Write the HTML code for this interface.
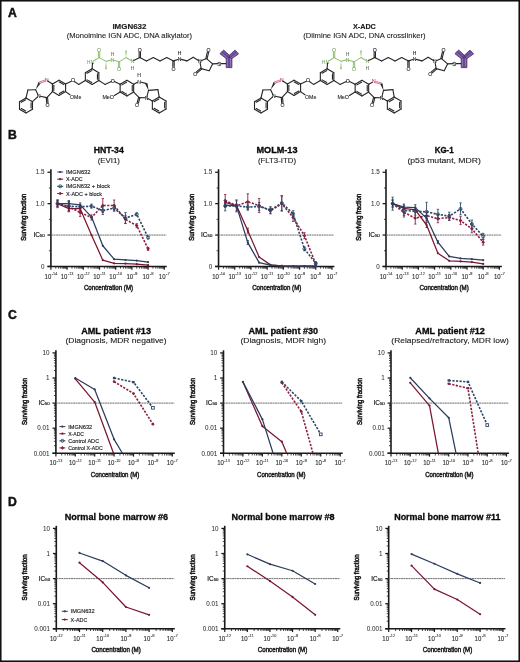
<!DOCTYPE html><html><head><meta charset="utf-8"><style>html,body{margin:0;padding:0;background:#fff;}svg{display:block;will-change:transform;}</style></head><body>
<svg width="520" height="662" viewBox="0 0 520 662" font-family='"Liberation Sans", sans-serif'>
<rect x="0" y="0" width="520" height="662" fill="#fff"/>
<text x="7.90" y="16.50" font-size="12.2" text-anchor="start" font-weight="bold" fill="#111" stroke="#111" stroke-width="0.45" >A</text>
<text x="7.90" y="139.20" font-size="12.2" text-anchor="start" font-weight="bold" fill="#111" stroke="#111" stroke-width="0.45" >B</text>
<text x="7.90" y="319.30" font-size="12.2" text-anchor="start" font-weight="bold" fill="#111" stroke="#111" stroke-width="0.45" >C</text>
<text x="7.90" y="506.20" font-size="12.2" text-anchor="start" font-weight="bold" fill="#111" stroke="#111" stroke-width="0.45" >D</text>
<g transform="translate(0,0)">
<line x1="26.00" y1="97.90" x2="32.49" y2="101.65" stroke="#262626" stroke-width="1.1" stroke-linecap="round"/>
<line x1="32.49" y1="101.65" x2="32.49" y2="109.15" stroke="#262626" stroke-width="1.1" stroke-linecap="round"/>
<line x1="32.49" y1="109.15" x2="26.00" y2="112.90" stroke="#262626" stroke-width="1.1" stroke-linecap="round"/>
<line x1="26.00" y1="112.90" x2="19.50" y2="109.15" stroke="#262626" stroke-width="1.1" stroke-linecap="round"/>
<line x1="19.50" y1="109.15" x2="19.50" y2="101.65" stroke="#262626" stroke-width="1.1" stroke-linecap="round"/>
<line x1="19.50" y1="101.65" x2="26.00" y2="97.90" stroke="#262626" stroke-width="1.1" stroke-linecap="round"/>
<line x1="21.24" y1="102.26" x2="25.66" y2="99.71" stroke="#262626" stroke-width="1.1" stroke-linecap="round"/>
<line x1="31.09" y1="102.85" x2="31.09" y2="107.95" stroke="#262626" stroke-width="1.1" stroke-linecap="round"/>
<line x1="25.66" y1="111.09" x2="21.24" y2="108.54" stroke="#262626" stroke-width="1.1" stroke-linecap="round"/>
<line x1="26.00" y1="97.90" x2="27.90" y2="90.00" stroke="#262626" stroke-width="1.1" stroke-linecap="round"/>
<line x1="27.90" y1="90.00" x2="35.60" y2="89.80" stroke="#262626" stroke-width="1.1" stroke-linecap="round"/>
<line x1="35.60" y1="89.80" x2="37.99" y2="94.74" stroke="#262626" stroke-width="1.1" stroke-linecap="round"/>
<line x1="32.49" y1="101.65" x2="37.57" y2="96.95" stroke="#262626" stroke-width="1.1" stroke-linecap="round"/>
<text x="38.80" y="97.77" font-size="4.93" text-anchor="middle" fill="#262626" stroke="#262626" stroke-width="0.12">N</text>
<path d="M35.60,89.80L40.65,83.18L38.55,82.02Z" fill="#262626"/>
<line x1="39.38" y1="81.99" x2="44.49" y2="80.19" stroke="#d4829f" stroke-width="1.1" stroke-linecap="round"/>
<line x1="39.82" y1="83.21" x2="44.92" y2="81.41" stroke="#d4829f" stroke-width="1.1" stroke-linecap="round"/>
<text x="46.60" y="81.74" font-size="5.38" text-anchor="middle" fill="#c04a78" stroke="#c04a78" stroke-width="0.12">N</text>
<line x1="59.00" y1="80.20" x2="65.58" y2="84.00" stroke="#262626" stroke-width="1.1" stroke-linecap="round"/>
<line x1="65.58" y1="84.00" x2="65.58" y2="91.60" stroke="#262626" stroke-width="1.1" stroke-linecap="round"/>
<line x1="65.58" y1="91.60" x2="59.00" y2="95.40" stroke="#262626" stroke-width="1.1" stroke-linecap="round"/>
<line x1="59.00" y1="95.40" x2="52.42" y2="91.60" stroke="#262626" stroke-width="1.1" stroke-linecap="round"/>
<line x1="52.42" y1="91.60" x2="52.42" y2="84.00" stroke="#262626" stroke-width="1.1" stroke-linecap="round"/>
<line x1="52.42" y1="84.00" x2="59.00" y2="80.20" stroke="#262626" stroke-width="1.1" stroke-linecap="round"/>
<line x1="59.34" y1="82.01" x2="63.84" y2="84.61" stroke="#262626" stroke-width="1.1" stroke-linecap="round"/>
<line x1="63.84" y1="90.99" x2="59.34" y2="93.59" stroke="#262626" stroke-width="1.1" stroke-linecap="round"/>
<line x1="53.82" y1="90.40" x2="53.82" y2="85.20" stroke="#262626" stroke-width="1.1" stroke-linecap="round"/>
<line x1="47.75" y1="81.05" x2="52.42" y2="84.00" stroke="#262626" stroke-width="1.1" stroke-linecap="round"/>
<line x1="52.42" y1="91.60" x2="46.90" y2="97.60" stroke="#262626" stroke-width="1.1" stroke-linecap="round"/>
<line x1="46.90" y1="97.60" x2="40.17" y2="96.30" stroke="#262626" stroke-width="1.1" stroke-linecap="round"/>
<line x1="47.55" y1="97.54" x2="48.01" y2="102.95" stroke="#262626" stroke-width="1.1" stroke-linecap="round"/>
<line x1="46.25" y1="97.66" x2="46.72" y2="103.06" stroke="#262626" stroke-width="1.1" stroke-linecap="round"/>
<text x="47.60" y="107.25" font-size="5.15" text-anchor="middle" fill="#262626" stroke="#262626" stroke-width="0.12">O</text>
<line x1="65.58" y1="84.00" x2="71.36" y2="81.32" stroke="#262626" stroke-width="1.1" stroke-linecap="round"/>
<line x1="74.31" y1="81.54" x2="78.60" y2="84.40" stroke="#262626" stroke-width="1.1" stroke-linecap="round"/>
<text x="72.90" y="82.45" font-size="5.15" text-anchor="middle" fill="#262626" stroke="#262626" stroke-width="0.12">O</text>
<line x1="65.58" y1="91.60" x2="69.99" y2="94.68" stroke="#262626" stroke-width="1.1" stroke-linecap="round"/>
<text x="70.0" y="98.5" font-size="5.1" fill="#262626" stroke="#262626" stroke-width="0.1" textLength="11.3" lengthAdjust="spacingAndGlyphs">OMe</text>
<line x1="92.10" y1="68.80" x2="98.85" y2="72.70" stroke="#262626" stroke-width="1.1" stroke-linecap="round"/>
<line x1="98.85" y1="72.70" x2="98.85" y2="80.50" stroke="#262626" stroke-width="1.1" stroke-linecap="round"/>
<line x1="98.85" y1="80.50" x2="92.10" y2="84.40" stroke="#262626" stroke-width="1.1" stroke-linecap="round"/>
<line x1="92.10" y1="84.40" x2="85.35" y2="80.50" stroke="#262626" stroke-width="1.1" stroke-linecap="round"/>
<line x1="85.35" y1="80.50" x2="85.35" y2="72.70" stroke="#262626" stroke-width="1.1" stroke-linecap="round"/>
<line x1="85.35" y1="72.70" x2="92.10" y2="68.80" stroke="#262626" stroke-width="1.1" stroke-linecap="round"/>
<line x1="97.45" y1="73.90" x2="97.45" y2="79.30" stroke="#262626" stroke-width="1.1" stroke-linecap="round"/>
<line x1="91.76" y1="82.59" x2="87.08" y2="79.89" stroke="#262626" stroke-width="1.1" stroke-linecap="round"/>
<line x1="87.08" y1="73.31" x2="91.76" y2="70.61" stroke="#262626" stroke-width="1.1" stroke-linecap="round"/>
<line x1="78.60" y1="84.40" x2="85.35" y2="80.50" stroke="#262626" stroke-width="1.1" stroke-linecap="round"/>
<line x1="98.85" y1="80.50" x2="105.00" y2="84.40" stroke="#262626" stroke-width="1.1" stroke-linecap="round"/>
<line x1="105.00" y1="84.40" x2="111.26" y2="81.51" stroke="#262626" stroke-width="1.1" stroke-linecap="round"/>
<text x="112.80" y="82.65" font-size="5.15" text-anchor="middle" fill="#262626" stroke="#262626" stroke-width="0.12">O</text>
<line x1="126.90" y1="80.35" x2="133.65" y2="84.25" stroke="#262626" stroke-width="1.1" stroke-linecap="round"/>
<line x1="133.65" y1="84.25" x2="133.65" y2="92.05" stroke="#262626" stroke-width="1.1" stroke-linecap="round"/>
<line x1="133.65" y1="92.05" x2="126.90" y2="95.95" stroke="#262626" stroke-width="1.1" stroke-linecap="round"/>
<line x1="126.90" y1="95.95" x2="120.15" y2="92.05" stroke="#262626" stroke-width="1.1" stroke-linecap="round"/>
<line x1="120.15" y1="92.05" x2="120.15" y2="84.25" stroke="#262626" stroke-width="1.1" stroke-linecap="round"/>
<line x1="120.15" y1="84.25" x2="126.90" y2="80.35" stroke="#262626" stroke-width="1.1" stroke-linecap="round"/>
<line x1="132.25" y1="85.45" x2="132.25" y2="90.85" stroke="#262626" stroke-width="1.1" stroke-linecap="round"/>
<line x1="126.56" y1="94.14" x2="121.88" y2="91.44" stroke="#262626" stroke-width="1.1" stroke-linecap="round"/>
<line x1="121.88" y1="84.86" x2="126.56" y2="82.16" stroke="#262626" stroke-width="1.1" stroke-linecap="round"/>
<line x1="114.34" y1="81.52" x2="120.15" y2="84.25" stroke="#262626" stroke-width="1.1" stroke-linecap="round"/>
<line x1="120.15" y1="92.05" x2="114.38" y2="95.48" stroke="#262626" stroke-width="1.1" stroke-linecap="round"/>
<text x="102.4" y="99.0" font-size="5.1" fill="#262626" stroke="#262626" stroke-width="0.1" textLength="11.6" lengthAdjust="spacingAndGlyphs">MeO</text>
<line x1="133.65" y1="84.25" x2="137.57" y2="82.31" stroke="#262626" stroke-width="1.1" stroke-linecap="round"/>
<line x1="140.74" y1="82.07" x2="146.40" y2="83.60" stroke="#262626" stroke-width="1.1" stroke-linecap="round"/>
<text x="139.00" y="83.65" font-size="5.15" text-anchor="middle" fill="#445" stroke="#445" stroke-width="0.12">N</text>
<text x="139.00" y="77.45" font-size="5.15" text-anchor="middle" fill="#445" stroke="#445" stroke-width="0.12">H</text>
<path d="M148.50,90.40L147.55,83.25L145.25,83.95Z" fill="#262626"/>
<line x1="133.65" y1="92.05" x2="139.20" y2="97.60" stroke="#262626" stroke-width="1.1" stroke-linecap="round"/>
<line x1="139.83" y1="97.77" x2="138.44" y2="103.02" stroke="#262626" stroke-width="1.1" stroke-linecap="round"/>
<line x1="138.57" y1="97.43" x2="137.18" y2="102.69" stroke="#262626" stroke-width="1.1" stroke-linecap="round"/>
<text x="137.10" y="107.05" font-size="5.15" text-anchor="middle" fill="#262626" stroke="#262626" stroke-width="0.12">O</text>
<line x1="139.20" y1="97.60" x2="145.10" y2="97.76" stroke="#262626" stroke-width="1.1" stroke-linecap="round"/>
<line x1="148.50" y1="90.40" x2="146.97" y2="96.35" stroke="#262626" stroke-width="1.1" stroke-linecap="round"/>
<text x="146.60" y="99.57" font-size="4.93" text-anchor="middle" fill="#262626" stroke="#262626" stroke-width="0.12">N</text>
<line x1="159.20" y1="97.10" x2="166.04" y2="101.05" stroke="#262626" stroke-width="1.1" stroke-linecap="round"/>
<line x1="166.04" y1="101.05" x2="166.04" y2="108.95" stroke="#262626" stroke-width="1.1" stroke-linecap="round"/>
<line x1="166.04" y1="108.95" x2="159.20" y2="112.90" stroke="#262626" stroke-width="1.1" stroke-linecap="round"/>
<line x1="159.20" y1="112.90" x2="152.36" y2="108.95" stroke="#262626" stroke-width="1.1" stroke-linecap="round"/>
<line x1="152.36" y1="108.95" x2="152.36" y2="101.05" stroke="#262626" stroke-width="1.1" stroke-linecap="round"/>
<line x1="152.36" y1="101.05" x2="159.20" y2="97.10" stroke="#262626" stroke-width="1.1" stroke-linecap="round"/>
<line x1="164.64" y1="102.25" x2="164.64" y2="107.75" stroke="#262626" stroke-width="1.1" stroke-linecap="round"/>
<line x1="158.86" y1="111.09" x2="154.10" y2="108.34" stroke="#262626" stroke-width="1.1" stroke-linecap="round"/>
<line x1="154.10" y1="101.66" x2="158.86" y2="98.91" stroke="#262626" stroke-width="1.1" stroke-linecap="round"/>
<line x1="148.50" y1="90.40" x2="157.90" y2="89.60" stroke="#262626" stroke-width="1.1" stroke-linecap="round"/>
<line x1="157.90" y1="89.60" x2="159.20" y2="97.10" stroke="#262626" stroke-width="1.1" stroke-linecap="round"/>
<line x1="147.91" y1="98.54" x2="152.36" y2="101.05" stroke="#262626" stroke-width="1.1" stroke-linecap="round"/>
<line x1="92.10" y1="68.80" x2="92.50" y2="63.10" stroke="#262626" stroke-width="1.1" stroke-linecap="round"/>
<text x="86.5" y="63.6" font-size="5.1" fill="#7da66a" textLength="8.0" lengthAdjust="spacingAndGlyphs">HN</text>
<line x1="93.96" y1="60.76" x2="99.10" y2="57.60" stroke="#93c173" stroke-width="1.1" stroke-linecap="round"/>
<line x1="98.45" y1="57.60" x2="98.45" y2="52.10" stroke="#93c173" stroke-width="1.0" stroke-linecap="round"/>
<line x1="99.75" y1="57.60" x2="99.75" y2="52.10" stroke="#93c173" stroke-width="1.0" stroke-linecap="round"/>
<text x="99.10" y="52.25" font-size="5.15" text-anchor="middle" fill="#7da66a" stroke="#7da66a" stroke-width="0.12">O</text>
<line x1="99.10" y1="57.60" x2="106.00" y2="61.30" stroke="#93c173" stroke-width="1.0" stroke-linecap="round"/>
<path d="M106.00,61.30L105.10,69.20L106.90,69.20Z" fill="#93c173"/>
<line x1="106.00" y1="61.30" x2="111.04" y2="60.14" stroke="#93c173" stroke-width="1.1" stroke-linecap="round"/>
<text x="112.50" y="61.57" font-size="4.93" text-anchor="middle" fill="#7da66a" stroke="#7da66a" stroke-width="0.12">N</text>
<text x="112.50" y="55.97" font-size="4.93" text-anchor="middle" fill="#6a7a6a" stroke="#6a7a6a" stroke-width="0.12">H</text>
<line x1="113.93" y1="60.24" x2="119.00" y2="61.80" stroke="#93c173" stroke-width="1.1" stroke-linecap="round"/>
<line x1="119.65" y1="61.80" x2="119.65" y2="67.40" stroke="#93c173" stroke-width="1.0" stroke-linecap="round"/>
<line x1="118.35" y1="61.80" x2="118.35" y2="67.40" stroke="#93c173" stroke-width="1.0" stroke-linecap="round"/>
<text x="119.00" y="71.45" font-size="5.15" text-anchor="middle" fill="#7da66a" stroke="#7da66a" stroke-width="0.12">O</text>
<line x1="119.00" y1="61.80" x2="126.00" y2="57.60" stroke="#93c173" stroke-width="1.0" stroke-linecap="round"/>
<path d="M126.00,57.60L126.90,50.60L125.10,50.60Z" fill="#93c173"/>
<line x1="126.00" y1="57.60" x2="131.09" y2="60.46" stroke="#93c173" stroke-width="1.1" stroke-linecap="round"/>
<text x="132.40" y="62.97" font-size="4.93" text-anchor="middle" fill="#7da66a" stroke="#7da66a" stroke-width="0.12">N</text>
<text x="132.40" y="69.77" font-size="4.93" text-anchor="middle" fill="#6a7a6a" stroke="#6a7a6a" stroke-width="0.12">H</text>
<line x1="133.75" y1="60.54" x2="139.80" y2="57.60" stroke="#262626" stroke-width="1.1" stroke-linecap="round"/>
<line x1="139.15" y1="57.60" x2="139.15" y2="52.00" stroke="#262626" stroke-width="1.1" stroke-linecap="round"/>
<line x1="140.45" y1="57.60" x2="140.45" y2="52.00" stroke="#262626" stroke-width="1.1" stroke-linecap="round"/>
<text x="139.80" y="52.05" font-size="5.15" text-anchor="middle" fill="#262626" stroke="#262626" stroke-width="0.12">O</text>
<line x1="139.80" y1="57.60" x2="146.50" y2="60.90" stroke="#262626" stroke-width="1.1" stroke-linecap="round"/>
<line x1="146.50" y1="60.90" x2="153.30" y2="57.50" stroke="#262626" stroke-width="1.1" stroke-linecap="round"/>
<line x1="153.30" y1="57.50" x2="160.00" y2="60.90" stroke="#262626" stroke-width="1.1" stroke-linecap="round"/>
<line x1="160.00" y1="60.90" x2="166.70" y2="57.50" stroke="#262626" stroke-width="1.1" stroke-linecap="round"/>
<line x1="166.70" y1="57.50" x2="173.50" y2="60.90" stroke="#262626" stroke-width="1.1" stroke-linecap="round"/>
<line x1="174.15" y1="60.90" x2="174.15" y2="66.60" stroke="#262626" stroke-width="1.1" stroke-linecap="round"/>
<line x1="172.85" y1="60.90" x2="172.85" y2="66.60" stroke="#262626" stroke-width="1.1" stroke-linecap="round"/>
<text x="173.50" y="70.65" font-size="5.15" text-anchor="middle" fill="#262626" stroke="#262626" stroke-width="0.12">O</text>
<line x1="173.50" y1="60.90" x2="178.07" y2="59.48" stroke="#262626" stroke-width="1.1" stroke-linecap="round"/>
<text x="179.60" y="60.77" font-size="4.93" text-anchor="middle" fill="#262626" stroke="#262626" stroke-width="0.12">N</text>
<text x="179.60" y="54.77" font-size="4.93" text-anchor="middle" fill="#262626" stroke="#262626" stroke-width="0.12">H</text>
<line x1="181.15" y1="59.40" x2="186.90" y2="60.90" stroke="#262626" stroke-width="1.1" stroke-linecap="round"/>
<line x1="186.90" y1="60.90" x2="193.20" y2="57.30" stroke="#262626" stroke-width="1.1" stroke-linecap="round"/>
<line x1="193.20" y1="57.30" x2="198.51" y2="60.44" stroke="#262626" stroke-width="1.1" stroke-linecap="round"/>
<text x="199.80" y="62.97" font-size="4.93" text-anchor="middle" fill="#262626" stroke="#262626" stroke-width="0.12">N</text>
<line x1="201.20" y1="60.66" x2="206.50" y2="58.60" stroke="#262626" stroke-width="1.1" stroke-linecap="round"/>
<line x1="206.50" y1="58.60" x2="212.60" y2="63.90" stroke="#262626" stroke-width="1.1" stroke-linecap="round"/>
<line x1="212.60" y1="63.90" x2="209.20" y2="70.70" stroke="#262626" stroke-width="1.1" stroke-linecap="round"/>
<line x1="209.20" y1="70.70" x2="201.20" y2="68.60" stroke="#262626" stroke-width="1.1" stroke-linecap="round"/>
<line x1="201.20" y1="68.60" x2="200.08" y2="62.67" stroke="#262626" stroke-width="1.1" stroke-linecap="round"/>
<line x1="205.87" y1="58.45" x2="207.41" y2="51.81" stroke="#262626" stroke-width="1.1" stroke-linecap="round"/>
<line x1="207.13" y1="58.75" x2="208.67" y2="52.11" stroke="#262626" stroke-width="1.1" stroke-linecap="round"/>
<text x="208.50" y="51.85" font-size="5.15" text-anchor="middle" fill="#262626" stroke="#262626" stroke-width="0.12">O</text>
<line x1="201.62" y1="69.09" x2="197.24" y2="72.85" stroke="#262626" stroke-width="1.1" stroke-linecap="round"/>
<line x1="200.78" y1="68.11" x2="196.39" y2="71.87" stroke="#262626" stroke-width="1.1" stroke-linecap="round"/>
<text x="195.20" y="75.85" font-size="5.15" text-anchor="middle" fill="#262626" stroke="#262626" stroke-width="0.12">O</text>
<line x1="212.60" y1="63.90" x2="217.60" y2="63.67" stroke="#262626" stroke-width="1.1" stroke-linecap="round"/>
<text x="219.20" y="65.6" font-size="5.6" text-anchor="middle" fill="#4a4a4a" stroke="#4a4a4a" stroke-width="0.3">S</text>
<line x1="220.80" y1="63.60" x2="226.80" y2="63.60" stroke="#262626" stroke-width="1.1" stroke-linecap="round"/>
<g fill="#73559e" stroke="#4d2f70" stroke-width="0.8" stroke-linejoin="round">
<path d="M226.2,57.0 L226.2,67.6 L231.9,67.6 L231.9,57.0 Z"/>
<path d="M219.9,53.7 L223.7,50.1 L229.7,55.6 L227.4,58.8 L226.2,58.6 Z"/>
<path d="M238.6,53.9 L235.0,50.1 L229.0,55.6 L230.9,58.8 L231.9,58.6 Z"/>
</g>
<g stroke="#4d2f70" stroke-width="0.6" fill="none" stroke-linecap="round">
</g>
<g stroke="#9d83c2" stroke-width="0.7" fill="none" stroke-linecap="round">
<line x1="227.6" y1="58.6" x2="227.6" y2="66.4"/>
<line x1="230.5" y1="58.6" x2="230.5" y2="66.4"/>
<line x1="221.9" y1="53.2" x2="226.6" y2="57.3"/>
<line x1="236.6" y1="53.2" x2="231.7" y2="57.3"/>
</g>
<g stroke="#4d2f70" stroke-width="0.6" fill="none" stroke-linecap="round">
<line x1="229.05" y1="56.0" x2="229.05" y2="67.4"/>
<line x1="221.8" y1="51.9" x2="227.9" y2="57.3"/>
<line x1="236.7" y1="51.9" x2="230.4" y2="57.3"/>
</g>
</g>
<text x="129.40" y="29.00" font-size="7.6" text-anchor="middle" font-weight="bold" fill="#222" textLength="34.0" lengthAdjust="spacingAndGlyphs" stroke="#222" stroke-width="0.15" >IMGN632</text>
<text x="129.40" y="38.20" font-size="7.4" text-anchor="middle" font-weight="normal" fill="#222" textLength="125.3" lengthAdjust="spacingAndGlyphs" stroke="#222" stroke-width="0.1" >(Monoimine IGN ADC, DNA alkylator)</text>
<g transform="translate(235,0)">
<line x1="26.00" y1="97.90" x2="32.49" y2="101.65" stroke="#262626" stroke-width="1.1" stroke-linecap="round"/>
<line x1="32.49" y1="101.65" x2="32.49" y2="109.15" stroke="#262626" stroke-width="1.1" stroke-linecap="round"/>
<line x1="32.49" y1="109.15" x2="26.00" y2="112.90" stroke="#262626" stroke-width="1.1" stroke-linecap="round"/>
<line x1="26.00" y1="112.90" x2="19.50" y2="109.15" stroke="#262626" stroke-width="1.1" stroke-linecap="round"/>
<line x1="19.50" y1="109.15" x2="19.50" y2="101.65" stroke="#262626" stroke-width="1.1" stroke-linecap="round"/>
<line x1="19.50" y1="101.65" x2="26.00" y2="97.90" stroke="#262626" stroke-width="1.1" stroke-linecap="round"/>
<line x1="21.24" y1="102.26" x2="25.66" y2="99.71" stroke="#262626" stroke-width="1.1" stroke-linecap="round"/>
<line x1="31.09" y1="102.85" x2="31.09" y2="107.95" stroke="#262626" stroke-width="1.1" stroke-linecap="round"/>
<line x1="25.66" y1="111.09" x2="21.24" y2="108.54" stroke="#262626" stroke-width="1.1" stroke-linecap="round"/>
<line x1="26.00" y1="97.90" x2="27.90" y2="90.00" stroke="#262626" stroke-width="1.1" stroke-linecap="round"/>
<line x1="27.90" y1="90.00" x2="35.60" y2="89.80" stroke="#262626" stroke-width="1.1" stroke-linecap="round"/>
<line x1="35.60" y1="89.80" x2="37.99" y2="94.74" stroke="#262626" stroke-width="1.1" stroke-linecap="round"/>
<line x1="32.49" y1="101.65" x2="37.57" y2="96.95" stroke="#262626" stroke-width="1.1" stroke-linecap="round"/>
<text x="38.80" y="97.77" font-size="4.93" text-anchor="middle" fill="#262626" stroke="#262626" stroke-width="0.12">N</text>
<path d="M35.60,89.80L40.65,83.18L38.55,82.02Z" fill="#262626"/>
<line x1="39.38" y1="81.99" x2="44.49" y2="80.19" stroke="#d4829f" stroke-width="1.1" stroke-linecap="round"/>
<line x1="39.82" y1="83.21" x2="44.92" y2="81.41" stroke="#d4829f" stroke-width="1.1" stroke-linecap="round"/>
<text x="46.60" y="81.74" font-size="5.38" text-anchor="middle" fill="#c04a78" stroke="#c04a78" stroke-width="0.12">N</text>
<line x1="59.00" y1="80.20" x2="65.58" y2="84.00" stroke="#262626" stroke-width="1.1" stroke-linecap="round"/>
<line x1="65.58" y1="84.00" x2="65.58" y2="91.60" stroke="#262626" stroke-width="1.1" stroke-linecap="round"/>
<line x1="65.58" y1="91.60" x2="59.00" y2="95.40" stroke="#262626" stroke-width="1.1" stroke-linecap="round"/>
<line x1="59.00" y1="95.40" x2="52.42" y2="91.60" stroke="#262626" stroke-width="1.1" stroke-linecap="round"/>
<line x1="52.42" y1="91.60" x2="52.42" y2="84.00" stroke="#262626" stroke-width="1.1" stroke-linecap="round"/>
<line x1="52.42" y1="84.00" x2="59.00" y2="80.20" stroke="#262626" stroke-width="1.1" stroke-linecap="round"/>
<line x1="59.34" y1="82.01" x2="63.84" y2="84.61" stroke="#262626" stroke-width="1.1" stroke-linecap="round"/>
<line x1="63.84" y1="90.99" x2="59.34" y2="93.59" stroke="#262626" stroke-width="1.1" stroke-linecap="round"/>
<line x1="53.82" y1="90.40" x2="53.82" y2="85.20" stroke="#262626" stroke-width="1.1" stroke-linecap="round"/>
<line x1="47.75" y1="81.05" x2="52.42" y2="84.00" stroke="#262626" stroke-width="1.1" stroke-linecap="round"/>
<line x1="52.42" y1="91.60" x2="46.90" y2="97.60" stroke="#262626" stroke-width="1.1" stroke-linecap="round"/>
<line x1="46.90" y1="97.60" x2="40.17" y2="96.30" stroke="#262626" stroke-width="1.1" stroke-linecap="round"/>
<line x1="47.55" y1="97.54" x2="48.01" y2="102.95" stroke="#262626" stroke-width="1.1" stroke-linecap="round"/>
<line x1="46.25" y1="97.66" x2="46.72" y2="103.06" stroke="#262626" stroke-width="1.1" stroke-linecap="round"/>
<text x="47.60" y="107.25" font-size="5.15" text-anchor="middle" fill="#262626" stroke="#262626" stroke-width="0.12">O</text>
<line x1="65.58" y1="84.00" x2="71.36" y2="81.32" stroke="#262626" stroke-width="1.1" stroke-linecap="round"/>
<line x1="74.31" y1="81.54" x2="78.60" y2="84.40" stroke="#262626" stroke-width="1.1" stroke-linecap="round"/>
<text x="72.90" y="82.45" font-size="5.15" text-anchor="middle" fill="#262626" stroke="#262626" stroke-width="0.12">O</text>
<line x1="65.58" y1="91.60" x2="69.99" y2="94.68" stroke="#262626" stroke-width="1.1" stroke-linecap="round"/>
<text x="70.0" y="98.5" font-size="5.1" fill="#262626" stroke="#262626" stroke-width="0.1" textLength="11.3" lengthAdjust="spacingAndGlyphs">OMe</text>
<line x1="92.10" y1="68.80" x2="98.85" y2="72.70" stroke="#262626" stroke-width="1.1" stroke-linecap="round"/>
<line x1="98.85" y1="72.70" x2="98.85" y2="80.50" stroke="#262626" stroke-width="1.1" stroke-linecap="round"/>
<line x1="98.85" y1="80.50" x2="92.10" y2="84.40" stroke="#262626" stroke-width="1.1" stroke-linecap="round"/>
<line x1="92.10" y1="84.40" x2="85.35" y2="80.50" stroke="#262626" stroke-width="1.1" stroke-linecap="round"/>
<line x1="85.35" y1="80.50" x2="85.35" y2="72.70" stroke="#262626" stroke-width="1.1" stroke-linecap="round"/>
<line x1="85.35" y1="72.70" x2="92.10" y2="68.80" stroke="#262626" stroke-width="1.1" stroke-linecap="round"/>
<line x1="97.45" y1="73.90" x2="97.45" y2="79.30" stroke="#262626" stroke-width="1.1" stroke-linecap="round"/>
<line x1="91.76" y1="82.59" x2="87.08" y2="79.89" stroke="#262626" stroke-width="1.1" stroke-linecap="round"/>
<line x1="87.08" y1="73.31" x2="91.76" y2="70.61" stroke="#262626" stroke-width="1.1" stroke-linecap="round"/>
<line x1="78.60" y1="84.40" x2="85.35" y2="80.50" stroke="#262626" stroke-width="1.1" stroke-linecap="round"/>
<line x1="98.85" y1="80.50" x2="105.00" y2="84.40" stroke="#262626" stroke-width="1.1" stroke-linecap="round"/>
<line x1="105.00" y1="84.40" x2="111.26" y2="81.51" stroke="#262626" stroke-width="1.1" stroke-linecap="round"/>
<text x="112.80" y="82.65" font-size="5.15" text-anchor="middle" fill="#262626" stroke="#262626" stroke-width="0.12">O</text>
<line x1="126.90" y1="80.35" x2="133.65" y2="84.25" stroke="#262626" stroke-width="1.1" stroke-linecap="round"/>
<line x1="133.65" y1="84.25" x2="133.65" y2="92.05" stroke="#262626" stroke-width="1.1" stroke-linecap="round"/>
<line x1="133.65" y1="92.05" x2="126.90" y2="95.95" stroke="#262626" stroke-width="1.1" stroke-linecap="round"/>
<line x1="126.90" y1="95.95" x2="120.15" y2="92.05" stroke="#262626" stroke-width="1.1" stroke-linecap="round"/>
<line x1="120.15" y1="92.05" x2="120.15" y2="84.25" stroke="#262626" stroke-width="1.1" stroke-linecap="round"/>
<line x1="120.15" y1="84.25" x2="126.90" y2="80.35" stroke="#262626" stroke-width="1.1" stroke-linecap="round"/>
<line x1="132.25" y1="85.45" x2="132.25" y2="90.85" stroke="#262626" stroke-width="1.1" stroke-linecap="round"/>
<line x1="126.56" y1="94.14" x2="121.88" y2="91.44" stroke="#262626" stroke-width="1.1" stroke-linecap="round"/>
<line x1="121.88" y1="84.86" x2="126.56" y2="82.16" stroke="#262626" stroke-width="1.1" stroke-linecap="round"/>
<line x1="114.34" y1="81.52" x2="120.15" y2="84.25" stroke="#262626" stroke-width="1.1" stroke-linecap="round"/>
<line x1="120.15" y1="92.05" x2="114.38" y2="95.48" stroke="#262626" stroke-width="1.1" stroke-linecap="round"/>
<text x="102.4" y="99.0" font-size="5.1" fill="#262626" stroke="#262626" stroke-width="0.1" textLength="11.6" lengthAdjust="spacingAndGlyphs">MeO</text>
<line x1="133.65" y1="84.25" x2="137.57" y2="82.31" stroke="#262626" stroke-width="1.1" stroke-linecap="round"/>
<line x1="140.91" y1="81.44" x2="146.57" y2="82.97" stroke="#d4829f" stroke-width="1.1" stroke-linecap="round"/>
<line x1="140.57" y1="82.70" x2="146.23" y2="84.23" stroke="#d4829f" stroke-width="1.1" stroke-linecap="round"/>
<text x="138.80" y="83.14" font-size="5.38" text-anchor="middle" fill="#c04a78" stroke="#c04a78" stroke-width="0.12">N</text>
<path d="M148.50,90.40L147.55,83.25L145.25,83.95Z" fill="#262626"/>
<line x1="133.65" y1="92.05" x2="139.20" y2="97.60" stroke="#262626" stroke-width="1.1" stroke-linecap="round"/>
<line x1="139.83" y1="97.77" x2="138.44" y2="103.02" stroke="#262626" stroke-width="1.1" stroke-linecap="round"/>
<line x1="138.57" y1="97.43" x2="137.18" y2="102.69" stroke="#262626" stroke-width="1.1" stroke-linecap="round"/>
<text x="137.10" y="107.05" font-size="5.15" text-anchor="middle" fill="#262626" stroke="#262626" stroke-width="0.12">O</text>
<line x1="139.20" y1="97.60" x2="145.10" y2="97.76" stroke="#262626" stroke-width="1.1" stroke-linecap="round"/>
<line x1="148.50" y1="90.40" x2="146.97" y2="96.35" stroke="#262626" stroke-width="1.1" stroke-linecap="round"/>
<text x="146.60" y="99.57" font-size="4.93" text-anchor="middle" fill="#262626" stroke="#262626" stroke-width="0.12">N</text>
<line x1="159.20" y1="97.10" x2="166.04" y2="101.05" stroke="#262626" stroke-width="1.1" stroke-linecap="round"/>
<line x1="166.04" y1="101.05" x2="166.04" y2="108.95" stroke="#262626" stroke-width="1.1" stroke-linecap="round"/>
<line x1="166.04" y1="108.95" x2="159.20" y2="112.90" stroke="#262626" stroke-width="1.1" stroke-linecap="round"/>
<line x1="159.20" y1="112.90" x2="152.36" y2="108.95" stroke="#262626" stroke-width="1.1" stroke-linecap="round"/>
<line x1="152.36" y1="108.95" x2="152.36" y2="101.05" stroke="#262626" stroke-width="1.1" stroke-linecap="round"/>
<line x1="152.36" y1="101.05" x2="159.20" y2="97.10" stroke="#262626" stroke-width="1.1" stroke-linecap="round"/>
<line x1="164.64" y1="102.25" x2="164.64" y2="107.75" stroke="#262626" stroke-width="1.1" stroke-linecap="round"/>
<line x1="158.86" y1="111.09" x2="154.10" y2="108.34" stroke="#262626" stroke-width="1.1" stroke-linecap="round"/>
<line x1="154.10" y1="101.66" x2="158.86" y2="98.91" stroke="#262626" stroke-width="1.1" stroke-linecap="round"/>
<line x1="148.50" y1="90.40" x2="157.90" y2="89.60" stroke="#262626" stroke-width="1.1" stroke-linecap="round"/>
<line x1="157.90" y1="89.60" x2="159.20" y2="97.10" stroke="#262626" stroke-width="1.1" stroke-linecap="round"/>
<line x1="147.91" y1="98.54" x2="152.36" y2="101.05" stroke="#262626" stroke-width="1.1" stroke-linecap="round"/>
<line x1="92.10" y1="68.80" x2="92.50" y2="63.10" stroke="#262626" stroke-width="1.1" stroke-linecap="round"/>
<text x="86.5" y="63.6" font-size="5.1" fill="#7da66a" textLength="8.0" lengthAdjust="spacingAndGlyphs">HN</text>
<line x1="93.96" y1="60.76" x2="99.10" y2="57.60" stroke="#93c173" stroke-width="1.1" stroke-linecap="round"/>
<line x1="98.45" y1="57.60" x2="98.45" y2="52.10" stroke="#93c173" stroke-width="1.0" stroke-linecap="round"/>
<line x1="99.75" y1="57.60" x2="99.75" y2="52.10" stroke="#93c173" stroke-width="1.0" stroke-linecap="round"/>
<text x="99.10" y="52.25" font-size="5.15" text-anchor="middle" fill="#7da66a" stroke="#7da66a" stroke-width="0.12">O</text>
<line x1="99.10" y1="57.60" x2="106.00" y2="61.30" stroke="#93c173" stroke-width="1.0" stroke-linecap="round"/>
<path d="M106.00,61.30L105.10,69.20L106.90,69.20Z" fill="#93c173"/>
<line x1="106.00" y1="61.30" x2="111.04" y2="60.14" stroke="#93c173" stroke-width="1.1" stroke-linecap="round"/>
<text x="112.50" y="61.57" font-size="4.93" text-anchor="middle" fill="#7da66a" stroke="#7da66a" stroke-width="0.12">N</text>
<text x="112.50" y="55.97" font-size="4.93" text-anchor="middle" fill="#6a7a6a" stroke="#6a7a6a" stroke-width="0.12">H</text>
<line x1="113.93" y1="60.24" x2="119.00" y2="61.80" stroke="#93c173" stroke-width="1.1" stroke-linecap="round"/>
<line x1="119.65" y1="61.80" x2="119.65" y2="67.40" stroke="#93c173" stroke-width="1.0" stroke-linecap="round"/>
<line x1="118.35" y1="61.80" x2="118.35" y2="67.40" stroke="#93c173" stroke-width="1.0" stroke-linecap="round"/>
<text x="119.00" y="71.45" font-size="5.15" text-anchor="middle" fill="#7da66a" stroke="#7da66a" stroke-width="0.12">O</text>
<line x1="119.00" y1="61.80" x2="126.00" y2="57.60" stroke="#93c173" stroke-width="1.0" stroke-linecap="round"/>
<path d="M126.00,57.60L126.90,50.60L125.10,50.60Z" fill="#93c173"/>
<line x1="126.00" y1="57.60" x2="131.09" y2="60.46" stroke="#93c173" stroke-width="1.1" stroke-linecap="round"/>
<text x="132.40" y="62.97" font-size="4.93" text-anchor="middle" fill="#7da66a" stroke="#7da66a" stroke-width="0.12">N</text>
<text x="132.40" y="69.77" font-size="4.93" text-anchor="middle" fill="#6a7a6a" stroke="#6a7a6a" stroke-width="0.12">H</text>
<line x1="133.75" y1="60.54" x2="139.80" y2="57.60" stroke="#262626" stroke-width="1.1" stroke-linecap="round"/>
<line x1="139.15" y1="57.60" x2="139.15" y2="52.00" stroke="#262626" stroke-width="1.1" stroke-linecap="round"/>
<line x1="140.45" y1="57.60" x2="140.45" y2="52.00" stroke="#262626" stroke-width="1.1" stroke-linecap="round"/>
<text x="139.80" y="52.05" font-size="5.15" text-anchor="middle" fill="#262626" stroke="#262626" stroke-width="0.12">O</text>
<line x1="139.80" y1="57.60" x2="146.50" y2="60.90" stroke="#262626" stroke-width="1.1" stroke-linecap="round"/>
<line x1="146.50" y1="60.90" x2="153.30" y2="57.50" stroke="#262626" stroke-width="1.1" stroke-linecap="round"/>
<line x1="153.30" y1="57.50" x2="160.00" y2="60.90" stroke="#262626" stroke-width="1.1" stroke-linecap="round"/>
<line x1="160.00" y1="60.90" x2="166.70" y2="57.50" stroke="#262626" stroke-width="1.1" stroke-linecap="round"/>
<line x1="166.70" y1="57.50" x2="173.50" y2="60.90" stroke="#262626" stroke-width="1.1" stroke-linecap="round"/>
<line x1="174.15" y1="60.90" x2="174.15" y2="66.60" stroke="#262626" stroke-width="1.1" stroke-linecap="round"/>
<line x1="172.85" y1="60.90" x2="172.85" y2="66.60" stroke="#262626" stroke-width="1.1" stroke-linecap="round"/>
<text x="173.50" y="70.65" font-size="5.15" text-anchor="middle" fill="#262626" stroke="#262626" stroke-width="0.12">O</text>
<line x1="173.50" y1="60.90" x2="178.07" y2="59.48" stroke="#262626" stroke-width="1.1" stroke-linecap="round"/>
<text x="179.60" y="60.77" font-size="4.93" text-anchor="middle" fill="#262626" stroke="#262626" stroke-width="0.12">N</text>
<text x="179.60" y="54.77" font-size="4.93" text-anchor="middle" fill="#262626" stroke="#262626" stroke-width="0.12">H</text>
<line x1="181.15" y1="59.40" x2="186.90" y2="60.90" stroke="#262626" stroke-width="1.1" stroke-linecap="round"/>
<line x1="186.90" y1="60.90" x2="193.20" y2="57.30" stroke="#262626" stroke-width="1.1" stroke-linecap="round"/>
<line x1="193.20" y1="57.30" x2="198.51" y2="60.44" stroke="#262626" stroke-width="1.1" stroke-linecap="round"/>
<text x="199.80" y="62.97" font-size="4.93" text-anchor="middle" fill="#262626" stroke="#262626" stroke-width="0.12">N</text>
<line x1="201.20" y1="60.66" x2="206.50" y2="58.60" stroke="#262626" stroke-width="1.1" stroke-linecap="round"/>
<line x1="206.50" y1="58.60" x2="212.60" y2="63.90" stroke="#262626" stroke-width="1.1" stroke-linecap="round"/>
<line x1="212.60" y1="63.90" x2="209.20" y2="70.70" stroke="#262626" stroke-width="1.1" stroke-linecap="round"/>
<line x1="209.20" y1="70.70" x2="201.20" y2="68.60" stroke="#262626" stroke-width="1.1" stroke-linecap="round"/>
<line x1="201.20" y1="68.60" x2="200.08" y2="62.67" stroke="#262626" stroke-width="1.1" stroke-linecap="round"/>
<line x1="205.87" y1="58.45" x2="207.41" y2="51.81" stroke="#262626" stroke-width="1.1" stroke-linecap="round"/>
<line x1="207.13" y1="58.75" x2="208.67" y2="52.11" stroke="#262626" stroke-width="1.1" stroke-linecap="round"/>
<text x="208.50" y="51.85" font-size="5.15" text-anchor="middle" fill="#262626" stroke="#262626" stroke-width="0.12">O</text>
<line x1="201.62" y1="69.09" x2="197.24" y2="72.85" stroke="#262626" stroke-width="1.1" stroke-linecap="round"/>
<line x1="200.78" y1="68.11" x2="196.39" y2="71.87" stroke="#262626" stroke-width="1.1" stroke-linecap="round"/>
<text x="195.20" y="75.85" font-size="5.15" text-anchor="middle" fill="#262626" stroke="#262626" stroke-width="0.12">O</text>
<line x1="212.60" y1="63.90" x2="217.60" y2="63.67" stroke="#262626" stroke-width="1.1" stroke-linecap="round"/>
<text x="219.20" y="65.6" font-size="5.6" text-anchor="middle" fill="#4a4a4a" stroke="#4a4a4a" stroke-width="0.3">S</text>
<line x1="220.80" y1="63.60" x2="226.80" y2="63.60" stroke="#262626" stroke-width="1.1" stroke-linecap="round"/>
<g fill="#73559e" stroke="#4d2f70" stroke-width="0.8" stroke-linejoin="round">
<path d="M226.2,57.0 L226.2,67.6 L231.9,67.6 L231.9,57.0 Z"/>
<path d="M219.9,53.7 L223.7,50.1 L229.7,55.6 L227.4,58.8 L226.2,58.6 Z"/>
<path d="M238.6,53.9 L235.0,50.1 L229.0,55.6 L230.9,58.8 L231.9,58.6 Z"/>
</g>
<g stroke="#4d2f70" stroke-width="0.6" fill="none" stroke-linecap="round">
</g>
<g stroke="#9d83c2" stroke-width="0.7" fill="none" stroke-linecap="round">
<line x1="227.6" y1="58.6" x2="227.6" y2="66.4"/>
<line x1="230.5" y1="58.6" x2="230.5" y2="66.4"/>
<line x1="221.9" y1="53.2" x2="226.6" y2="57.3"/>
<line x1="236.6" y1="53.2" x2="231.7" y2="57.3"/>
</g>
<g stroke="#4d2f70" stroke-width="0.6" fill="none" stroke-linecap="round">
<line x1="229.05" y1="56.0" x2="229.05" y2="67.4"/>
<line x1="221.8" y1="51.9" x2="227.9" y2="57.3"/>
<line x1="236.7" y1="51.9" x2="230.4" y2="57.3"/>
</g>
</g>
<text x="364.40" y="28.50" font-size="7.6" text-anchor="middle" font-weight="bold" fill="#222" textLength="22.9" lengthAdjust="spacingAndGlyphs" stroke="#222" stroke-width="0.15" >X-ADC</text>
<text x="364.40" y="38.20" font-size="7.4" text-anchor="middle" font-weight="normal" fill="#222" textLength="122.5" lengthAdjust="spacingAndGlyphs" stroke="#222" stroke-width="0.1" >(Diimine IGN ADC, DNA crosslinker)</text>
<line x1="50.90" y1="169.20" x2="50.90" y2="267.05" stroke="#1a1a1a" stroke-width="1.6" />
<line x1="47.50" y1="172.25" x2="50.90" y2="172.25" stroke="#1a1a1a" stroke-width="1.25" />
<text x="44.60" y="174.45" font-size="6.3" text-anchor="end" font-weight="normal" fill="#333" stroke="#333" stroke-width="0.05" >1.5</text>
<line x1="47.50" y1="203.65" x2="50.90" y2="203.65" stroke="#1a1a1a" stroke-width="1.25" />
<text x="44.60" y="205.85" font-size="6.3" text-anchor="end" font-weight="normal" fill="#333" stroke="#333" stroke-width="0.05" >1.0</text>
<line x1="47.50" y1="235.05" x2="50.90" y2="235.05" stroke="#1a1a1a" stroke-width="1.25" />
<line x1="47.50" y1="266.45" x2="50.90" y2="266.45" stroke="#1a1a1a" stroke-width="1.25" />
<text x="44.60" y="268.65" font-size="6.3" text-anchor="end" font-weight="normal" fill="#333" stroke="#333" stroke-width="0.05" >0</text>
<text x="44.70" y="237.35" font-size="6.4" text-anchor="end" fill="#222" stroke="#222" stroke-width="0.2">IC<tspan font-size="4.35" dy="-0.1">50</tspan></text>
<line x1="48.90" y1="250.75" x2="50.90" y2="250.75" stroke="#1a1a1a" stroke-width="0.8" />
<line x1="48.90" y1="219.35" x2="50.90" y2="219.35" stroke="#1a1a1a" stroke-width="0.8" />
<line x1="48.90" y1="187.95" x2="50.90" y2="187.95" stroke="#1a1a1a" stroke-width="0.8" />
<text transform="translate(23.50,217.30) rotate(-90)" x="0" y="0" font-size="7.4" text-anchor="middle" fill="#222" stroke="#222" stroke-width="0.55" textLength="47" lengthAdjust="spacingAndGlyphs" dominant-baseline="central">Surviving fraction</text>
<line x1="47.40" y1="266.45" x2="166.80" y2="266.45" stroke="#1a1a1a" stroke-width="1.5" />
<line x1="50.90" y1="266.45" x2="50.90" y2="269.75" stroke="#1a1a1a" stroke-width="1.2" />
<text x="44.55" y="278.60" font-size="7.0" text-anchor="start" font-weight="normal" fill="#2a2a2a" textLength="6.70" lengthAdjust="spacingAndGlyphs" stroke="#2a2a2a" stroke-width="0.12" >10</text>
<text x="51.75" y="275.30" font-size="4.4" text-anchor="start" font-weight="normal" fill="#444" textLength="5.50" lengthAdjust="spacingAndGlyphs" stroke="#444" stroke-width="0.12" >-14</text>
<line x1="55.78" y1="266.45" x2="55.78" y2="268.65" stroke="#1a1a1a" stroke-width="0.8" />
<line x1="58.63" y1="266.45" x2="58.63" y2="268.65" stroke="#1a1a1a" stroke-width="0.8" />
<line x1="60.65" y1="266.45" x2="60.65" y2="268.65" stroke="#1a1a1a" stroke-width="0.8" />
<line x1="62.22" y1="266.45" x2="62.22" y2="268.65" stroke="#1a1a1a" stroke-width="0.8" />
<line x1="63.51" y1="266.45" x2="63.51" y2="268.65" stroke="#1a1a1a" stroke-width="0.8" />
<line x1="64.59" y1="266.45" x2="64.59" y2="268.65" stroke="#1a1a1a" stroke-width="0.8" />
<line x1="65.53" y1="266.45" x2="65.53" y2="268.65" stroke="#1a1a1a" stroke-width="0.8" />
<line x1="66.36" y1="266.45" x2="66.36" y2="268.65" stroke="#1a1a1a" stroke-width="0.8" />
<line x1="67.10" y1="266.45" x2="67.10" y2="269.75" stroke="#1a1a1a" stroke-width="1.2" />
<text x="60.75" y="278.60" font-size="7.0" text-anchor="start" font-weight="normal" fill="#2a2a2a" textLength="6.70" lengthAdjust="spacingAndGlyphs" stroke="#2a2a2a" stroke-width="0.12" >10</text>
<text x="67.95" y="275.30" font-size="4.4" text-anchor="start" font-weight="normal" fill="#444" textLength="5.50" lengthAdjust="spacingAndGlyphs" stroke="#444" stroke-width="0.12" >-13</text>
<line x1="71.98" y1="266.45" x2="71.98" y2="268.65" stroke="#1a1a1a" stroke-width="0.8" />
<line x1="74.83" y1="266.45" x2="74.83" y2="268.65" stroke="#1a1a1a" stroke-width="0.8" />
<line x1="76.85" y1="266.45" x2="76.85" y2="268.65" stroke="#1a1a1a" stroke-width="0.8" />
<line x1="78.42" y1="266.45" x2="78.42" y2="268.65" stroke="#1a1a1a" stroke-width="0.8" />
<line x1="79.71" y1="266.45" x2="79.71" y2="268.65" stroke="#1a1a1a" stroke-width="0.8" />
<line x1="80.79" y1="266.45" x2="80.79" y2="268.65" stroke="#1a1a1a" stroke-width="0.8" />
<line x1="81.73" y1="266.45" x2="81.73" y2="268.65" stroke="#1a1a1a" stroke-width="0.8" />
<line x1="82.56" y1="266.45" x2="82.56" y2="268.65" stroke="#1a1a1a" stroke-width="0.8" />
<line x1="83.30" y1="266.45" x2="83.30" y2="269.75" stroke="#1a1a1a" stroke-width="1.2" />
<text x="76.95" y="278.60" font-size="7.0" text-anchor="start" font-weight="normal" fill="#2a2a2a" textLength="6.70" lengthAdjust="spacingAndGlyphs" stroke="#2a2a2a" stroke-width="0.12" >10</text>
<text x="84.15" y="275.30" font-size="4.4" text-anchor="start" font-weight="normal" fill="#444" textLength="5.50" lengthAdjust="spacingAndGlyphs" stroke="#444" stroke-width="0.12" >-12</text>
<line x1="88.18" y1="266.45" x2="88.18" y2="268.65" stroke="#1a1a1a" stroke-width="0.8" />
<line x1="91.03" y1="266.45" x2="91.03" y2="268.65" stroke="#1a1a1a" stroke-width="0.8" />
<line x1="93.05" y1="266.45" x2="93.05" y2="268.65" stroke="#1a1a1a" stroke-width="0.8" />
<line x1="94.62" y1="266.45" x2="94.62" y2="268.65" stroke="#1a1a1a" stroke-width="0.8" />
<line x1="95.91" y1="266.45" x2="95.91" y2="268.65" stroke="#1a1a1a" stroke-width="0.8" />
<line x1="96.99" y1="266.45" x2="96.99" y2="268.65" stroke="#1a1a1a" stroke-width="0.8" />
<line x1="97.93" y1="266.45" x2="97.93" y2="268.65" stroke="#1a1a1a" stroke-width="0.8" />
<line x1="98.76" y1="266.45" x2="98.76" y2="268.65" stroke="#1a1a1a" stroke-width="0.8" />
<line x1="99.50" y1="266.45" x2="99.50" y2="269.75" stroke="#1a1a1a" stroke-width="1.2" />
<text x="93.15" y="278.60" font-size="7.0" text-anchor="start" font-weight="normal" fill="#2a2a2a" textLength="6.70" lengthAdjust="spacingAndGlyphs" stroke="#2a2a2a" stroke-width="0.12" >10</text>
<text x="100.35" y="275.30" font-size="4.4" text-anchor="start" font-weight="normal" fill="#444" textLength="5.50" lengthAdjust="spacingAndGlyphs" stroke="#444" stroke-width="0.12" >-11</text>
<line x1="104.38" y1="266.45" x2="104.38" y2="268.65" stroke="#1a1a1a" stroke-width="0.8" />
<line x1="107.23" y1="266.45" x2="107.23" y2="268.65" stroke="#1a1a1a" stroke-width="0.8" />
<line x1="109.25" y1="266.45" x2="109.25" y2="268.65" stroke="#1a1a1a" stroke-width="0.8" />
<line x1="110.82" y1="266.45" x2="110.82" y2="268.65" stroke="#1a1a1a" stroke-width="0.8" />
<line x1="112.11" y1="266.45" x2="112.11" y2="268.65" stroke="#1a1a1a" stroke-width="0.8" />
<line x1="113.19" y1="266.45" x2="113.19" y2="268.65" stroke="#1a1a1a" stroke-width="0.8" />
<line x1="114.13" y1="266.45" x2="114.13" y2="268.65" stroke="#1a1a1a" stroke-width="0.8" />
<line x1="114.96" y1="266.45" x2="114.96" y2="268.65" stroke="#1a1a1a" stroke-width="0.8" />
<line x1="115.70" y1="266.45" x2="115.70" y2="269.75" stroke="#1a1a1a" stroke-width="1.2" />
<text x="109.35" y="278.60" font-size="7.0" text-anchor="start" font-weight="normal" fill="#2a2a2a" textLength="6.70" lengthAdjust="spacingAndGlyphs" stroke="#2a2a2a" stroke-width="0.12" >10</text>
<text x="116.55" y="275.30" font-size="4.4" text-anchor="start" font-weight="normal" fill="#444" textLength="5.50" lengthAdjust="spacingAndGlyphs" stroke="#444" stroke-width="0.12" >-10</text>
<line x1="120.58" y1="266.45" x2="120.58" y2="268.65" stroke="#1a1a1a" stroke-width="0.8" />
<line x1="123.43" y1="266.45" x2="123.43" y2="268.65" stroke="#1a1a1a" stroke-width="0.8" />
<line x1="125.45" y1="266.45" x2="125.45" y2="268.65" stroke="#1a1a1a" stroke-width="0.8" />
<line x1="127.02" y1="266.45" x2="127.02" y2="268.65" stroke="#1a1a1a" stroke-width="0.8" />
<line x1="128.31" y1="266.45" x2="128.31" y2="268.65" stroke="#1a1a1a" stroke-width="0.8" />
<line x1="129.39" y1="266.45" x2="129.39" y2="268.65" stroke="#1a1a1a" stroke-width="0.8" />
<line x1="130.33" y1="266.45" x2="130.33" y2="268.65" stroke="#1a1a1a" stroke-width="0.8" />
<line x1="131.16" y1="266.45" x2="131.16" y2="268.65" stroke="#1a1a1a" stroke-width="0.8" />
<line x1="131.90" y1="266.45" x2="131.90" y2="269.75" stroke="#1a1a1a" stroke-width="1.2" />
<text x="126.40" y="278.60" font-size="7.0" text-anchor="start" font-weight="normal" fill="#2a2a2a" textLength="6.70" lengthAdjust="spacingAndGlyphs" stroke="#2a2a2a" stroke-width="0.12" >10</text>
<text x="133.60" y="275.30" font-size="4.4" text-anchor="start" font-weight="normal" fill="#444" textLength="3.80" lengthAdjust="spacingAndGlyphs" stroke="#444" stroke-width="0.12" >-9</text>
<line x1="136.78" y1="266.45" x2="136.78" y2="268.65" stroke="#1a1a1a" stroke-width="0.8" />
<line x1="139.63" y1="266.45" x2="139.63" y2="268.65" stroke="#1a1a1a" stroke-width="0.8" />
<line x1="141.65" y1="266.45" x2="141.65" y2="268.65" stroke="#1a1a1a" stroke-width="0.8" />
<line x1="143.22" y1="266.45" x2="143.22" y2="268.65" stroke="#1a1a1a" stroke-width="0.8" />
<line x1="144.51" y1="266.45" x2="144.51" y2="268.65" stroke="#1a1a1a" stroke-width="0.8" />
<line x1="145.59" y1="266.45" x2="145.59" y2="268.65" stroke="#1a1a1a" stroke-width="0.8" />
<line x1="146.53" y1="266.45" x2="146.53" y2="268.65" stroke="#1a1a1a" stroke-width="0.8" />
<line x1="147.36" y1="266.45" x2="147.36" y2="268.65" stroke="#1a1a1a" stroke-width="0.8" />
<line x1="148.10" y1="266.45" x2="148.10" y2="269.75" stroke="#1a1a1a" stroke-width="1.2" />
<text x="142.60" y="278.60" font-size="7.0" text-anchor="start" font-weight="normal" fill="#2a2a2a" textLength="6.70" lengthAdjust="spacingAndGlyphs" stroke="#2a2a2a" stroke-width="0.12" >10</text>
<text x="149.80" y="275.30" font-size="4.4" text-anchor="start" font-weight="normal" fill="#444" textLength="3.80" lengthAdjust="spacingAndGlyphs" stroke="#444" stroke-width="0.12" >-8</text>
<line x1="152.98" y1="266.45" x2="152.98" y2="268.65" stroke="#1a1a1a" stroke-width="0.8" />
<line x1="155.83" y1="266.45" x2="155.83" y2="268.65" stroke="#1a1a1a" stroke-width="0.8" />
<line x1="157.85" y1="266.45" x2="157.85" y2="268.65" stroke="#1a1a1a" stroke-width="0.8" />
<line x1="159.42" y1="266.45" x2="159.42" y2="268.65" stroke="#1a1a1a" stroke-width="0.8" />
<line x1="160.71" y1="266.45" x2="160.71" y2="268.65" stroke="#1a1a1a" stroke-width="0.8" />
<line x1="161.79" y1="266.45" x2="161.79" y2="268.65" stroke="#1a1a1a" stroke-width="0.8" />
<line x1="162.73" y1="266.45" x2="162.73" y2="268.65" stroke="#1a1a1a" stroke-width="0.8" />
<line x1="163.56" y1="266.45" x2="163.56" y2="268.65" stroke="#1a1a1a" stroke-width="0.8" />
<line x1="164.30" y1="266.45" x2="164.30" y2="269.75" stroke="#1a1a1a" stroke-width="1.2" />
<text x="158.80" y="278.60" font-size="7.0" text-anchor="start" font-weight="normal" fill="#2a2a2a" textLength="6.70" lengthAdjust="spacingAndGlyphs" stroke="#2a2a2a" stroke-width="0.12" >10</text>
<text x="166.00" y="275.30" font-size="4.4" text-anchor="start" font-weight="normal" fill="#444" textLength="3.80" lengthAdjust="spacingAndGlyphs" stroke="#444" stroke-width="0.12" >-7</text>
<text x="108.50" y="290.00" font-size="7.4" text-anchor="middle" font-weight="normal" fill="#222" textLength="49.2" lengthAdjust="spacingAndGlyphs" stroke="#222" stroke-width="0.5" >Concentration (M)</text>
<line x1="50.90" y1="235.05" x2="166.30" y2="235.05" stroke="#686868" stroke-width="0.95" stroke-dasharray="2,0.45"/>
<path d="M57.51,203.65L68.84,206.79L80.16,212.44L91.48,217.47L102.81,205.53L114.13,205.53L125.45,219.35L136.78,225.63L148.10,248.87" fill="none" stroke="#8c1f40" stroke-width="1.6" stroke-dasharray="2.2,1.4" stroke-linejoin="round"/>
<line x1="57.51" y1="200.65" x2="57.51" y2="206.65" stroke="#8c1f40" stroke-width="0.9" />
<line x1="56.31" y1="200.65" x2="58.71" y2="200.65" stroke="#8c1f40" stroke-width="0.8" />
<line x1="56.31" y1="206.65" x2="58.71" y2="206.65" stroke="#8c1f40" stroke-width="0.8" />
<path d="M55.71,203.65L57.51,201.85L59.31,203.65L57.51,205.45Z" fill="#8c1f40"/>
<line x1="68.84" y1="201.79" x2="68.84" y2="211.79" stroke="#8c1f40" stroke-width="0.9" />
<line x1="67.64" y1="201.79" x2="70.04" y2="201.79" stroke="#8c1f40" stroke-width="0.8" />
<line x1="67.64" y1="211.79" x2="70.04" y2="211.79" stroke="#8c1f40" stroke-width="0.8" />
<path d="M67.04,206.79L68.84,204.99L70.64,206.79L68.84,208.59Z" fill="#8c1f40"/>
<line x1="80.16" y1="208.44" x2="80.16" y2="216.44" stroke="#8c1f40" stroke-width="0.9" />
<line x1="78.96" y1="208.44" x2="81.36" y2="208.44" stroke="#8c1f40" stroke-width="0.8" />
<line x1="78.96" y1="216.44" x2="81.36" y2="216.44" stroke="#8c1f40" stroke-width="0.8" />
<path d="M78.36,212.44L80.16,210.64L81.96,212.44L80.16,214.24Z" fill="#8c1f40"/>
<line x1="91.48" y1="214.87" x2="91.48" y2="220.07" stroke="#8c1f40" stroke-width="0.9" />
<line x1="90.28" y1="214.87" x2="92.68" y2="214.87" stroke="#8c1f40" stroke-width="0.8" />
<line x1="90.28" y1="220.07" x2="92.68" y2="220.07" stroke="#8c1f40" stroke-width="0.8" />
<path d="M89.68,217.47L91.48,215.67L93.28,217.47L91.48,219.27Z" fill="#8c1f40"/>
<line x1="102.81" y1="198.53" x2="102.81" y2="212.53" stroke="#8c1f40" stroke-width="0.9" />
<line x1="101.61" y1="198.53" x2="104.01" y2="198.53" stroke="#8c1f40" stroke-width="0.8" />
<line x1="101.61" y1="212.53" x2="104.01" y2="212.53" stroke="#8c1f40" stroke-width="0.8" />
<path d="M101.01,205.53L102.81,203.73L104.61,205.53L102.81,207.33Z" fill="#8c1f40"/>
<line x1="114.13" y1="200.03" x2="114.13" y2="211.03" stroke="#8c1f40" stroke-width="0.9" />
<line x1="112.93" y1="200.03" x2="115.33" y2="200.03" stroke="#8c1f40" stroke-width="0.8" />
<line x1="112.93" y1="211.03" x2="115.33" y2="211.03" stroke="#8c1f40" stroke-width="0.8" />
<path d="M112.33,205.53L114.13,203.73L115.93,205.53L114.13,207.33Z" fill="#8c1f40"/>
<line x1="125.45" y1="215.35" x2="125.45" y2="223.35" stroke="#8c1f40" stroke-width="0.9" />
<line x1="124.25" y1="215.35" x2="126.65" y2="215.35" stroke="#8c1f40" stroke-width="0.8" />
<line x1="124.25" y1="223.35" x2="126.65" y2="223.35" stroke="#8c1f40" stroke-width="0.8" />
<path d="M123.65,219.35L125.45,217.55L127.25,219.35L125.45,221.15Z" fill="#8c1f40"/>
<line x1="136.78" y1="223.63" x2="136.78" y2="227.63" stroke="#8c1f40" stroke-width="0.9" />
<line x1="135.58" y1="223.63" x2="137.98" y2="223.63" stroke="#8c1f40" stroke-width="0.8" />
<line x1="135.58" y1="227.63" x2="137.98" y2="227.63" stroke="#8c1f40" stroke-width="0.8" />
<path d="M134.98,225.63L136.78,223.83L138.58,225.63L136.78,227.43Z" fill="#8c1f40"/>
<line x1="148.10" y1="247.37" x2="148.10" y2="250.37" stroke="#8c1f40" stroke-width="0.9" />
<line x1="146.90" y1="247.37" x2="149.30" y2="247.37" stroke="#8c1f40" stroke-width="0.8" />
<line x1="146.90" y1="250.37" x2="149.30" y2="250.37" stroke="#8c1f40" stroke-width="0.8" />
<path d="M146.30,248.87L148.10,247.07L149.90,248.87L148.10,250.67Z" fill="#8c1f40"/>
<path d="M57.51,203.65L68.84,206.16L80.16,206.79L91.48,206.16L102.81,210.56L114.13,208.05L125.45,218.09L136.78,214.33L148.10,237.56" fill="none" stroke="#2b4766" stroke-width="1.6" stroke-dasharray="2.2,1.4" stroke-linejoin="round"/>
<line x1="57.51" y1="199.65" x2="57.51" y2="207.65" stroke="#2b4766" stroke-width="0.9" />
<line x1="56.31" y1="199.65" x2="58.71" y2="199.65" stroke="#2b4766" stroke-width="0.8" />
<line x1="56.31" y1="207.65" x2="58.71" y2="207.65" stroke="#2b4766" stroke-width="0.8" />
<circle cx="57.51" cy="203.65" r="1.5" fill="none" stroke="#2b4766" stroke-width="0.9"/>
<line x1="68.84" y1="201.16" x2="68.84" y2="211.16" stroke="#2b4766" stroke-width="0.9" />
<line x1="67.64" y1="201.16" x2="70.04" y2="201.16" stroke="#2b4766" stroke-width="0.8" />
<line x1="67.64" y1="211.16" x2="70.04" y2="211.16" stroke="#2b4766" stroke-width="0.8" />
<circle cx="68.84" cy="206.16" r="1.5" fill="none" stroke="#2b4766" stroke-width="0.9"/>
<line x1="80.16" y1="204.79" x2="80.16" y2="208.79" stroke="#2b4766" stroke-width="0.9" />
<line x1="78.96" y1="204.79" x2="81.36" y2="204.79" stroke="#2b4766" stroke-width="0.8" />
<line x1="78.96" y1="208.79" x2="81.36" y2="208.79" stroke="#2b4766" stroke-width="0.8" />
<circle cx="80.16" cy="206.79" r="1.5" fill="none" stroke="#2b4766" stroke-width="0.9"/>
<line x1="91.48" y1="204.16" x2="91.48" y2="208.16" stroke="#2b4766" stroke-width="0.9" />
<line x1="90.28" y1="204.16" x2="92.68" y2="204.16" stroke="#2b4766" stroke-width="0.8" />
<line x1="90.28" y1="208.16" x2="92.68" y2="208.16" stroke="#2b4766" stroke-width="0.8" />
<circle cx="91.48" cy="206.16" r="1.5" fill="none" stroke="#2b4766" stroke-width="0.9"/>
<line x1="102.81" y1="206.56" x2="102.81" y2="214.56" stroke="#2b4766" stroke-width="0.9" />
<line x1="101.61" y1="206.56" x2="104.01" y2="206.56" stroke="#2b4766" stroke-width="0.8" />
<line x1="101.61" y1="214.56" x2="104.01" y2="214.56" stroke="#2b4766" stroke-width="0.8" />
<circle cx="102.81" cy="210.56" r="1.5" fill="none" stroke="#2b4766" stroke-width="0.9"/>
<line x1="114.13" y1="205.05" x2="114.13" y2="211.05" stroke="#2b4766" stroke-width="0.9" />
<line x1="112.93" y1="205.05" x2="115.33" y2="205.05" stroke="#2b4766" stroke-width="0.8" />
<line x1="112.93" y1="211.05" x2="115.33" y2="211.05" stroke="#2b4766" stroke-width="0.8" />
<circle cx="114.13" cy="208.05" r="1.5" fill="none" stroke="#2b4766" stroke-width="0.9"/>
<line x1="125.45" y1="212.59" x2="125.45" y2="223.59" stroke="#2b4766" stroke-width="0.9" />
<line x1="124.25" y1="212.59" x2="126.65" y2="212.59" stroke="#2b4766" stroke-width="0.8" />
<line x1="124.25" y1="223.59" x2="126.65" y2="223.59" stroke="#2b4766" stroke-width="0.8" />
<circle cx="125.45" cy="218.09" r="1.5" fill="none" stroke="#2b4766" stroke-width="0.9"/>
<line x1="136.78" y1="212.83" x2="136.78" y2="215.83" stroke="#2b4766" stroke-width="0.9" />
<line x1="135.58" y1="212.83" x2="137.98" y2="212.83" stroke="#2b4766" stroke-width="0.8" />
<line x1="135.58" y1="215.83" x2="137.98" y2="215.83" stroke="#2b4766" stroke-width="0.8" />
<circle cx="136.78" cy="214.33" r="1.5" fill="none" stroke="#2b4766" stroke-width="0.9"/>
<line x1="148.10" y1="236.06" x2="148.10" y2="239.06" stroke="#2b4766" stroke-width="0.9" />
<line x1="146.90" y1="236.06" x2="149.30" y2="236.06" stroke="#2b4766" stroke-width="0.8" />
<line x1="146.90" y1="239.06" x2="149.30" y2="239.06" stroke="#2b4766" stroke-width="0.8" />
<circle cx="148.10" cy="237.56" r="1.5" fill="none" stroke="#2b4766" stroke-width="0.9"/>
<path d="M57.51,203.65L68.84,208.67L80.16,208.67L91.48,235.05L102.81,260.17L114.13,263.31L125.45,263.62L136.78,264.13L148.10,265.19" fill="none" stroke="#7a1631" stroke-width="1.25" stroke-linejoin="round"/>
<line x1="57.51" y1="201.65" x2="57.51" y2="205.65" stroke="#7a1631" stroke-width="0.9" />
<line x1="56.31" y1="201.65" x2="58.71" y2="201.65" stroke="#7a1631" stroke-width="0.8" />
<line x1="56.31" y1="205.65" x2="58.71" y2="205.65" stroke="#7a1631" stroke-width="0.8" />
<circle cx="57.51" cy="203.65" r="1.1" fill="#7a1631"/>
<line x1="68.84" y1="206.67" x2="68.84" y2="210.67" stroke="#7a1631" stroke-width="0.9" />
<line x1="67.64" y1="206.67" x2="70.04" y2="206.67" stroke="#7a1631" stroke-width="0.8" />
<line x1="67.64" y1="210.67" x2="70.04" y2="210.67" stroke="#7a1631" stroke-width="0.8" />
<circle cx="68.84" cy="208.67" r="1.1" fill="#7a1631"/>
<line x1="80.16" y1="206.67" x2="80.16" y2="210.67" stroke="#7a1631" stroke-width="0.9" />
<line x1="78.96" y1="206.67" x2="81.36" y2="206.67" stroke="#7a1631" stroke-width="0.8" />
<line x1="78.96" y1="210.67" x2="81.36" y2="210.67" stroke="#7a1631" stroke-width="0.8" />
<circle cx="80.16" cy="208.67" r="1.1" fill="#7a1631"/>
<circle cx="91.48" cy="235.05" r="1.1" fill="#7a1631"/>
<circle cx="102.81" cy="260.17" r="1.1" fill="#7a1631"/>
<circle cx="114.13" cy="263.31" r="1.1" fill="#7a1631"/>
<circle cx="125.45" cy="263.62" r="1.1" fill="#7a1631"/>
<circle cx="136.78" cy="264.13" r="1.1" fill="#7a1631"/>
<circle cx="148.10" cy="265.19" r="1.1" fill="#7a1631"/>
<path d="M57.51,203.65L68.84,203.65L80.16,204.91L91.48,216.84L102.81,245.73L114.13,259.17L125.45,259.98L136.78,260.55L148.10,262.12" fill="none" stroke="#2c3d5e" stroke-width="1.25" stroke-linejoin="round"/>
<line x1="57.51" y1="200.65" x2="57.51" y2="206.65" stroke="#2c3d5e" stroke-width="0.9" />
<line x1="56.31" y1="200.65" x2="58.71" y2="200.65" stroke="#2c3d5e" stroke-width="0.8" />
<line x1="56.31" y1="206.65" x2="58.71" y2="206.65" stroke="#2c3d5e" stroke-width="0.8" />
<circle cx="57.51" cy="203.65" r="1.1" fill="#2c3d5e"/>
<line x1="68.84" y1="200.65" x2="68.84" y2="206.65" stroke="#2c3d5e" stroke-width="0.9" />
<line x1="67.64" y1="200.65" x2="70.04" y2="200.65" stroke="#2c3d5e" stroke-width="0.8" />
<line x1="67.64" y1="206.65" x2="70.04" y2="206.65" stroke="#2c3d5e" stroke-width="0.8" />
<circle cx="68.84" cy="203.65" r="1.1" fill="#2c3d5e"/>
<line x1="80.16" y1="202.91" x2="80.16" y2="206.91" stroke="#2c3d5e" stroke-width="0.9" />
<line x1="78.96" y1="202.91" x2="81.36" y2="202.91" stroke="#2c3d5e" stroke-width="0.8" />
<line x1="78.96" y1="206.91" x2="81.36" y2="206.91" stroke="#2c3d5e" stroke-width="0.8" />
<circle cx="80.16" cy="204.91" r="1.1" fill="#2c3d5e"/>
<circle cx="91.48" cy="216.84" r="1.1" fill="#2c3d5e"/>
<circle cx="102.81" cy="245.73" r="1.1" fill="#2c3d5e"/>
<circle cx="114.13" cy="259.17" r="1.1" fill="#2c3d5e"/>
<circle cx="125.45" cy="259.98" r="1.1" fill="#2c3d5e"/>
<circle cx="136.78" cy="260.55" r="1.1" fill="#2c3d5e"/>
<circle cx="148.10" cy="262.12" r="1.1" fill="#2c3d5e"/>
<text x="108.80" y="152.80" font-size="8.4" text-anchor="middle" font-weight="bold" fill="#0a0a0a" textLength="30.0" lengthAdjust="spacingAndGlyphs" stroke="#0a0a0a" stroke-width="0.3" >HNT-34</text>
<text x="108.80" y="163.10" font-size="7.8" text-anchor="middle" font-weight="normal" fill="#222" textLength="22.3" lengthAdjust="spacingAndGlyphs" stroke="#222" stroke-width="0.12" >(EVI1)</text>
<line x1="57.20" y1="172.00" x2="63.20" y2="172.00" stroke="#2c3d5e" stroke-width="1.0" />
<circle cx="60.20" cy="172.00" r="1.1" fill="#2c3d5e"/>
<text x="66.00" y="174.00" font-size="5.9" text-anchor="start" font-weight="normal" fill="#222" textLength="24.5" lengthAdjust="spacingAndGlyphs" stroke="#222" stroke-width="0.15" >IMGN632</text>
<line x1="57.20" y1="179.17" x2="63.20" y2="179.17" stroke="#7a1631" stroke-width="1.0" />
<circle cx="60.20" cy="179.17" r="1.1" fill="#7a1631"/>
<text x="66.00" y="181.17" font-size="5.9" text-anchor="start" font-weight="normal" fill="#222" textLength="16.6" lengthAdjust="spacingAndGlyphs" stroke="#222" stroke-width="0.15" >X-ADC</text>
<line x1="57.20" y1="186.34" x2="63.20" y2="186.34" stroke="#2b4766" stroke-width="1.0" />
<circle cx="60.20" cy="186.34" r="1.5" fill="none" stroke="#2b4766" stroke-width="0.9"/>
<text x="66.00" y="188.34" font-size="5.9" text-anchor="start" font-weight="normal" fill="#222" textLength="44.0" lengthAdjust="spacingAndGlyphs" stroke="#222" stroke-width="0.15" >IMGN632 + block</text>
<line x1="57.20" y1="193.51" x2="63.20" y2="193.51" stroke="#8c1f40" stroke-width="1.0" />
<path d="M58.40,193.51L60.20,191.71L62.00,193.51L60.20,195.31Z" fill="#8c1f40"/>
<text x="66.00" y="195.51" font-size="5.9" text-anchor="start" font-weight="normal" fill="#222" textLength="36.0" lengthAdjust="spacingAndGlyphs" stroke="#222" stroke-width="0.15" >X-ADC + block</text>
<line x1="218.55" y1="169.20" x2="218.55" y2="267.05" stroke="#1a1a1a" stroke-width="1.6" />
<line x1="215.15" y1="172.25" x2="218.55" y2="172.25" stroke="#1a1a1a" stroke-width="1.25" />
<text x="212.25" y="174.45" font-size="6.3" text-anchor="end" font-weight="normal" fill="#333" stroke="#333" stroke-width="0.05" >1.5</text>
<line x1="215.15" y1="203.65" x2="218.55" y2="203.65" stroke="#1a1a1a" stroke-width="1.25" />
<text x="212.25" y="205.85" font-size="6.3" text-anchor="end" font-weight="normal" fill="#333" stroke="#333" stroke-width="0.05" >1.0</text>
<line x1="215.15" y1="235.05" x2="218.55" y2="235.05" stroke="#1a1a1a" stroke-width="1.25" />
<line x1="215.15" y1="266.45" x2="218.55" y2="266.45" stroke="#1a1a1a" stroke-width="1.25" />
<text x="212.25" y="268.65" font-size="6.3" text-anchor="end" font-weight="normal" fill="#333" stroke="#333" stroke-width="0.05" >0</text>
<text x="212.35" y="237.35" font-size="6.4" text-anchor="end" fill="#222" stroke="#222" stroke-width="0.2">IC<tspan font-size="4.35" dy="-0.1">50</tspan></text>
<line x1="216.55" y1="250.75" x2="218.55" y2="250.75" stroke="#1a1a1a" stroke-width="0.8" />
<line x1="216.55" y1="219.35" x2="218.55" y2="219.35" stroke="#1a1a1a" stroke-width="0.8" />
<line x1="216.55" y1="187.95" x2="218.55" y2="187.95" stroke="#1a1a1a" stroke-width="0.8" />
<text transform="translate(191.15,217.30) rotate(-90)" x="0" y="0" font-size="7.4" text-anchor="middle" fill="#222" stroke="#222" stroke-width="0.55" textLength="47" lengthAdjust="spacingAndGlyphs" dominant-baseline="central">Surviving fraction</text>
<line x1="215.05" y1="266.45" x2="334.45" y2="266.45" stroke="#1a1a1a" stroke-width="1.5" />
<line x1="218.55" y1="266.45" x2="218.55" y2="269.75" stroke="#1a1a1a" stroke-width="1.2" />
<text x="212.20" y="278.60" font-size="7.0" text-anchor="start" font-weight="normal" fill="#2a2a2a" textLength="6.70" lengthAdjust="spacingAndGlyphs" stroke="#2a2a2a" stroke-width="0.12" >10</text>
<text x="219.40" y="275.30" font-size="4.4" text-anchor="start" font-weight="normal" fill="#444" textLength="5.50" lengthAdjust="spacingAndGlyphs" stroke="#444" stroke-width="0.12" >-14</text>
<line x1="223.43" y1="266.45" x2="223.43" y2="268.65" stroke="#1a1a1a" stroke-width="0.8" />
<line x1="226.28" y1="266.45" x2="226.28" y2="268.65" stroke="#1a1a1a" stroke-width="0.8" />
<line x1="228.30" y1="266.45" x2="228.30" y2="268.65" stroke="#1a1a1a" stroke-width="0.8" />
<line x1="229.87" y1="266.45" x2="229.87" y2="268.65" stroke="#1a1a1a" stroke-width="0.8" />
<line x1="231.16" y1="266.45" x2="231.16" y2="268.65" stroke="#1a1a1a" stroke-width="0.8" />
<line x1="232.24" y1="266.45" x2="232.24" y2="268.65" stroke="#1a1a1a" stroke-width="0.8" />
<line x1="233.18" y1="266.45" x2="233.18" y2="268.65" stroke="#1a1a1a" stroke-width="0.8" />
<line x1="234.01" y1="266.45" x2="234.01" y2="268.65" stroke="#1a1a1a" stroke-width="0.8" />
<line x1="234.75" y1="266.45" x2="234.75" y2="269.75" stroke="#1a1a1a" stroke-width="1.2" />
<text x="228.40" y="278.60" font-size="7.0" text-anchor="start" font-weight="normal" fill="#2a2a2a" textLength="6.70" lengthAdjust="spacingAndGlyphs" stroke="#2a2a2a" stroke-width="0.12" >10</text>
<text x="235.60" y="275.30" font-size="4.4" text-anchor="start" font-weight="normal" fill="#444" textLength="5.50" lengthAdjust="spacingAndGlyphs" stroke="#444" stroke-width="0.12" >-13</text>
<line x1="239.63" y1="266.45" x2="239.63" y2="268.65" stroke="#1a1a1a" stroke-width="0.8" />
<line x1="242.48" y1="266.45" x2="242.48" y2="268.65" stroke="#1a1a1a" stroke-width="0.8" />
<line x1="244.50" y1="266.45" x2="244.50" y2="268.65" stroke="#1a1a1a" stroke-width="0.8" />
<line x1="246.07" y1="266.45" x2="246.07" y2="268.65" stroke="#1a1a1a" stroke-width="0.8" />
<line x1="247.36" y1="266.45" x2="247.36" y2="268.65" stroke="#1a1a1a" stroke-width="0.8" />
<line x1="248.44" y1="266.45" x2="248.44" y2="268.65" stroke="#1a1a1a" stroke-width="0.8" />
<line x1="249.38" y1="266.45" x2="249.38" y2="268.65" stroke="#1a1a1a" stroke-width="0.8" />
<line x1="250.21" y1="266.45" x2="250.21" y2="268.65" stroke="#1a1a1a" stroke-width="0.8" />
<line x1="250.95" y1="266.45" x2="250.95" y2="269.75" stroke="#1a1a1a" stroke-width="1.2" />
<text x="244.60" y="278.60" font-size="7.0" text-anchor="start" font-weight="normal" fill="#2a2a2a" textLength="6.70" lengthAdjust="spacingAndGlyphs" stroke="#2a2a2a" stroke-width="0.12" >10</text>
<text x="251.80" y="275.30" font-size="4.4" text-anchor="start" font-weight="normal" fill="#444" textLength="5.50" lengthAdjust="spacingAndGlyphs" stroke="#444" stroke-width="0.12" >-12</text>
<line x1="255.83" y1="266.45" x2="255.83" y2="268.65" stroke="#1a1a1a" stroke-width="0.8" />
<line x1="258.68" y1="266.45" x2="258.68" y2="268.65" stroke="#1a1a1a" stroke-width="0.8" />
<line x1="260.70" y1="266.45" x2="260.70" y2="268.65" stroke="#1a1a1a" stroke-width="0.8" />
<line x1="262.27" y1="266.45" x2="262.27" y2="268.65" stroke="#1a1a1a" stroke-width="0.8" />
<line x1="263.56" y1="266.45" x2="263.56" y2="268.65" stroke="#1a1a1a" stroke-width="0.8" />
<line x1="264.64" y1="266.45" x2="264.64" y2="268.65" stroke="#1a1a1a" stroke-width="0.8" />
<line x1="265.58" y1="266.45" x2="265.58" y2="268.65" stroke="#1a1a1a" stroke-width="0.8" />
<line x1="266.41" y1="266.45" x2="266.41" y2="268.65" stroke="#1a1a1a" stroke-width="0.8" />
<line x1="267.15" y1="266.45" x2="267.15" y2="269.75" stroke="#1a1a1a" stroke-width="1.2" />
<text x="260.80" y="278.60" font-size="7.0" text-anchor="start" font-weight="normal" fill="#2a2a2a" textLength="6.70" lengthAdjust="spacingAndGlyphs" stroke="#2a2a2a" stroke-width="0.12" >10</text>
<text x="268.00" y="275.30" font-size="4.4" text-anchor="start" font-weight="normal" fill="#444" textLength="5.50" lengthAdjust="spacingAndGlyphs" stroke="#444" stroke-width="0.12" >-11</text>
<line x1="272.03" y1="266.45" x2="272.03" y2="268.65" stroke="#1a1a1a" stroke-width="0.8" />
<line x1="274.88" y1="266.45" x2="274.88" y2="268.65" stroke="#1a1a1a" stroke-width="0.8" />
<line x1="276.90" y1="266.45" x2="276.90" y2="268.65" stroke="#1a1a1a" stroke-width="0.8" />
<line x1="278.47" y1="266.45" x2="278.47" y2="268.65" stroke="#1a1a1a" stroke-width="0.8" />
<line x1="279.76" y1="266.45" x2="279.76" y2="268.65" stroke="#1a1a1a" stroke-width="0.8" />
<line x1="280.84" y1="266.45" x2="280.84" y2="268.65" stroke="#1a1a1a" stroke-width="0.8" />
<line x1="281.78" y1="266.45" x2="281.78" y2="268.65" stroke="#1a1a1a" stroke-width="0.8" />
<line x1="282.61" y1="266.45" x2="282.61" y2="268.65" stroke="#1a1a1a" stroke-width="0.8" />
<line x1="283.35" y1="266.45" x2="283.35" y2="269.75" stroke="#1a1a1a" stroke-width="1.2" />
<text x="277.00" y="278.60" font-size="7.0" text-anchor="start" font-weight="normal" fill="#2a2a2a" textLength="6.70" lengthAdjust="spacingAndGlyphs" stroke="#2a2a2a" stroke-width="0.12" >10</text>
<text x="284.20" y="275.30" font-size="4.4" text-anchor="start" font-weight="normal" fill="#444" textLength="5.50" lengthAdjust="spacingAndGlyphs" stroke="#444" stroke-width="0.12" >-10</text>
<line x1="288.23" y1="266.45" x2="288.23" y2="268.65" stroke="#1a1a1a" stroke-width="0.8" />
<line x1="291.08" y1="266.45" x2="291.08" y2="268.65" stroke="#1a1a1a" stroke-width="0.8" />
<line x1="293.10" y1="266.45" x2="293.10" y2="268.65" stroke="#1a1a1a" stroke-width="0.8" />
<line x1="294.67" y1="266.45" x2="294.67" y2="268.65" stroke="#1a1a1a" stroke-width="0.8" />
<line x1="295.96" y1="266.45" x2="295.96" y2="268.65" stroke="#1a1a1a" stroke-width="0.8" />
<line x1="297.04" y1="266.45" x2="297.04" y2="268.65" stroke="#1a1a1a" stroke-width="0.8" />
<line x1="297.98" y1="266.45" x2="297.98" y2="268.65" stroke="#1a1a1a" stroke-width="0.8" />
<line x1="298.81" y1="266.45" x2="298.81" y2="268.65" stroke="#1a1a1a" stroke-width="0.8" />
<line x1="299.55" y1="266.45" x2="299.55" y2="269.75" stroke="#1a1a1a" stroke-width="1.2" />
<text x="294.05" y="278.60" font-size="7.0" text-anchor="start" font-weight="normal" fill="#2a2a2a" textLength="6.70" lengthAdjust="spacingAndGlyphs" stroke="#2a2a2a" stroke-width="0.12" >10</text>
<text x="301.25" y="275.30" font-size="4.4" text-anchor="start" font-weight="normal" fill="#444" textLength="3.80" lengthAdjust="spacingAndGlyphs" stroke="#444" stroke-width="0.12" >-9</text>
<line x1="304.43" y1="266.45" x2="304.43" y2="268.65" stroke="#1a1a1a" stroke-width="0.8" />
<line x1="307.28" y1="266.45" x2="307.28" y2="268.65" stroke="#1a1a1a" stroke-width="0.8" />
<line x1="309.30" y1="266.45" x2="309.30" y2="268.65" stroke="#1a1a1a" stroke-width="0.8" />
<line x1="310.87" y1="266.45" x2="310.87" y2="268.65" stroke="#1a1a1a" stroke-width="0.8" />
<line x1="312.16" y1="266.45" x2="312.16" y2="268.65" stroke="#1a1a1a" stroke-width="0.8" />
<line x1="313.24" y1="266.45" x2="313.24" y2="268.65" stroke="#1a1a1a" stroke-width="0.8" />
<line x1="314.18" y1="266.45" x2="314.18" y2="268.65" stroke="#1a1a1a" stroke-width="0.8" />
<line x1="315.01" y1="266.45" x2="315.01" y2="268.65" stroke="#1a1a1a" stroke-width="0.8" />
<line x1="315.75" y1="266.45" x2="315.75" y2="269.75" stroke="#1a1a1a" stroke-width="1.2" />
<text x="310.25" y="278.60" font-size="7.0" text-anchor="start" font-weight="normal" fill="#2a2a2a" textLength="6.70" lengthAdjust="spacingAndGlyphs" stroke="#2a2a2a" stroke-width="0.12" >10</text>
<text x="317.45" y="275.30" font-size="4.4" text-anchor="start" font-weight="normal" fill="#444" textLength="3.80" lengthAdjust="spacingAndGlyphs" stroke="#444" stroke-width="0.12" >-8</text>
<line x1="320.63" y1="266.45" x2="320.63" y2="268.65" stroke="#1a1a1a" stroke-width="0.8" />
<line x1="323.48" y1="266.45" x2="323.48" y2="268.65" stroke="#1a1a1a" stroke-width="0.8" />
<line x1="325.50" y1="266.45" x2="325.50" y2="268.65" stroke="#1a1a1a" stroke-width="0.8" />
<line x1="327.07" y1="266.45" x2="327.07" y2="268.65" stroke="#1a1a1a" stroke-width="0.8" />
<line x1="328.36" y1="266.45" x2="328.36" y2="268.65" stroke="#1a1a1a" stroke-width="0.8" />
<line x1="329.44" y1="266.45" x2="329.44" y2="268.65" stroke="#1a1a1a" stroke-width="0.8" />
<line x1="330.38" y1="266.45" x2="330.38" y2="268.65" stroke="#1a1a1a" stroke-width="0.8" />
<line x1="331.21" y1="266.45" x2="331.21" y2="268.65" stroke="#1a1a1a" stroke-width="0.8" />
<line x1="331.95" y1="266.45" x2="331.95" y2="269.75" stroke="#1a1a1a" stroke-width="1.2" />
<text x="326.45" y="278.60" font-size="7.0" text-anchor="start" font-weight="normal" fill="#2a2a2a" textLength="6.70" lengthAdjust="spacingAndGlyphs" stroke="#2a2a2a" stroke-width="0.12" >10</text>
<text x="333.65" y="275.30" font-size="4.4" text-anchor="start" font-weight="normal" fill="#444" textLength="3.80" lengthAdjust="spacingAndGlyphs" stroke="#444" stroke-width="0.12" >-7</text>
<text x="276.75" y="290.00" font-size="7.4" text-anchor="middle" font-weight="normal" fill="#222" textLength="49.2" lengthAdjust="spacingAndGlyphs" stroke="#222" stroke-width="0.5" >Concentration (M)</text>
<line x1="218.55" y1="235.05" x2="333.95" y2="235.05" stroke="#686868" stroke-width="0.95" stroke-dasharray="2,0.45"/>
<path d="M225.16,200.51L236.49,205.85L247.81,201.77L259.13,205.53L270.46,210.87L281.78,203.65L293.10,217.47L304.43,235.68L315.75,263.94" fill="none" stroke="#8c1f40" stroke-width="1.6" stroke-dasharray="2.2,1.4" stroke-linejoin="round"/>
<line x1="225.16" y1="194.51" x2="225.16" y2="206.51" stroke="#8c1f40" stroke-width="0.9" />
<line x1="223.96" y1="194.51" x2="226.36" y2="194.51" stroke="#8c1f40" stroke-width="0.8" />
<line x1="223.96" y1="206.51" x2="226.36" y2="206.51" stroke="#8c1f40" stroke-width="0.8" />
<path d="M223.36,200.51L225.16,198.71L226.96,200.51L225.16,202.31Z" fill="#8c1f40"/>
<line x1="236.49" y1="199.85" x2="236.49" y2="211.85" stroke="#8c1f40" stroke-width="0.9" />
<line x1="235.29" y1="199.85" x2="237.69" y2="199.85" stroke="#8c1f40" stroke-width="0.8" />
<line x1="235.29" y1="211.85" x2="237.69" y2="211.85" stroke="#8c1f40" stroke-width="0.8" />
<path d="M234.69,205.85L236.49,204.05L238.29,205.85L236.49,207.65Z" fill="#8c1f40"/>
<line x1="247.81" y1="193.77" x2="247.81" y2="209.77" stroke="#8c1f40" stroke-width="0.9" />
<line x1="246.61" y1="193.77" x2="249.01" y2="193.77" stroke="#8c1f40" stroke-width="0.8" />
<line x1="246.61" y1="209.77" x2="249.01" y2="209.77" stroke="#8c1f40" stroke-width="0.8" />
<path d="M246.01,201.77L247.81,199.97L249.61,201.77L247.81,203.57Z" fill="#8c1f40"/>
<line x1="259.13" y1="198.53" x2="259.13" y2="212.53" stroke="#8c1f40" stroke-width="0.9" />
<line x1="257.93" y1="198.53" x2="260.33" y2="198.53" stroke="#8c1f40" stroke-width="0.8" />
<line x1="257.93" y1="212.53" x2="260.33" y2="212.53" stroke="#8c1f40" stroke-width="0.8" />
<path d="M257.33,205.53L259.13,203.73L260.93,205.53L259.13,207.33Z" fill="#8c1f40"/>
<line x1="270.46" y1="207.87" x2="270.46" y2="213.87" stroke="#8c1f40" stroke-width="0.9" />
<line x1="269.26" y1="207.87" x2="271.66" y2="207.87" stroke="#8c1f40" stroke-width="0.8" />
<line x1="269.26" y1="213.87" x2="271.66" y2="213.87" stroke="#8c1f40" stroke-width="0.8" />
<path d="M268.66,210.87L270.46,209.07L272.26,210.87L270.46,212.67Z" fill="#8c1f40"/>
<line x1="281.78" y1="196.15" x2="281.78" y2="211.15" stroke="#8c1f40" stroke-width="0.9" />
<line x1="280.58" y1="196.15" x2="282.98" y2="196.15" stroke="#8c1f40" stroke-width="0.8" />
<line x1="280.58" y1="211.15" x2="282.98" y2="211.15" stroke="#8c1f40" stroke-width="0.8" />
<path d="M279.98,203.65L281.78,201.85L283.58,203.65L281.78,205.45Z" fill="#8c1f40"/>
<line x1="293.10" y1="213.47" x2="293.10" y2="221.47" stroke="#8c1f40" stroke-width="0.9" />
<line x1="291.90" y1="213.47" x2="294.30" y2="213.47" stroke="#8c1f40" stroke-width="0.8" />
<line x1="291.90" y1="221.47" x2="294.30" y2="221.47" stroke="#8c1f40" stroke-width="0.8" />
<path d="M291.30,217.47L293.10,215.67L294.90,217.47L293.10,219.27Z" fill="#8c1f40"/>
<line x1="304.43" y1="232.68" x2="304.43" y2="238.68" stroke="#8c1f40" stroke-width="0.9" />
<line x1="303.23" y1="232.68" x2="305.63" y2="232.68" stroke="#8c1f40" stroke-width="0.8" />
<line x1="303.23" y1="238.68" x2="305.63" y2="238.68" stroke="#8c1f40" stroke-width="0.8" />
<path d="M302.63,235.68L304.43,233.88L306.23,235.68L304.43,237.48Z" fill="#8c1f40"/>
<line x1="315.75" y1="262.44" x2="315.75" y2="265.44" stroke="#8c1f40" stroke-width="0.9" />
<line x1="314.55" y1="262.44" x2="316.95" y2="262.44" stroke="#8c1f40" stroke-width="0.8" />
<line x1="314.55" y1="265.44" x2="316.95" y2="265.44" stroke="#8c1f40" stroke-width="0.8" />
<path d="M313.95,263.94L315.75,262.14L317.55,263.94L315.75,265.74Z" fill="#8c1f40"/>
<path d="M225.16,205.85L236.49,205.85L247.81,207.10L259.13,206.48L270.46,209.93L281.78,203.02L293.10,213.70L304.43,248.87L315.75,263.31" fill="none" stroke="#2b4766" stroke-width="1.6" stroke-dasharray="2.2,1.4" stroke-linejoin="round"/>
<line x1="225.16" y1="200.85" x2="225.16" y2="210.85" stroke="#2b4766" stroke-width="0.9" />
<line x1="223.96" y1="200.85" x2="226.36" y2="200.85" stroke="#2b4766" stroke-width="0.8" />
<line x1="223.96" y1="210.85" x2="226.36" y2="210.85" stroke="#2b4766" stroke-width="0.8" />
<circle cx="225.16" cy="205.85" r="1.5" fill="none" stroke="#2b4766" stroke-width="0.9"/>
<line x1="236.49" y1="200.85" x2="236.49" y2="210.85" stroke="#2b4766" stroke-width="0.9" />
<line x1="235.29" y1="200.85" x2="237.69" y2="200.85" stroke="#2b4766" stroke-width="0.8" />
<line x1="235.29" y1="210.85" x2="237.69" y2="210.85" stroke="#2b4766" stroke-width="0.8" />
<circle cx="236.49" cy="205.85" r="1.5" fill="none" stroke="#2b4766" stroke-width="0.9"/>
<line x1="247.81" y1="204.10" x2="247.81" y2="210.10" stroke="#2b4766" stroke-width="0.9" />
<line x1="246.61" y1="204.10" x2="249.01" y2="204.10" stroke="#2b4766" stroke-width="0.8" />
<line x1="246.61" y1="210.10" x2="249.01" y2="210.10" stroke="#2b4766" stroke-width="0.8" />
<circle cx="247.81" cy="207.10" r="1.5" fill="none" stroke="#2b4766" stroke-width="0.9"/>
<line x1="259.13" y1="202.48" x2="259.13" y2="210.48" stroke="#2b4766" stroke-width="0.9" />
<line x1="257.93" y1="202.48" x2="260.33" y2="202.48" stroke="#2b4766" stroke-width="0.8" />
<line x1="257.93" y1="210.48" x2="260.33" y2="210.48" stroke="#2b4766" stroke-width="0.8" />
<circle cx="259.13" cy="206.48" r="1.5" fill="none" stroke="#2b4766" stroke-width="0.9"/>
<line x1="270.46" y1="206.63" x2="270.46" y2="213.23" stroke="#2b4766" stroke-width="0.9" />
<line x1="269.26" y1="206.63" x2="271.66" y2="206.63" stroke="#2b4766" stroke-width="0.8" />
<line x1="269.26" y1="213.23" x2="271.66" y2="213.23" stroke="#2b4766" stroke-width="0.8" />
<circle cx="270.46" cy="209.93" r="1.5" fill="none" stroke="#2b4766" stroke-width="0.9"/>
<line x1="281.78" y1="195.52" x2="281.78" y2="210.52" stroke="#2b4766" stroke-width="0.9" />
<line x1="280.58" y1="195.52" x2="282.98" y2="195.52" stroke="#2b4766" stroke-width="0.8" />
<line x1="280.58" y1="210.52" x2="282.98" y2="210.52" stroke="#2b4766" stroke-width="0.8" />
<circle cx="281.78" cy="203.02" r="1.5" fill="none" stroke="#2b4766" stroke-width="0.9"/>
<line x1="293.10" y1="210.70" x2="293.10" y2="216.70" stroke="#2b4766" stroke-width="0.9" />
<line x1="291.90" y1="210.70" x2="294.30" y2="210.70" stroke="#2b4766" stroke-width="0.8" />
<line x1="291.90" y1="216.70" x2="294.30" y2="216.70" stroke="#2b4766" stroke-width="0.8" />
<circle cx="293.10" cy="213.70" r="1.5" fill="none" stroke="#2b4766" stroke-width="0.9"/>
<line x1="304.43" y1="246.87" x2="304.43" y2="250.87" stroke="#2b4766" stroke-width="0.9" />
<line x1="303.23" y1="246.87" x2="305.63" y2="246.87" stroke="#2b4766" stroke-width="0.8" />
<line x1="303.23" y1="250.87" x2="305.63" y2="250.87" stroke="#2b4766" stroke-width="0.8" />
<circle cx="304.43" cy="248.87" r="1.5" fill="none" stroke="#2b4766" stroke-width="0.9"/>
<line x1="315.75" y1="261.81" x2="315.75" y2="264.81" stroke="#2b4766" stroke-width="0.9" />
<line x1="314.55" y1="261.81" x2="316.95" y2="261.81" stroke="#2b4766" stroke-width="0.8" />
<line x1="314.55" y1="264.81" x2="316.95" y2="264.81" stroke="#2b4766" stroke-width="0.8" />
<circle cx="315.75" cy="263.31" r="1.5" fill="none" stroke="#2b4766" stroke-width="0.9"/>
<path d="M225.16,202.39L236.49,205.53L247.81,230.65L259.13,257.03L270.46,264.88L281.78,265.82L293.10,266.14L304.43,266.14L315.75,266.14" fill="none" stroke="#7a1631" stroke-width="1.25" stroke-linejoin="round"/>
<circle cx="225.16" cy="202.39" r="1.1" fill="#7a1631"/>
<circle cx="236.49" cy="205.53" r="1.1" fill="#7a1631"/>
<line x1="247.81" y1="228.15" x2="247.81" y2="233.15" stroke="#7a1631" stroke-width="0.9" />
<line x1="246.61" y1="228.15" x2="249.01" y2="228.15" stroke="#7a1631" stroke-width="0.8" />
<line x1="246.61" y1="233.15" x2="249.01" y2="233.15" stroke="#7a1631" stroke-width="0.8" />
<circle cx="247.81" cy="230.65" r="1.1" fill="#7a1631"/>
<circle cx="259.13" cy="257.03" r="1.1" fill="#7a1631"/>
<circle cx="270.46" cy="264.88" r="1.1" fill="#7a1631"/>
<circle cx="281.78" cy="265.82" r="1.1" fill="#7a1631"/>
<circle cx="293.10" cy="266.14" r="1.1" fill="#7a1631"/>
<circle cx="304.43" cy="266.14" r="1.1" fill="#7a1631"/>
<circle cx="315.75" cy="266.14" r="1.1" fill="#7a1631"/>
<path d="M225.16,205.22L236.49,205.85L247.81,242.59L259.13,262.68L270.46,265.19L281.78,265.82L293.10,266.14L304.43,266.14L315.75,266.14" fill="none" stroke="#2c3d5e" stroke-width="1.25" stroke-linejoin="round"/>
<line x1="225.16" y1="203.22" x2="225.16" y2="207.22" stroke="#2c3d5e" stroke-width="0.9" />
<line x1="223.96" y1="203.22" x2="226.36" y2="203.22" stroke="#2c3d5e" stroke-width="0.8" />
<line x1="223.96" y1="207.22" x2="226.36" y2="207.22" stroke="#2c3d5e" stroke-width="0.8" />
<circle cx="225.16" cy="205.22" r="1.1" fill="#2c3d5e"/>
<line x1="236.49" y1="203.85" x2="236.49" y2="207.85" stroke="#2c3d5e" stroke-width="0.9" />
<line x1="235.29" y1="203.85" x2="237.69" y2="203.85" stroke="#2c3d5e" stroke-width="0.8" />
<line x1="235.29" y1="207.85" x2="237.69" y2="207.85" stroke="#2c3d5e" stroke-width="0.8" />
<circle cx="236.49" cy="205.85" r="1.1" fill="#2c3d5e"/>
<line x1="247.81" y1="240.59" x2="247.81" y2="244.59" stroke="#2c3d5e" stroke-width="0.9" />
<line x1="246.61" y1="240.59" x2="249.01" y2="240.59" stroke="#2c3d5e" stroke-width="0.8" />
<line x1="246.61" y1="244.59" x2="249.01" y2="244.59" stroke="#2c3d5e" stroke-width="0.8" />
<circle cx="247.81" cy="242.59" r="1.1" fill="#2c3d5e"/>
<circle cx="259.13" cy="262.68" r="1.1" fill="#2c3d5e"/>
<circle cx="270.46" cy="265.19" r="1.1" fill="#2c3d5e"/>
<circle cx="281.78" cy="265.82" r="1.1" fill="#2c3d5e"/>
<circle cx="293.10" cy="266.14" r="1.1" fill="#2c3d5e"/>
<circle cx="304.43" cy="266.14" r="1.1" fill="#2c3d5e"/>
<circle cx="315.75" cy="266.14" r="1.1" fill="#2c3d5e"/>
<text x="277.00" y="152.80" font-size="8.4" text-anchor="middle" font-weight="bold" fill="#0a0a0a" textLength="41.0" lengthAdjust="spacingAndGlyphs" stroke="#0a0a0a" stroke-width="0.3" >MOLM-13</text>
<text x="277.00" y="163.10" font-size="7.8" text-anchor="middle" font-weight="normal" fill="#222" textLength="38.1" lengthAdjust="spacingAndGlyphs" stroke="#222" stroke-width="0.12" >(FLT3-ITD)</text>
<line x1="386.00" y1="169.20" x2="386.00" y2="267.05" stroke="#1a1a1a" stroke-width="1.6" />
<line x1="382.60" y1="172.25" x2="386.00" y2="172.25" stroke="#1a1a1a" stroke-width="1.25" />
<text x="379.70" y="174.45" font-size="6.3" text-anchor="end" font-weight="normal" fill="#333" stroke="#333" stroke-width="0.05" >1.5</text>
<line x1="382.60" y1="203.65" x2="386.00" y2="203.65" stroke="#1a1a1a" stroke-width="1.25" />
<text x="379.70" y="205.85" font-size="6.3" text-anchor="end" font-weight="normal" fill="#333" stroke="#333" stroke-width="0.05" >1.0</text>
<line x1="382.60" y1="235.05" x2="386.00" y2="235.05" stroke="#1a1a1a" stroke-width="1.25" />
<line x1="382.60" y1="266.45" x2="386.00" y2="266.45" stroke="#1a1a1a" stroke-width="1.25" />
<text x="379.70" y="268.65" font-size="6.3" text-anchor="end" font-weight="normal" fill="#333" stroke="#333" stroke-width="0.05" >0</text>
<text x="379.80" y="237.35" font-size="6.4" text-anchor="end" fill="#222" stroke="#222" stroke-width="0.2">IC<tspan font-size="4.35" dy="-0.1">50</tspan></text>
<line x1="384.00" y1="250.75" x2="386.00" y2="250.75" stroke="#1a1a1a" stroke-width="0.8" />
<line x1="384.00" y1="219.35" x2="386.00" y2="219.35" stroke="#1a1a1a" stroke-width="0.8" />
<line x1="384.00" y1="187.95" x2="386.00" y2="187.95" stroke="#1a1a1a" stroke-width="0.8" />
<text transform="translate(358.60,217.30) rotate(-90)" x="0" y="0" font-size="7.4" text-anchor="middle" fill="#222" stroke="#222" stroke-width="0.55" textLength="47" lengthAdjust="spacingAndGlyphs" dominant-baseline="central">Surviving fraction</text>
<line x1="382.50" y1="266.45" x2="501.90" y2="266.45" stroke="#1a1a1a" stroke-width="1.5" />
<line x1="386.00" y1="266.45" x2="386.00" y2="269.75" stroke="#1a1a1a" stroke-width="1.2" />
<text x="379.65" y="278.60" font-size="7.0" text-anchor="start" font-weight="normal" fill="#2a2a2a" textLength="6.70" lengthAdjust="spacingAndGlyphs" stroke="#2a2a2a" stroke-width="0.12" >10</text>
<text x="386.85" y="275.30" font-size="4.4" text-anchor="start" font-weight="normal" fill="#444" textLength="5.50" lengthAdjust="spacingAndGlyphs" stroke="#444" stroke-width="0.12" >-14</text>
<line x1="390.88" y1="266.45" x2="390.88" y2="268.65" stroke="#1a1a1a" stroke-width="0.8" />
<line x1="393.73" y1="266.45" x2="393.73" y2="268.65" stroke="#1a1a1a" stroke-width="0.8" />
<line x1="395.75" y1="266.45" x2="395.75" y2="268.65" stroke="#1a1a1a" stroke-width="0.8" />
<line x1="397.32" y1="266.45" x2="397.32" y2="268.65" stroke="#1a1a1a" stroke-width="0.8" />
<line x1="398.61" y1="266.45" x2="398.61" y2="268.65" stroke="#1a1a1a" stroke-width="0.8" />
<line x1="399.69" y1="266.45" x2="399.69" y2="268.65" stroke="#1a1a1a" stroke-width="0.8" />
<line x1="400.63" y1="266.45" x2="400.63" y2="268.65" stroke="#1a1a1a" stroke-width="0.8" />
<line x1="401.46" y1="266.45" x2="401.46" y2="268.65" stroke="#1a1a1a" stroke-width="0.8" />
<line x1="402.20" y1="266.45" x2="402.20" y2="269.75" stroke="#1a1a1a" stroke-width="1.2" />
<text x="395.85" y="278.60" font-size="7.0" text-anchor="start" font-weight="normal" fill="#2a2a2a" textLength="6.70" lengthAdjust="spacingAndGlyphs" stroke="#2a2a2a" stroke-width="0.12" >10</text>
<text x="403.05" y="275.30" font-size="4.4" text-anchor="start" font-weight="normal" fill="#444" textLength="5.50" lengthAdjust="spacingAndGlyphs" stroke="#444" stroke-width="0.12" >-13</text>
<line x1="407.08" y1="266.45" x2="407.08" y2="268.65" stroke="#1a1a1a" stroke-width="0.8" />
<line x1="409.93" y1="266.45" x2="409.93" y2="268.65" stroke="#1a1a1a" stroke-width="0.8" />
<line x1="411.95" y1="266.45" x2="411.95" y2="268.65" stroke="#1a1a1a" stroke-width="0.8" />
<line x1="413.52" y1="266.45" x2="413.52" y2="268.65" stroke="#1a1a1a" stroke-width="0.8" />
<line x1="414.81" y1="266.45" x2="414.81" y2="268.65" stroke="#1a1a1a" stroke-width="0.8" />
<line x1="415.89" y1="266.45" x2="415.89" y2="268.65" stroke="#1a1a1a" stroke-width="0.8" />
<line x1="416.83" y1="266.45" x2="416.83" y2="268.65" stroke="#1a1a1a" stroke-width="0.8" />
<line x1="417.66" y1="266.45" x2="417.66" y2="268.65" stroke="#1a1a1a" stroke-width="0.8" />
<line x1="418.40" y1="266.45" x2="418.40" y2="269.75" stroke="#1a1a1a" stroke-width="1.2" />
<text x="412.05" y="278.60" font-size="7.0" text-anchor="start" font-weight="normal" fill="#2a2a2a" textLength="6.70" lengthAdjust="spacingAndGlyphs" stroke="#2a2a2a" stroke-width="0.12" >10</text>
<text x="419.25" y="275.30" font-size="4.4" text-anchor="start" font-weight="normal" fill="#444" textLength="5.50" lengthAdjust="spacingAndGlyphs" stroke="#444" stroke-width="0.12" >-12</text>
<line x1="423.28" y1="266.45" x2="423.28" y2="268.65" stroke="#1a1a1a" stroke-width="0.8" />
<line x1="426.13" y1="266.45" x2="426.13" y2="268.65" stroke="#1a1a1a" stroke-width="0.8" />
<line x1="428.15" y1="266.45" x2="428.15" y2="268.65" stroke="#1a1a1a" stroke-width="0.8" />
<line x1="429.72" y1="266.45" x2="429.72" y2="268.65" stroke="#1a1a1a" stroke-width="0.8" />
<line x1="431.01" y1="266.45" x2="431.01" y2="268.65" stroke="#1a1a1a" stroke-width="0.8" />
<line x1="432.09" y1="266.45" x2="432.09" y2="268.65" stroke="#1a1a1a" stroke-width="0.8" />
<line x1="433.03" y1="266.45" x2="433.03" y2="268.65" stroke="#1a1a1a" stroke-width="0.8" />
<line x1="433.86" y1="266.45" x2="433.86" y2="268.65" stroke="#1a1a1a" stroke-width="0.8" />
<line x1="434.60" y1="266.45" x2="434.60" y2="269.75" stroke="#1a1a1a" stroke-width="1.2" />
<text x="428.25" y="278.60" font-size="7.0" text-anchor="start" font-weight="normal" fill="#2a2a2a" textLength="6.70" lengthAdjust="spacingAndGlyphs" stroke="#2a2a2a" stroke-width="0.12" >10</text>
<text x="435.45" y="275.30" font-size="4.4" text-anchor="start" font-weight="normal" fill="#444" textLength="5.50" lengthAdjust="spacingAndGlyphs" stroke="#444" stroke-width="0.12" >-11</text>
<line x1="439.48" y1="266.45" x2="439.48" y2="268.65" stroke="#1a1a1a" stroke-width="0.8" />
<line x1="442.33" y1="266.45" x2="442.33" y2="268.65" stroke="#1a1a1a" stroke-width="0.8" />
<line x1="444.35" y1="266.45" x2="444.35" y2="268.65" stroke="#1a1a1a" stroke-width="0.8" />
<line x1="445.92" y1="266.45" x2="445.92" y2="268.65" stroke="#1a1a1a" stroke-width="0.8" />
<line x1="447.21" y1="266.45" x2="447.21" y2="268.65" stroke="#1a1a1a" stroke-width="0.8" />
<line x1="448.29" y1="266.45" x2="448.29" y2="268.65" stroke="#1a1a1a" stroke-width="0.8" />
<line x1="449.23" y1="266.45" x2="449.23" y2="268.65" stroke="#1a1a1a" stroke-width="0.8" />
<line x1="450.06" y1="266.45" x2="450.06" y2="268.65" stroke="#1a1a1a" stroke-width="0.8" />
<line x1="450.80" y1="266.45" x2="450.80" y2="269.75" stroke="#1a1a1a" stroke-width="1.2" />
<text x="444.45" y="278.60" font-size="7.0" text-anchor="start" font-weight="normal" fill="#2a2a2a" textLength="6.70" lengthAdjust="spacingAndGlyphs" stroke="#2a2a2a" stroke-width="0.12" >10</text>
<text x="451.65" y="275.30" font-size="4.4" text-anchor="start" font-weight="normal" fill="#444" textLength="5.50" lengthAdjust="spacingAndGlyphs" stroke="#444" stroke-width="0.12" >-10</text>
<line x1="455.68" y1="266.45" x2="455.68" y2="268.65" stroke="#1a1a1a" stroke-width="0.8" />
<line x1="458.53" y1="266.45" x2="458.53" y2="268.65" stroke="#1a1a1a" stroke-width="0.8" />
<line x1="460.55" y1="266.45" x2="460.55" y2="268.65" stroke="#1a1a1a" stroke-width="0.8" />
<line x1="462.12" y1="266.45" x2="462.12" y2="268.65" stroke="#1a1a1a" stroke-width="0.8" />
<line x1="463.41" y1="266.45" x2="463.41" y2="268.65" stroke="#1a1a1a" stroke-width="0.8" />
<line x1="464.49" y1="266.45" x2="464.49" y2="268.65" stroke="#1a1a1a" stroke-width="0.8" />
<line x1="465.43" y1="266.45" x2="465.43" y2="268.65" stroke="#1a1a1a" stroke-width="0.8" />
<line x1="466.26" y1="266.45" x2="466.26" y2="268.65" stroke="#1a1a1a" stroke-width="0.8" />
<line x1="467.00" y1="266.45" x2="467.00" y2="269.75" stroke="#1a1a1a" stroke-width="1.2" />
<text x="461.50" y="278.60" font-size="7.0" text-anchor="start" font-weight="normal" fill="#2a2a2a" textLength="6.70" lengthAdjust="spacingAndGlyphs" stroke="#2a2a2a" stroke-width="0.12" >10</text>
<text x="468.70" y="275.30" font-size="4.4" text-anchor="start" font-weight="normal" fill="#444" textLength="3.80" lengthAdjust="spacingAndGlyphs" stroke="#444" stroke-width="0.12" >-9</text>
<line x1="471.88" y1="266.45" x2="471.88" y2="268.65" stroke="#1a1a1a" stroke-width="0.8" />
<line x1="474.73" y1="266.45" x2="474.73" y2="268.65" stroke="#1a1a1a" stroke-width="0.8" />
<line x1="476.75" y1="266.45" x2="476.75" y2="268.65" stroke="#1a1a1a" stroke-width="0.8" />
<line x1="478.32" y1="266.45" x2="478.32" y2="268.65" stroke="#1a1a1a" stroke-width="0.8" />
<line x1="479.61" y1="266.45" x2="479.61" y2="268.65" stroke="#1a1a1a" stroke-width="0.8" />
<line x1="480.69" y1="266.45" x2="480.69" y2="268.65" stroke="#1a1a1a" stroke-width="0.8" />
<line x1="481.63" y1="266.45" x2="481.63" y2="268.65" stroke="#1a1a1a" stroke-width="0.8" />
<line x1="482.46" y1="266.45" x2="482.46" y2="268.65" stroke="#1a1a1a" stroke-width="0.8" />
<line x1="483.20" y1="266.45" x2="483.20" y2="269.75" stroke="#1a1a1a" stroke-width="1.2" />
<text x="477.70" y="278.60" font-size="7.0" text-anchor="start" font-weight="normal" fill="#2a2a2a" textLength="6.70" lengthAdjust="spacingAndGlyphs" stroke="#2a2a2a" stroke-width="0.12" >10</text>
<text x="484.90" y="275.30" font-size="4.4" text-anchor="start" font-weight="normal" fill="#444" textLength="3.80" lengthAdjust="spacingAndGlyphs" stroke="#444" stroke-width="0.12" >-8</text>
<line x1="488.08" y1="266.45" x2="488.08" y2="268.65" stroke="#1a1a1a" stroke-width="0.8" />
<line x1="490.93" y1="266.45" x2="490.93" y2="268.65" stroke="#1a1a1a" stroke-width="0.8" />
<line x1="492.95" y1="266.45" x2="492.95" y2="268.65" stroke="#1a1a1a" stroke-width="0.8" />
<line x1="494.52" y1="266.45" x2="494.52" y2="268.65" stroke="#1a1a1a" stroke-width="0.8" />
<line x1="495.81" y1="266.45" x2="495.81" y2="268.65" stroke="#1a1a1a" stroke-width="0.8" />
<line x1="496.89" y1="266.45" x2="496.89" y2="268.65" stroke="#1a1a1a" stroke-width="0.8" />
<line x1="497.83" y1="266.45" x2="497.83" y2="268.65" stroke="#1a1a1a" stroke-width="0.8" />
<line x1="498.66" y1="266.45" x2="498.66" y2="268.65" stroke="#1a1a1a" stroke-width="0.8" />
<line x1="499.40" y1="266.45" x2="499.40" y2="269.75" stroke="#1a1a1a" stroke-width="1.2" />
<text x="493.90" y="278.60" font-size="7.0" text-anchor="start" font-weight="normal" fill="#2a2a2a" textLength="6.70" lengthAdjust="spacingAndGlyphs" stroke="#2a2a2a" stroke-width="0.12" >10</text>
<text x="501.10" y="275.30" font-size="4.4" text-anchor="start" font-weight="normal" fill="#444" textLength="3.80" lengthAdjust="spacingAndGlyphs" stroke="#444" stroke-width="0.12" >-7</text>
<text x="444.20" y="290.00" font-size="7.4" text-anchor="middle" font-weight="normal" fill="#222" textLength="49.2" lengthAdjust="spacingAndGlyphs" stroke="#222" stroke-width="0.5" >Concentration (M)</text>
<line x1="386.00" y1="235.05" x2="501.40" y2="235.05" stroke="#686868" stroke-width="0.95" stroke-dasharray="2,0.45"/>
<path d="M392.61,203.65L403.94,212.44L415.26,218.09L426.58,215.58L437.91,218.72L449.23,217.47L460.55,220.61L471.88,228.77L483.20,242.15" fill="none" stroke="#8c1f40" stroke-width="1.6" stroke-dasharray="2.2,1.4" stroke-linejoin="round"/>
<line x1="392.61" y1="199.65" x2="392.61" y2="207.65" stroke="#8c1f40" stroke-width="0.9" />
<line x1="391.41" y1="199.65" x2="393.81" y2="199.65" stroke="#8c1f40" stroke-width="0.8" />
<line x1="391.41" y1="207.65" x2="393.81" y2="207.65" stroke="#8c1f40" stroke-width="0.8" />
<path d="M390.81,203.65L392.61,201.85L394.41,203.65L392.61,205.45Z" fill="#8c1f40"/>
<line x1="403.94" y1="209.44" x2="403.94" y2="215.44" stroke="#8c1f40" stroke-width="0.9" />
<line x1="402.74" y1="209.44" x2="405.14" y2="209.44" stroke="#8c1f40" stroke-width="0.8" />
<line x1="402.74" y1="215.44" x2="405.14" y2="215.44" stroke="#8c1f40" stroke-width="0.8" />
<path d="M402.14,212.44L403.94,210.64L405.74,212.44L403.94,214.24Z" fill="#8c1f40"/>
<line x1="415.26" y1="212.09" x2="415.26" y2="224.09" stroke="#8c1f40" stroke-width="0.9" />
<line x1="414.06" y1="212.09" x2="416.46" y2="212.09" stroke="#8c1f40" stroke-width="0.8" />
<line x1="414.06" y1="224.09" x2="416.46" y2="224.09" stroke="#8c1f40" stroke-width="0.8" />
<path d="M413.46,218.09L415.26,216.29L417.06,218.09L415.26,219.89Z" fill="#8c1f40"/>
<line x1="426.58" y1="212.58" x2="426.58" y2="218.58" stroke="#8c1f40" stroke-width="0.9" />
<line x1="425.38" y1="212.58" x2="427.78" y2="212.58" stroke="#8c1f40" stroke-width="0.8" />
<line x1="425.38" y1="218.58" x2="427.78" y2="218.58" stroke="#8c1f40" stroke-width="0.8" />
<path d="M424.78,215.58L426.58,213.78L428.38,215.58L426.58,217.38Z" fill="#8c1f40"/>
<line x1="437.91" y1="214.72" x2="437.91" y2="222.72" stroke="#8c1f40" stroke-width="0.9" />
<line x1="436.71" y1="214.72" x2="439.11" y2="214.72" stroke="#8c1f40" stroke-width="0.8" />
<line x1="436.71" y1="222.72" x2="439.11" y2="222.72" stroke="#8c1f40" stroke-width="0.8" />
<path d="M436.11,218.72L437.91,216.92L439.71,218.72L437.91,220.52Z" fill="#8c1f40"/>
<line x1="449.23" y1="214.47" x2="449.23" y2="220.47" stroke="#8c1f40" stroke-width="0.9" />
<line x1="448.03" y1="214.47" x2="450.43" y2="214.47" stroke="#8c1f40" stroke-width="0.8" />
<line x1="448.03" y1="220.47" x2="450.43" y2="220.47" stroke="#8c1f40" stroke-width="0.8" />
<path d="M447.43,217.47L449.23,215.67L451.03,217.47L449.23,219.27Z" fill="#8c1f40"/>
<line x1="460.55" y1="216.61" x2="460.55" y2="224.61" stroke="#8c1f40" stroke-width="0.9" />
<line x1="459.35" y1="216.61" x2="461.75" y2="216.61" stroke="#8c1f40" stroke-width="0.8" />
<line x1="459.35" y1="224.61" x2="461.75" y2="224.61" stroke="#8c1f40" stroke-width="0.8" />
<path d="M458.75,220.61L460.55,218.81L462.35,220.61L460.55,222.41Z" fill="#8c1f40"/>
<line x1="471.88" y1="224.77" x2="471.88" y2="232.77" stroke="#8c1f40" stroke-width="0.9" />
<line x1="470.68" y1="224.77" x2="473.08" y2="224.77" stroke="#8c1f40" stroke-width="0.8" />
<line x1="470.68" y1="232.77" x2="473.08" y2="232.77" stroke="#8c1f40" stroke-width="0.8" />
<path d="M470.08,228.77L471.88,226.97L473.68,228.77L471.88,230.57Z" fill="#8c1f40"/>
<line x1="483.20" y1="239.15" x2="483.20" y2="245.15" stroke="#8c1f40" stroke-width="0.9" />
<line x1="482.00" y1="239.15" x2="484.40" y2="239.15" stroke="#8c1f40" stroke-width="0.8" />
<line x1="482.00" y1="245.15" x2="484.40" y2="245.15" stroke="#8c1f40" stroke-width="0.8" />
<path d="M481.40,242.15L483.20,240.35L485.00,242.15L483.20,243.95Z" fill="#8c1f40"/>
<path d="M392.61,203.65L403.94,210.56L415.26,211.19L426.58,211.81L437.91,214.33L449.23,216.21L460.55,208.86L471.88,224.06L483.20,236.31" fill="none" stroke="#2b4766" stroke-width="1.6" stroke-dasharray="2.2,1.4" stroke-linejoin="round"/>
<line x1="392.61" y1="197.15" x2="392.61" y2="210.15" stroke="#2b4766" stroke-width="0.9" />
<line x1="391.41" y1="197.15" x2="393.81" y2="197.15" stroke="#2b4766" stroke-width="0.8" />
<line x1="391.41" y1="210.15" x2="393.81" y2="210.15" stroke="#2b4766" stroke-width="0.8" />
<circle cx="392.61" cy="203.65" r="1.5" fill="none" stroke="#2b4766" stroke-width="0.9"/>
<line x1="403.94" y1="204.06" x2="403.94" y2="217.06" stroke="#2b4766" stroke-width="0.9" />
<line x1="402.74" y1="204.06" x2="405.14" y2="204.06" stroke="#2b4766" stroke-width="0.8" />
<line x1="402.74" y1="217.06" x2="405.14" y2="217.06" stroke="#2b4766" stroke-width="0.8" />
<circle cx="403.94" cy="210.56" r="1.5" fill="none" stroke="#2b4766" stroke-width="0.9"/>
<line x1="415.26" y1="207.19" x2="415.26" y2="215.19" stroke="#2b4766" stroke-width="0.9" />
<line x1="414.06" y1="207.19" x2="416.46" y2="207.19" stroke="#2b4766" stroke-width="0.8" />
<line x1="414.06" y1="215.19" x2="416.46" y2="215.19" stroke="#2b4766" stroke-width="0.8" />
<circle cx="415.26" cy="211.19" r="1.5" fill="none" stroke="#2b4766" stroke-width="0.9"/>
<line x1="426.58" y1="202.31" x2="426.58" y2="221.31" stroke="#2b4766" stroke-width="0.9" />
<line x1="425.38" y1="202.31" x2="427.78" y2="202.31" stroke="#2b4766" stroke-width="0.8" />
<line x1="425.38" y1="221.31" x2="427.78" y2="221.31" stroke="#2b4766" stroke-width="0.8" />
<circle cx="426.58" cy="211.81" r="1.5" fill="none" stroke="#2b4766" stroke-width="0.9"/>
<line x1="437.91" y1="209.33" x2="437.91" y2="219.33" stroke="#2b4766" stroke-width="0.9" />
<line x1="436.71" y1="209.33" x2="439.11" y2="209.33" stroke="#2b4766" stroke-width="0.8" />
<line x1="436.71" y1="219.33" x2="439.11" y2="219.33" stroke="#2b4766" stroke-width="0.8" />
<circle cx="437.91" cy="214.33" r="1.5" fill="none" stroke="#2b4766" stroke-width="0.9"/>
<line x1="449.23" y1="212.21" x2="449.23" y2="220.21" stroke="#2b4766" stroke-width="0.9" />
<line x1="448.03" y1="212.21" x2="450.43" y2="212.21" stroke="#2b4766" stroke-width="0.8" />
<line x1="448.03" y1="220.21" x2="450.43" y2="220.21" stroke="#2b4766" stroke-width="0.8" />
<circle cx="449.23" cy="216.21" r="1.5" fill="none" stroke="#2b4766" stroke-width="0.9"/>
<line x1="460.55" y1="202.86" x2="460.55" y2="214.86" stroke="#2b4766" stroke-width="0.9" />
<line x1="459.35" y1="202.86" x2="461.75" y2="202.86" stroke="#2b4766" stroke-width="0.8" />
<line x1="459.35" y1="214.86" x2="461.75" y2="214.86" stroke="#2b4766" stroke-width="0.8" />
<circle cx="460.55" cy="208.86" r="1.5" fill="none" stroke="#2b4766" stroke-width="0.9"/>
<line x1="471.88" y1="220.06" x2="471.88" y2="228.06" stroke="#2b4766" stroke-width="0.9" />
<line x1="470.68" y1="220.06" x2="473.08" y2="220.06" stroke="#2b4766" stroke-width="0.8" />
<line x1="470.68" y1="228.06" x2="473.08" y2="228.06" stroke="#2b4766" stroke-width="0.8" />
<circle cx="471.88" cy="224.06" r="1.5" fill="none" stroke="#2b4766" stroke-width="0.9"/>
<line x1="483.20" y1="233.31" x2="483.20" y2="239.31" stroke="#2b4766" stroke-width="0.9" />
<line x1="482.00" y1="233.31" x2="484.40" y2="233.31" stroke="#2b4766" stroke-width="0.8" />
<line x1="482.00" y1="239.31" x2="484.40" y2="239.31" stroke="#2b4766" stroke-width="0.8" />
<circle cx="483.20" cy="236.31" r="1.5" fill="none" stroke="#2b4766" stroke-width="0.9"/>
<path d="M392.61,203.65L403.94,208.36L415.26,209.93L426.58,225.00L437.91,253.26L449.23,260.80L460.55,261.43L471.88,262.05L483.20,263.94" fill="none" stroke="#7a1631" stroke-width="1.25" stroke-linejoin="round"/>
<circle cx="392.61" cy="203.65" r="1.1" fill="#7a1631"/>
<circle cx="403.94" cy="208.36" r="1.1" fill="#7a1631"/>
<circle cx="415.26" cy="209.93" r="1.1" fill="#7a1631"/>
<line x1="426.58" y1="222.50" x2="426.58" y2="227.50" stroke="#7a1631" stroke-width="0.9" />
<line x1="425.38" y1="222.50" x2="427.78" y2="222.50" stroke="#7a1631" stroke-width="0.8" />
<line x1="425.38" y1="227.50" x2="427.78" y2="227.50" stroke="#7a1631" stroke-width="0.8" />
<circle cx="426.58" cy="225.00" r="1.1" fill="#7a1631"/>
<circle cx="437.91" cy="253.26" r="1.1" fill="#7a1631"/>
<circle cx="449.23" cy="260.80" r="1.1" fill="#7a1631"/>
<circle cx="460.55" cy="261.43" r="1.1" fill="#7a1631"/>
<circle cx="471.88" cy="262.05" r="1.1" fill="#7a1631"/>
<circle cx="483.20" cy="263.94" r="1.1" fill="#7a1631"/>
<path d="M392.61,203.65L403.94,207.10L415.26,207.73L426.58,218.09L437.91,242.15L449.23,256.40L460.55,258.41L471.88,259.04L483.20,260.17" fill="none" stroke="#2c3d5e" stroke-width="1.25" stroke-linejoin="round"/>
<line x1="392.61" y1="200.65" x2="392.61" y2="206.65" stroke="#2c3d5e" stroke-width="0.9" />
<line x1="391.41" y1="200.65" x2="393.81" y2="200.65" stroke="#2c3d5e" stroke-width="0.8" />
<line x1="391.41" y1="206.65" x2="393.81" y2="206.65" stroke="#2c3d5e" stroke-width="0.8" />
<circle cx="392.61" cy="203.65" r="1.1" fill="#2c3d5e"/>
<line x1="403.94" y1="205.10" x2="403.94" y2="209.10" stroke="#2c3d5e" stroke-width="0.9" />
<line x1="402.74" y1="205.10" x2="405.14" y2="205.10" stroke="#2c3d5e" stroke-width="0.8" />
<line x1="402.74" y1="209.10" x2="405.14" y2="209.10" stroke="#2c3d5e" stroke-width="0.8" />
<circle cx="403.94" cy="207.10" r="1.1" fill="#2c3d5e"/>
<line x1="415.26" y1="204.73" x2="415.26" y2="210.73" stroke="#2c3d5e" stroke-width="0.9" />
<line x1="414.06" y1="204.73" x2="416.46" y2="204.73" stroke="#2c3d5e" stroke-width="0.8" />
<line x1="414.06" y1="210.73" x2="416.46" y2="210.73" stroke="#2c3d5e" stroke-width="0.8" />
<circle cx="415.26" cy="207.73" r="1.1" fill="#2c3d5e"/>
<line x1="426.58" y1="216.09" x2="426.58" y2="220.09" stroke="#2c3d5e" stroke-width="0.9" />
<line x1="425.38" y1="216.09" x2="427.78" y2="216.09" stroke="#2c3d5e" stroke-width="0.8" />
<line x1="425.38" y1="220.09" x2="427.78" y2="220.09" stroke="#2c3d5e" stroke-width="0.8" />
<circle cx="426.58" cy="218.09" r="1.1" fill="#2c3d5e"/>
<line x1="437.91" y1="240.65" x2="437.91" y2="243.65" stroke="#2c3d5e" stroke-width="0.9" />
<line x1="436.71" y1="240.65" x2="439.11" y2="240.65" stroke="#2c3d5e" stroke-width="0.8" />
<line x1="436.71" y1="243.65" x2="439.11" y2="243.65" stroke="#2c3d5e" stroke-width="0.8" />
<circle cx="437.91" cy="242.15" r="1.1" fill="#2c3d5e"/>
<circle cx="449.23" cy="256.40" r="1.1" fill="#2c3d5e"/>
<circle cx="460.55" cy="258.41" r="1.1" fill="#2c3d5e"/>
<circle cx="471.88" cy="259.04" r="1.1" fill="#2c3d5e"/>
<circle cx="483.20" cy="260.17" r="1.1" fill="#2c3d5e"/>
<text x="444.20" y="152.80" font-size="8.4" text-anchor="middle" font-weight="bold" fill="#0a0a0a" textLength="19.0" lengthAdjust="spacingAndGlyphs" stroke="#0a0a0a" stroke-width="0.3" >KG-1</text>
<text x="444.20" y="163.10" font-size="7.8" text-anchor="middle" font-weight="normal" fill="#222" textLength="73.5" lengthAdjust="spacingAndGlyphs" stroke="#222" stroke-width="0.12" >(p53 mutant, MDR)</text>
<line x1="55.90" y1="350.30" x2="55.90" y2="453.90" stroke="#1a1a1a" stroke-width="1.6" />
<line x1="52.50" y1="352.90" x2="55.90" y2="352.90" stroke="#1a1a1a" stroke-width="1.25" />
<text x="49.60" y="355.10" font-size="6.3" text-anchor="end" font-weight="normal" fill="#333" stroke="#333" stroke-width="0.05" >10</text>
<line x1="52.50" y1="378.00" x2="55.90" y2="378.00" stroke="#1a1a1a" stroke-width="1.25" />
<text x="49.60" y="380.20" font-size="6.3" text-anchor="end" font-weight="normal" fill="#333" stroke="#333" stroke-width="0.05" >1</text>
<line x1="52.50" y1="403.10" x2="55.90" y2="403.10" stroke="#1a1a1a" stroke-width="1.25" />
<line x1="52.50" y1="428.20" x2="55.90" y2="428.20" stroke="#1a1a1a" stroke-width="1.25" />
<text x="49.60" y="430.40" font-size="6.3" text-anchor="end" font-weight="normal" fill="#333" stroke="#333" stroke-width="0.05" >0.01</text>
<line x1="52.50" y1="453.30" x2="55.90" y2="453.30" stroke="#1a1a1a" stroke-width="1.25" />
<text x="49.60" y="455.50" font-size="6.3" text-anchor="end" font-weight="normal" fill="#333" stroke="#333" stroke-width="0.05" >0.001</text>
<text x="49.70" y="405.40" font-size="6.4" text-anchor="end" fill="#222" stroke="#222" stroke-width="0.2">IC<tspan font-size="4.35" dy="-0.1">50</tspan></text>
<line x1="53.90" y1="445.74" x2="55.90" y2="445.74" stroke="#1a1a1a" stroke-width="0.8" />
<line x1="53.90" y1="441.32" x2="55.90" y2="441.32" stroke="#1a1a1a" stroke-width="0.8" />
<line x1="53.90" y1="438.19" x2="55.90" y2="438.19" stroke="#1a1a1a" stroke-width="0.8" />
<line x1="53.90" y1="435.76" x2="55.90" y2="435.76" stroke="#1a1a1a" stroke-width="0.8" />
<line x1="53.90" y1="433.77" x2="55.90" y2="433.77" stroke="#1a1a1a" stroke-width="0.8" />
<line x1="53.90" y1="432.09" x2="55.90" y2="432.09" stroke="#1a1a1a" stroke-width="0.8" />
<line x1="53.90" y1="430.63" x2="55.90" y2="430.63" stroke="#1a1a1a" stroke-width="0.8" />
<line x1="53.90" y1="429.35" x2="55.90" y2="429.35" stroke="#1a1a1a" stroke-width="0.8" />
<line x1="53.90" y1="420.64" x2="55.90" y2="420.64" stroke="#1a1a1a" stroke-width="0.8" />
<line x1="53.90" y1="416.22" x2="55.90" y2="416.22" stroke="#1a1a1a" stroke-width="0.8" />
<line x1="53.90" y1="413.09" x2="55.90" y2="413.09" stroke="#1a1a1a" stroke-width="0.8" />
<line x1="53.90" y1="410.66" x2="55.90" y2="410.66" stroke="#1a1a1a" stroke-width="0.8" />
<line x1="53.90" y1="408.67" x2="55.90" y2="408.67" stroke="#1a1a1a" stroke-width="0.8" />
<line x1="53.90" y1="406.99" x2="55.90" y2="406.99" stroke="#1a1a1a" stroke-width="0.8" />
<line x1="53.90" y1="405.53" x2="55.90" y2="405.53" stroke="#1a1a1a" stroke-width="0.8" />
<line x1="53.90" y1="404.25" x2="55.90" y2="404.25" stroke="#1a1a1a" stroke-width="0.8" />
<line x1="53.90" y1="395.54" x2="55.90" y2="395.54" stroke="#1a1a1a" stroke-width="0.8" />
<line x1="53.90" y1="391.12" x2="55.90" y2="391.12" stroke="#1a1a1a" stroke-width="0.8" />
<line x1="53.90" y1="387.99" x2="55.90" y2="387.99" stroke="#1a1a1a" stroke-width="0.8" />
<line x1="53.90" y1="385.56" x2="55.90" y2="385.56" stroke="#1a1a1a" stroke-width="0.8" />
<line x1="53.90" y1="383.57" x2="55.90" y2="383.57" stroke="#1a1a1a" stroke-width="0.8" />
<line x1="53.90" y1="381.89" x2="55.90" y2="381.89" stroke="#1a1a1a" stroke-width="0.8" />
<line x1="53.90" y1="380.43" x2="55.90" y2="380.43" stroke="#1a1a1a" stroke-width="0.8" />
<line x1="53.90" y1="379.15" x2="55.90" y2="379.15" stroke="#1a1a1a" stroke-width="0.8" />
<line x1="53.90" y1="370.44" x2="55.90" y2="370.44" stroke="#1a1a1a" stroke-width="0.8" />
<line x1="53.90" y1="366.02" x2="55.90" y2="366.02" stroke="#1a1a1a" stroke-width="0.8" />
<line x1="53.90" y1="362.89" x2="55.90" y2="362.89" stroke="#1a1a1a" stroke-width="0.8" />
<line x1="53.90" y1="360.46" x2="55.90" y2="360.46" stroke="#1a1a1a" stroke-width="0.8" />
<line x1="53.90" y1="358.47" x2="55.90" y2="358.47" stroke="#1a1a1a" stroke-width="0.8" />
<line x1="53.90" y1="356.79" x2="55.90" y2="356.79" stroke="#1a1a1a" stroke-width="0.8" />
<line x1="53.90" y1="355.33" x2="55.90" y2="355.33" stroke="#1a1a1a" stroke-width="0.8" />
<line x1="53.90" y1="354.05" x2="55.90" y2="354.05" stroke="#1a1a1a" stroke-width="0.8" />
<text transform="translate(24.50,401.50) rotate(-90)" x="0" y="0" font-size="7.4" text-anchor="middle" fill="#222" stroke="#222" stroke-width="0.55" textLength="47" lengthAdjust="spacingAndGlyphs" dominant-baseline="central">Surviving fraction</text>
<line x1="52.40" y1="453.30" x2="174.80" y2="453.30" stroke="#1a1a1a" stroke-width="1.5" />
<line x1="55.90" y1="453.30" x2="55.90" y2="456.60" stroke="#1a1a1a" stroke-width="1.2" />
<text x="49.55" y="464.90" font-size="7.0" text-anchor="start" font-weight="normal" fill="#2a2a2a" textLength="6.70" lengthAdjust="spacingAndGlyphs" stroke="#2a2a2a" stroke-width="0.12" >10</text>
<text x="56.75" y="461.60" font-size="4.4" text-anchor="start" font-weight="normal" fill="#444" textLength="5.50" lengthAdjust="spacingAndGlyphs" stroke="#444" stroke-width="0.12" >-13</text>
<line x1="61.74" y1="453.30" x2="61.74" y2="455.50" stroke="#1a1a1a" stroke-width="0.8" />
<line x1="65.16" y1="453.30" x2="65.16" y2="455.50" stroke="#1a1a1a" stroke-width="0.8" />
<line x1="67.58" y1="453.30" x2="67.58" y2="455.50" stroke="#1a1a1a" stroke-width="0.8" />
<line x1="69.46" y1="453.30" x2="69.46" y2="455.50" stroke="#1a1a1a" stroke-width="0.8" />
<line x1="71.00" y1="453.30" x2="71.00" y2="455.50" stroke="#1a1a1a" stroke-width="0.8" />
<line x1="72.29" y1="453.30" x2="72.29" y2="455.50" stroke="#1a1a1a" stroke-width="0.8" />
<line x1="73.42" y1="453.30" x2="73.42" y2="455.50" stroke="#1a1a1a" stroke-width="0.8" />
<line x1="74.41" y1="453.30" x2="74.41" y2="455.50" stroke="#1a1a1a" stroke-width="0.8" />
<line x1="75.30" y1="453.30" x2="75.30" y2="456.60" stroke="#1a1a1a" stroke-width="1.2" />
<text x="68.95" y="464.90" font-size="7.0" text-anchor="start" font-weight="normal" fill="#2a2a2a" textLength="6.70" lengthAdjust="spacingAndGlyphs" stroke="#2a2a2a" stroke-width="0.12" >10</text>
<text x="76.15" y="461.60" font-size="4.4" text-anchor="start" font-weight="normal" fill="#444" textLength="5.50" lengthAdjust="spacingAndGlyphs" stroke="#444" stroke-width="0.12" >-12</text>
<line x1="81.14" y1="453.30" x2="81.14" y2="455.50" stroke="#1a1a1a" stroke-width="0.8" />
<line x1="84.56" y1="453.30" x2="84.56" y2="455.50" stroke="#1a1a1a" stroke-width="0.8" />
<line x1="86.98" y1="453.30" x2="86.98" y2="455.50" stroke="#1a1a1a" stroke-width="0.8" />
<line x1="88.86" y1="453.30" x2="88.86" y2="455.50" stroke="#1a1a1a" stroke-width="0.8" />
<line x1="90.40" y1="453.30" x2="90.40" y2="455.50" stroke="#1a1a1a" stroke-width="0.8" />
<line x1="91.69" y1="453.30" x2="91.69" y2="455.50" stroke="#1a1a1a" stroke-width="0.8" />
<line x1="92.82" y1="453.30" x2="92.82" y2="455.50" stroke="#1a1a1a" stroke-width="0.8" />
<line x1="93.81" y1="453.30" x2="93.81" y2="455.50" stroke="#1a1a1a" stroke-width="0.8" />
<line x1="94.70" y1="453.30" x2="94.70" y2="456.60" stroke="#1a1a1a" stroke-width="1.2" />
<text x="88.35" y="464.90" font-size="7.0" text-anchor="start" font-weight="normal" fill="#2a2a2a" textLength="6.70" lengthAdjust="spacingAndGlyphs" stroke="#2a2a2a" stroke-width="0.12" >10</text>
<text x="95.55" y="461.60" font-size="4.4" text-anchor="start" font-weight="normal" fill="#444" textLength="5.50" lengthAdjust="spacingAndGlyphs" stroke="#444" stroke-width="0.12" >-11</text>
<line x1="100.54" y1="453.30" x2="100.54" y2="455.50" stroke="#1a1a1a" stroke-width="0.8" />
<line x1="103.96" y1="453.30" x2="103.96" y2="455.50" stroke="#1a1a1a" stroke-width="0.8" />
<line x1="106.38" y1="453.30" x2="106.38" y2="455.50" stroke="#1a1a1a" stroke-width="0.8" />
<line x1="108.26" y1="453.30" x2="108.26" y2="455.50" stroke="#1a1a1a" stroke-width="0.8" />
<line x1="109.80" y1="453.30" x2="109.80" y2="455.50" stroke="#1a1a1a" stroke-width="0.8" />
<line x1="111.09" y1="453.30" x2="111.09" y2="455.50" stroke="#1a1a1a" stroke-width="0.8" />
<line x1="112.22" y1="453.30" x2="112.22" y2="455.50" stroke="#1a1a1a" stroke-width="0.8" />
<line x1="113.21" y1="453.30" x2="113.21" y2="455.50" stroke="#1a1a1a" stroke-width="0.8" />
<line x1="114.10" y1="453.30" x2="114.10" y2="456.60" stroke="#1a1a1a" stroke-width="1.2" />
<text x="107.75" y="464.90" font-size="7.0" text-anchor="start" font-weight="normal" fill="#2a2a2a" textLength="6.70" lengthAdjust="spacingAndGlyphs" stroke="#2a2a2a" stroke-width="0.12" >10</text>
<text x="114.95" y="461.60" font-size="4.4" text-anchor="start" font-weight="normal" fill="#444" textLength="5.50" lengthAdjust="spacingAndGlyphs" stroke="#444" stroke-width="0.12" >-10</text>
<line x1="119.94" y1="453.30" x2="119.94" y2="455.50" stroke="#1a1a1a" stroke-width="0.8" />
<line x1="123.36" y1="453.30" x2="123.36" y2="455.50" stroke="#1a1a1a" stroke-width="0.8" />
<line x1="125.78" y1="453.30" x2="125.78" y2="455.50" stroke="#1a1a1a" stroke-width="0.8" />
<line x1="127.66" y1="453.30" x2="127.66" y2="455.50" stroke="#1a1a1a" stroke-width="0.8" />
<line x1="129.20" y1="453.30" x2="129.20" y2="455.50" stroke="#1a1a1a" stroke-width="0.8" />
<line x1="130.49" y1="453.30" x2="130.49" y2="455.50" stroke="#1a1a1a" stroke-width="0.8" />
<line x1="131.62" y1="453.30" x2="131.62" y2="455.50" stroke="#1a1a1a" stroke-width="0.8" />
<line x1="132.61" y1="453.30" x2="132.61" y2="455.50" stroke="#1a1a1a" stroke-width="0.8" />
<line x1="133.50" y1="453.30" x2="133.50" y2="456.60" stroke="#1a1a1a" stroke-width="1.2" />
<text x="128.00" y="464.90" font-size="7.0" text-anchor="start" font-weight="normal" fill="#2a2a2a" textLength="6.70" lengthAdjust="spacingAndGlyphs" stroke="#2a2a2a" stroke-width="0.12" >10</text>
<text x="135.20" y="461.60" font-size="4.4" text-anchor="start" font-weight="normal" fill="#444" textLength="3.80" lengthAdjust="spacingAndGlyphs" stroke="#444" stroke-width="0.12" >-9</text>
<line x1="139.34" y1="453.30" x2="139.34" y2="455.50" stroke="#1a1a1a" stroke-width="0.8" />
<line x1="142.76" y1="453.30" x2="142.76" y2="455.50" stroke="#1a1a1a" stroke-width="0.8" />
<line x1="145.18" y1="453.30" x2="145.18" y2="455.50" stroke="#1a1a1a" stroke-width="0.8" />
<line x1="147.06" y1="453.30" x2="147.06" y2="455.50" stroke="#1a1a1a" stroke-width="0.8" />
<line x1="148.60" y1="453.30" x2="148.60" y2="455.50" stroke="#1a1a1a" stroke-width="0.8" />
<line x1="149.89" y1="453.30" x2="149.89" y2="455.50" stroke="#1a1a1a" stroke-width="0.8" />
<line x1="151.02" y1="453.30" x2="151.02" y2="455.50" stroke="#1a1a1a" stroke-width="0.8" />
<line x1="152.01" y1="453.30" x2="152.01" y2="455.50" stroke="#1a1a1a" stroke-width="0.8" />
<line x1="152.90" y1="453.30" x2="152.90" y2="456.60" stroke="#1a1a1a" stroke-width="1.2" />
<text x="147.40" y="464.90" font-size="7.0" text-anchor="start" font-weight="normal" fill="#2a2a2a" textLength="6.70" lengthAdjust="spacingAndGlyphs" stroke="#2a2a2a" stroke-width="0.12" >10</text>
<text x="154.60" y="461.60" font-size="4.4" text-anchor="start" font-weight="normal" fill="#444" textLength="3.80" lengthAdjust="spacingAndGlyphs" stroke="#444" stroke-width="0.12" >-8</text>
<line x1="158.74" y1="453.30" x2="158.74" y2="455.50" stroke="#1a1a1a" stroke-width="0.8" />
<line x1="162.16" y1="453.30" x2="162.16" y2="455.50" stroke="#1a1a1a" stroke-width="0.8" />
<line x1="164.58" y1="453.30" x2="164.58" y2="455.50" stroke="#1a1a1a" stroke-width="0.8" />
<line x1="166.46" y1="453.30" x2="166.46" y2="455.50" stroke="#1a1a1a" stroke-width="0.8" />
<line x1="168.00" y1="453.30" x2="168.00" y2="455.50" stroke="#1a1a1a" stroke-width="0.8" />
<line x1="169.29" y1="453.30" x2="169.29" y2="455.50" stroke="#1a1a1a" stroke-width="0.8" />
<line x1="170.42" y1="453.30" x2="170.42" y2="455.50" stroke="#1a1a1a" stroke-width="0.8" />
<line x1="171.41" y1="453.30" x2="171.41" y2="455.50" stroke="#1a1a1a" stroke-width="0.8" />
<line x1="172.30" y1="453.30" x2="172.30" y2="456.60" stroke="#1a1a1a" stroke-width="1.2" />
<text x="166.80" y="464.90" font-size="7.0" text-anchor="start" font-weight="normal" fill="#2a2a2a" textLength="6.70" lengthAdjust="spacingAndGlyphs" stroke="#2a2a2a" stroke-width="0.12" >10</text>
<text x="174.00" y="461.60" font-size="4.4" text-anchor="start" font-weight="normal" fill="#444" textLength="3.80" lengthAdjust="spacingAndGlyphs" stroke="#444" stroke-width="0.12" >-7</text>
<text x="115.00" y="476.60" font-size="7.4" text-anchor="middle" font-weight="normal" fill="#222" textLength="48.4" lengthAdjust="spacingAndGlyphs" stroke="#222" stroke-width="0.5" >Concentration (M)</text>
<line x1="55.90" y1="403.10" x2="174.30" y2="403.10" stroke="#686868" stroke-width="0.95" stroke-dasharray="2,0.45"/>
<path d="M114.10,381.58L133.50,393.56L152.90,424.15" fill="none" stroke="#8c1f40" stroke-width="1.6" stroke-dasharray="2.2,1.4" stroke-linejoin="round"/>
<circle cx="114.10" cy="381.58" r="1.35" fill="#8c1f40"/>
<circle cx="133.50" cy="393.56" r="1.35" fill="#8c1f40"/>
<circle cx="152.90" cy="424.15" r="1.35" fill="#8c1f40"/>
<path d="M114.10,378.00L133.50,382.20L152.90,407.80" fill="none" stroke="#2b4766" stroke-width="1.6" stroke-dasharray="2.2,1.4" stroke-linejoin="round"/>
<rect x="112.90" y="376.80" width="2.40" height="2.40" fill="#2b4766"/>
<rect x="132.30" y="381.00" width="2.40" height="2.40" fill="#2b4766"/>
<rect x="151.55" y="406.45" width="2.70" height="2.70" fill="#fff" stroke="#2b4766" stroke-width="0.9"/>
<path d="M75.30,378.79L94.70,402.06L113.52,453.30" fill="none" stroke="#7a1631" stroke-width="1.25" stroke-linejoin="round"/>
<circle cx="75.30" cy="378.79" r="1.1" fill="#7a1631"/>
<circle cx="94.70" cy="402.06" r="1.1" fill="#7a1631"/>
<path d="M75.30,378.00L94.70,389.44L114.10,439.34L122.44,453.30" fill="none" stroke="#2c3d5e" stroke-width="1.25" stroke-linejoin="round"/>
<circle cx="75.30" cy="378.00" r="1.1" fill="#2c3d5e"/>
<circle cx="94.70" cy="389.44" r="1.1" fill="#2c3d5e"/>
<circle cx="114.10" cy="439.34" r="1.1" fill="#2c3d5e"/>
<text x="116.10" y="333.60" font-size="8.7" text-anchor="middle" font-weight="bold" fill="#0a0a0a" textLength="69.8" lengthAdjust="spacingAndGlyphs" stroke="#0a0a0a" stroke-width="0.3" >AML patient #13</text>
<text x="116.10" y="342.80" font-size="8.1" text-anchor="middle" font-weight="normal" fill="#222" textLength="101.1" lengthAdjust="spacingAndGlyphs" stroke="#222" stroke-width="0.12" >(Diagnosis, MDR negative)</text>
<line x1="59.40" y1="426.60" x2="65.40" y2="426.60" stroke="#2c3d5e" stroke-width="1.0" />
<circle cx="62.40" cy="426.60" r="1.1" fill="#2c3d5e"/>
<text x="68.20" y="428.60" font-size="5.9" text-anchor="start" font-weight="normal" fill="#222" textLength="24.0" lengthAdjust="spacingAndGlyphs" stroke="#222" stroke-width="0.15" >IMGN632</text>
<line x1="59.40" y1="433.70" x2="65.40" y2="433.70" stroke="#7a1631" stroke-width="1.0" />
<circle cx="62.40" cy="433.70" r="1.1" fill="#7a1631"/>
<text x="68.20" y="435.70" font-size="5.9" text-anchor="start" font-weight="normal" fill="#222" textLength="15.8" lengthAdjust="spacingAndGlyphs" stroke="#222" stroke-width="0.15" >X-ADC</text>
<line x1="59.40" y1="440.80" x2="65.40" y2="440.80" stroke="#2b4766" stroke-width="1.0" />
<circle cx="62.40" cy="440.80" r="1.5" fill="none" stroke="#2b4766" stroke-width="0.9"/>
<text x="68.20" y="442.80" font-size="5.9" text-anchor="start" font-weight="normal" fill="#222" textLength="31.0" lengthAdjust="spacingAndGlyphs" stroke="#222" stroke-width="0.15" >Control ADC</text>
<line x1="59.40" y1="447.90" x2="65.40" y2="447.90" stroke="#8c1f40" stroke-width="1.0" />
<path d="M60.60,447.90L62.40,446.10L64.20,447.90L62.40,449.70Z" fill="#8c1f40"/>
<text x="68.20" y="449.90" font-size="5.9" text-anchor="start" font-weight="normal" fill="#222" textLength="34.6" lengthAdjust="spacingAndGlyphs" stroke="#222" stroke-width="0.15" >Control X-ADC</text>
<line x1="223.50" y1="350.30" x2="223.50" y2="453.90" stroke="#1a1a1a" stroke-width="1.6" />
<line x1="220.10" y1="352.90" x2="223.50" y2="352.90" stroke="#1a1a1a" stroke-width="1.25" />
<text x="217.20" y="355.10" font-size="6.3" text-anchor="end" font-weight="normal" fill="#333" stroke="#333" stroke-width="0.05" >10</text>
<line x1="220.10" y1="378.00" x2="223.50" y2="378.00" stroke="#1a1a1a" stroke-width="1.25" />
<text x="217.20" y="380.20" font-size="6.3" text-anchor="end" font-weight="normal" fill="#333" stroke="#333" stroke-width="0.05" >1</text>
<line x1="220.10" y1="403.10" x2="223.50" y2="403.10" stroke="#1a1a1a" stroke-width="1.25" />
<line x1="220.10" y1="428.20" x2="223.50" y2="428.20" stroke="#1a1a1a" stroke-width="1.25" />
<text x="217.20" y="430.40" font-size="6.3" text-anchor="end" font-weight="normal" fill="#333" stroke="#333" stroke-width="0.05" >0.01</text>
<line x1="220.10" y1="453.30" x2="223.50" y2="453.30" stroke="#1a1a1a" stroke-width="1.25" />
<text x="217.20" y="455.50" font-size="6.3" text-anchor="end" font-weight="normal" fill="#333" stroke="#333" stroke-width="0.05" >0.001</text>
<text x="217.30" y="405.40" font-size="6.4" text-anchor="end" fill="#222" stroke="#222" stroke-width="0.2">IC<tspan font-size="4.35" dy="-0.1">50</tspan></text>
<line x1="221.50" y1="445.74" x2="223.50" y2="445.74" stroke="#1a1a1a" stroke-width="0.8" />
<line x1="221.50" y1="441.32" x2="223.50" y2="441.32" stroke="#1a1a1a" stroke-width="0.8" />
<line x1="221.50" y1="438.19" x2="223.50" y2="438.19" stroke="#1a1a1a" stroke-width="0.8" />
<line x1="221.50" y1="435.76" x2="223.50" y2="435.76" stroke="#1a1a1a" stroke-width="0.8" />
<line x1="221.50" y1="433.77" x2="223.50" y2="433.77" stroke="#1a1a1a" stroke-width="0.8" />
<line x1="221.50" y1="432.09" x2="223.50" y2="432.09" stroke="#1a1a1a" stroke-width="0.8" />
<line x1="221.50" y1="430.63" x2="223.50" y2="430.63" stroke="#1a1a1a" stroke-width="0.8" />
<line x1="221.50" y1="429.35" x2="223.50" y2="429.35" stroke="#1a1a1a" stroke-width="0.8" />
<line x1="221.50" y1="420.64" x2="223.50" y2="420.64" stroke="#1a1a1a" stroke-width="0.8" />
<line x1="221.50" y1="416.22" x2="223.50" y2="416.22" stroke="#1a1a1a" stroke-width="0.8" />
<line x1="221.50" y1="413.09" x2="223.50" y2="413.09" stroke="#1a1a1a" stroke-width="0.8" />
<line x1="221.50" y1="410.66" x2="223.50" y2="410.66" stroke="#1a1a1a" stroke-width="0.8" />
<line x1="221.50" y1="408.67" x2="223.50" y2="408.67" stroke="#1a1a1a" stroke-width="0.8" />
<line x1="221.50" y1="406.99" x2="223.50" y2="406.99" stroke="#1a1a1a" stroke-width="0.8" />
<line x1="221.50" y1="405.53" x2="223.50" y2="405.53" stroke="#1a1a1a" stroke-width="0.8" />
<line x1="221.50" y1="404.25" x2="223.50" y2="404.25" stroke="#1a1a1a" stroke-width="0.8" />
<line x1="221.50" y1="395.54" x2="223.50" y2="395.54" stroke="#1a1a1a" stroke-width="0.8" />
<line x1="221.50" y1="391.12" x2="223.50" y2="391.12" stroke="#1a1a1a" stroke-width="0.8" />
<line x1="221.50" y1="387.99" x2="223.50" y2="387.99" stroke="#1a1a1a" stroke-width="0.8" />
<line x1="221.50" y1="385.56" x2="223.50" y2="385.56" stroke="#1a1a1a" stroke-width="0.8" />
<line x1="221.50" y1="383.57" x2="223.50" y2="383.57" stroke="#1a1a1a" stroke-width="0.8" />
<line x1="221.50" y1="381.89" x2="223.50" y2="381.89" stroke="#1a1a1a" stroke-width="0.8" />
<line x1="221.50" y1="380.43" x2="223.50" y2="380.43" stroke="#1a1a1a" stroke-width="0.8" />
<line x1="221.50" y1="379.15" x2="223.50" y2="379.15" stroke="#1a1a1a" stroke-width="0.8" />
<line x1="221.50" y1="370.44" x2="223.50" y2="370.44" stroke="#1a1a1a" stroke-width="0.8" />
<line x1="221.50" y1="366.02" x2="223.50" y2="366.02" stroke="#1a1a1a" stroke-width="0.8" />
<line x1="221.50" y1="362.89" x2="223.50" y2="362.89" stroke="#1a1a1a" stroke-width="0.8" />
<line x1="221.50" y1="360.46" x2="223.50" y2="360.46" stroke="#1a1a1a" stroke-width="0.8" />
<line x1="221.50" y1="358.47" x2="223.50" y2="358.47" stroke="#1a1a1a" stroke-width="0.8" />
<line x1="221.50" y1="356.79" x2="223.50" y2="356.79" stroke="#1a1a1a" stroke-width="0.8" />
<line x1="221.50" y1="355.33" x2="223.50" y2="355.33" stroke="#1a1a1a" stroke-width="0.8" />
<line x1="221.50" y1="354.05" x2="223.50" y2="354.05" stroke="#1a1a1a" stroke-width="0.8" />
<text transform="translate(192.10,401.50) rotate(-90)" x="0" y="0" font-size="7.4" text-anchor="middle" fill="#222" stroke="#222" stroke-width="0.55" textLength="47" lengthAdjust="spacingAndGlyphs" dominant-baseline="central">Surviving fraction</text>
<line x1="220.00" y1="453.30" x2="342.70" y2="453.30" stroke="#1a1a1a" stroke-width="1.5" />
<line x1="223.50" y1="453.30" x2="223.50" y2="456.60" stroke="#1a1a1a" stroke-width="1.2" />
<text x="217.15" y="464.90" font-size="7.0" text-anchor="start" font-weight="normal" fill="#2a2a2a" textLength="6.70" lengthAdjust="spacingAndGlyphs" stroke="#2a2a2a" stroke-width="0.12" >10</text>
<text x="224.35" y="461.60" font-size="4.4" text-anchor="start" font-weight="normal" fill="#444" textLength="5.50" lengthAdjust="spacingAndGlyphs" stroke="#444" stroke-width="0.12" >-13</text>
<line x1="229.36" y1="453.30" x2="229.36" y2="455.50" stroke="#1a1a1a" stroke-width="0.8" />
<line x1="232.78" y1="453.30" x2="232.78" y2="455.50" stroke="#1a1a1a" stroke-width="0.8" />
<line x1="235.21" y1="453.30" x2="235.21" y2="455.50" stroke="#1a1a1a" stroke-width="0.8" />
<line x1="237.09" y1="453.30" x2="237.09" y2="455.50" stroke="#1a1a1a" stroke-width="0.8" />
<line x1="238.64" y1="453.30" x2="238.64" y2="455.50" stroke="#1a1a1a" stroke-width="0.8" />
<line x1="239.94" y1="453.30" x2="239.94" y2="455.50" stroke="#1a1a1a" stroke-width="0.8" />
<line x1="241.07" y1="453.30" x2="241.07" y2="455.50" stroke="#1a1a1a" stroke-width="0.8" />
<line x1="242.06" y1="453.30" x2="242.06" y2="455.50" stroke="#1a1a1a" stroke-width="0.8" />
<line x1="242.95" y1="453.30" x2="242.95" y2="456.60" stroke="#1a1a1a" stroke-width="1.2" />
<text x="236.60" y="464.90" font-size="7.0" text-anchor="start" font-weight="normal" fill="#2a2a2a" textLength="6.70" lengthAdjust="spacingAndGlyphs" stroke="#2a2a2a" stroke-width="0.12" >10</text>
<text x="243.80" y="461.60" font-size="4.4" text-anchor="start" font-weight="normal" fill="#444" textLength="5.50" lengthAdjust="spacingAndGlyphs" stroke="#444" stroke-width="0.12" >-12</text>
<line x1="248.81" y1="453.30" x2="248.81" y2="455.50" stroke="#1a1a1a" stroke-width="0.8" />
<line x1="252.23" y1="453.30" x2="252.23" y2="455.50" stroke="#1a1a1a" stroke-width="0.8" />
<line x1="254.66" y1="453.30" x2="254.66" y2="455.50" stroke="#1a1a1a" stroke-width="0.8" />
<line x1="256.54" y1="453.30" x2="256.54" y2="455.50" stroke="#1a1a1a" stroke-width="0.8" />
<line x1="258.09" y1="453.30" x2="258.09" y2="455.50" stroke="#1a1a1a" stroke-width="0.8" />
<line x1="259.39" y1="453.30" x2="259.39" y2="455.50" stroke="#1a1a1a" stroke-width="0.8" />
<line x1="260.52" y1="453.30" x2="260.52" y2="455.50" stroke="#1a1a1a" stroke-width="0.8" />
<line x1="261.51" y1="453.30" x2="261.51" y2="455.50" stroke="#1a1a1a" stroke-width="0.8" />
<line x1="262.40" y1="453.30" x2="262.40" y2="456.60" stroke="#1a1a1a" stroke-width="1.2" />
<text x="256.05" y="464.90" font-size="7.0" text-anchor="start" font-weight="normal" fill="#2a2a2a" textLength="6.70" lengthAdjust="spacingAndGlyphs" stroke="#2a2a2a" stroke-width="0.12" >10</text>
<text x="263.25" y="461.60" font-size="4.4" text-anchor="start" font-weight="normal" fill="#444" textLength="5.50" lengthAdjust="spacingAndGlyphs" stroke="#444" stroke-width="0.12" >-11</text>
<line x1="268.26" y1="453.30" x2="268.26" y2="455.50" stroke="#1a1a1a" stroke-width="0.8" />
<line x1="271.68" y1="453.30" x2="271.68" y2="455.50" stroke="#1a1a1a" stroke-width="0.8" />
<line x1="274.11" y1="453.30" x2="274.11" y2="455.50" stroke="#1a1a1a" stroke-width="0.8" />
<line x1="275.99" y1="453.30" x2="275.99" y2="455.50" stroke="#1a1a1a" stroke-width="0.8" />
<line x1="277.54" y1="453.30" x2="277.54" y2="455.50" stroke="#1a1a1a" stroke-width="0.8" />
<line x1="278.84" y1="453.30" x2="278.84" y2="455.50" stroke="#1a1a1a" stroke-width="0.8" />
<line x1="279.97" y1="453.30" x2="279.97" y2="455.50" stroke="#1a1a1a" stroke-width="0.8" />
<line x1="280.96" y1="453.30" x2="280.96" y2="455.50" stroke="#1a1a1a" stroke-width="0.8" />
<line x1="281.85" y1="453.30" x2="281.85" y2="456.60" stroke="#1a1a1a" stroke-width="1.2" />
<text x="275.50" y="464.90" font-size="7.0" text-anchor="start" font-weight="normal" fill="#2a2a2a" textLength="6.70" lengthAdjust="spacingAndGlyphs" stroke="#2a2a2a" stroke-width="0.12" >10</text>
<text x="282.70" y="461.60" font-size="4.4" text-anchor="start" font-weight="normal" fill="#444" textLength="5.50" lengthAdjust="spacingAndGlyphs" stroke="#444" stroke-width="0.12" >-10</text>
<line x1="287.71" y1="453.30" x2="287.71" y2="455.50" stroke="#1a1a1a" stroke-width="0.8" />
<line x1="291.13" y1="453.30" x2="291.13" y2="455.50" stroke="#1a1a1a" stroke-width="0.8" />
<line x1="293.56" y1="453.30" x2="293.56" y2="455.50" stroke="#1a1a1a" stroke-width="0.8" />
<line x1="295.44" y1="453.30" x2="295.44" y2="455.50" stroke="#1a1a1a" stroke-width="0.8" />
<line x1="296.99" y1="453.30" x2="296.99" y2="455.50" stroke="#1a1a1a" stroke-width="0.8" />
<line x1="298.29" y1="453.30" x2="298.29" y2="455.50" stroke="#1a1a1a" stroke-width="0.8" />
<line x1="299.42" y1="453.30" x2="299.42" y2="455.50" stroke="#1a1a1a" stroke-width="0.8" />
<line x1="300.41" y1="453.30" x2="300.41" y2="455.50" stroke="#1a1a1a" stroke-width="0.8" />
<line x1="301.30" y1="453.30" x2="301.30" y2="456.60" stroke="#1a1a1a" stroke-width="1.2" />
<text x="295.80" y="464.90" font-size="7.0" text-anchor="start" font-weight="normal" fill="#2a2a2a" textLength="6.70" lengthAdjust="spacingAndGlyphs" stroke="#2a2a2a" stroke-width="0.12" >10</text>
<text x="303.00" y="461.60" font-size="4.4" text-anchor="start" font-weight="normal" fill="#444" textLength="3.80" lengthAdjust="spacingAndGlyphs" stroke="#444" stroke-width="0.12" >-9</text>
<line x1="307.16" y1="453.30" x2="307.16" y2="455.50" stroke="#1a1a1a" stroke-width="0.8" />
<line x1="310.58" y1="453.30" x2="310.58" y2="455.50" stroke="#1a1a1a" stroke-width="0.8" />
<line x1="313.01" y1="453.30" x2="313.01" y2="455.50" stroke="#1a1a1a" stroke-width="0.8" />
<line x1="314.89" y1="453.30" x2="314.89" y2="455.50" stroke="#1a1a1a" stroke-width="0.8" />
<line x1="316.44" y1="453.30" x2="316.44" y2="455.50" stroke="#1a1a1a" stroke-width="0.8" />
<line x1="317.74" y1="453.30" x2="317.74" y2="455.50" stroke="#1a1a1a" stroke-width="0.8" />
<line x1="318.87" y1="453.30" x2="318.87" y2="455.50" stroke="#1a1a1a" stroke-width="0.8" />
<line x1="319.86" y1="453.30" x2="319.86" y2="455.50" stroke="#1a1a1a" stroke-width="0.8" />
<line x1="320.75" y1="453.30" x2="320.75" y2="456.60" stroke="#1a1a1a" stroke-width="1.2" />
<text x="315.25" y="464.90" font-size="7.0" text-anchor="start" font-weight="normal" fill="#2a2a2a" textLength="6.70" lengthAdjust="spacingAndGlyphs" stroke="#2a2a2a" stroke-width="0.12" >10</text>
<text x="322.45" y="461.60" font-size="4.4" text-anchor="start" font-weight="normal" fill="#444" textLength="3.80" lengthAdjust="spacingAndGlyphs" stroke="#444" stroke-width="0.12" >-8</text>
<line x1="326.61" y1="453.30" x2="326.61" y2="455.50" stroke="#1a1a1a" stroke-width="0.8" />
<line x1="330.03" y1="453.30" x2="330.03" y2="455.50" stroke="#1a1a1a" stroke-width="0.8" />
<line x1="332.46" y1="453.30" x2="332.46" y2="455.50" stroke="#1a1a1a" stroke-width="0.8" />
<line x1="334.34" y1="453.30" x2="334.34" y2="455.50" stroke="#1a1a1a" stroke-width="0.8" />
<line x1="335.89" y1="453.30" x2="335.89" y2="455.50" stroke="#1a1a1a" stroke-width="0.8" />
<line x1="337.19" y1="453.30" x2="337.19" y2="455.50" stroke="#1a1a1a" stroke-width="0.8" />
<line x1="338.32" y1="453.30" x2="338.32" y2="455.50" stroke="#1a1a1a" stroke-width="0.8" />
<line x1="339.31" y1="453.30" x2="339.31" y2="455.50" stroke="#1a1a1a" stroke-width="0.8" />
<line x1="340.20" y1="453.30" x2="340.20" y2="456.60" stroke="#1a1a1a" stroke-width="1.2" />
<text x="334.70" y="464.90" font-size="7.0" text-anchor="start" font-weight="normal" fill="#2a2a2a" textLength="6.70" lengthAdjust="spacingAndGlyphs" stroke="#2a2a2a" stroke-width="0.12" >10</text>
<text x="341.90" y="461.60" font-size="4.4" text-anchor="start" font-weight="normal" fill="#444" textLength="3.80" lengthAdjust="spacingAndGlyphs" stroke="#444" stroke-width="0.12" >-7</text>
<text x="281.25" y="476.60" font-size="7.4" text-anchor="middle" font-weight="normal" fill="#222" textLength="48.4" lengthAdjust="spacingAndGlyphs" stroke="#222" stroke-width="0.5" >Concentration (M)</text>
<line x1="223.50" y1="403.10" x2="342.20" y2="403.10" stroke="#686868" stroke-width="0.95" stroke-dasharray="2,0.45"/>
<path d="M281.85,382.70L301.30,411.56L312.97,453.30" fill="none" stroke="#8c1f40" stroke-width="1.6" stroke-dasharray="2.2,1.4" stroke-linejoin="round"/>
<circle cx="281.85" cy="382.70" r="1.35" fill="#8c1f40"/>
<circle cx="301.30" cy="411.56" r="1.35" fill="#8c1f40"/>
<path d="M281.85,381.89L301.30,401.11L320.75,434.33" fill="none" stroke="#2b4766" stroke-width="1.6" stroke-dasharray="2.2,1.4" stroke-linejoin="round"/>
<rect x="280.65" y="380.69" width="2.40" height="2.40" fill="#2b4766"/>
<rect x="300.10" y="399.91" width="2.40" height="2.40" fill="#2b4766"/>
<rect x="319.40" y="432.98" width="2.70" height="2.70" fill="#fff" stroke="#2b4766" stroke-width="0.9"/>
<path d="M242.95,382.04L262.40,426.21L281.85,441.69L286.71,453.30" fill="none" stroke="#7a1631" stroke-width="1.25" stroke-linejoin="round"/>
<circle cx="242.95" cy="382.04" r="1.1" fill="#7a1631"/>
<circle cx="262.40" cy="426.21" r="1.1" fill="#7a1631"/>
<circle cx="281.85" cy="441.69" r="1.1" fill="#7a1631"/>
<path d="M242.95,381.89L262.40,419.36L273.10,453.30" fill="none" stroke="#2c3d5e" stroke-width="1.25" stroke-linejoin="round"/>
<circle cx="242.95" cy="381.89" r="1.1" fill="#2c3d5e"/>
<circle cx="262.40" cy="419.36" r="1.1" fill="#2c3d5e"/>
<text x="283.30" y="333.60" font-size="8.7" text-anchor="middle" font-weight="bold" fill="#0a0a0a" textLength="69.8" lengthAdjust="spacingAndGlyphs" stroke="#0a0a0a" stroke-width="0.3" >AML patient #30</text>
<text x="283.30" y="342.80" font-size="8.1" text-anchor="middle" font-weight="normal" fill="#222" textLength="85.7" lengthAdjust="spacingAndGlyphs" stroke="#222" stroke-width="0.12" >(Diagnosis, MDR high)</text>
<line x1="391.00" y1="350.30" x2="391.00" y2="453.90" stroke="#1a1a1a" stroke-width="1.6" />
<line x1="387.60" y1="352.90" x2="391.00" y2="352.90" stroke="#1a1a1a" stroke-width="1.25" />
<text x="384.70" y="355.10" font-size="6.3" text-anchor="end" font-weight="normal" fill="#333" stroke="#333" stroke-width="0.05" >10</text>
<line x1="387.60" y1="378.00" x2="391.00" y2="378.00" stroke="#1a1a1a" stroke-width="1.25" />
<text x="384.70" y="380.20" font-size="6.3" text-anchor="end" font-weight="normal" fill="#333" stroke="#333" stroke-width="0.05" >1</text>
<line x1="387.60" y1="403.10" x2="391.00" y2="403.10" stroke="#1a1a1a" stroke-width="1.25" />
<line x1="387.60" y1="428.20" x2="391.00" y2="428.20" stroke="#1a1a1a" stroke-width="1.25" />
<text x="384.70" y="430.40" font-size="6.3" text-anchor="end" font-weight="normal" fill="#333" stroke="#333" stroke-width="0.05" >0.01</text>
<line x1="387.60" y1="453.30" x2="391.00" y2="453.30" stroke="#1a1a1a" stroke-width="1.25" />
<text x="384.70" y="455.50" font-size="6.3" text-anchor="end" font-weight="normal" fill="#333" stroke="#333" stroke-width="0.05" >0.001</text>
<text x="384.80" y="405.40" font-size="6.4" text-anchor="end" fill="#222" stroke="#222" stroke-width="0.2">IC<tspan font-size="4.35" dy="-0.1">50</tspan></text>
<line x1="389.00" y1="445.74" x2="391.00" y2="445.74" stroke="#1a1a1a" stroke-width="0.8" />
<line x1="389.00" y1="441.32" x2="391.00" y2="441.32" stroke="#1a1a1a" stroke-width="0.8" />
<line x1="389.00" y1="438.19" x2="391.00" y2="438.19" stroke="#1a1a1a" stroke-width="0.8" />
<line x1="389.00" y1="435.76" x2="391.00" y2="435.76" stroke="#1a1a1a" stroke-width="0.8" />
<line x1="389.00" y1="433.77" x2="391.00" y2="433.77" stroke="#1a1a1a" stroke-width="0.8" />
<line x1="389.00" y1="432.09" x2="391.00" y2="432.09" stroke="#1a1a1a" stroke-width="0.8" />
<line x1="389.00" y1="430.63" x2="391.00" y2="430.63" stroke="#1a1a1a" stroke-width="0.8" />
<line x1="389.00" y1="429.35" x2="391.00" y2="429.35" stroke="#1a1a1a" stroke-width="0.8" />
<line x1="389.00" y1="420.64" x2="391.00" y2="420.64" stroke="#1a1a1a" stroke-width="0.8" />
<line x1="389.00" y1="416.22" x2="391.00" y2="416.22" stroke="#1a1a1a" stroke-width="0.8" />
<line x1="389.00" y1="413.09" x2="391.00" y2="413.09" stroke="#1a1a1a" stroke-width="0.8" />
<line x1="389.00" y1="410.66" x2="391.00" y2="410.66" stroke="#1a1a1a" stroke-width="0.8" />
<line x1="389.00" y1="408.67" x2="391.00" y2="408.67" stroke="#1a1a1a" stroke-width="0.8" />
<line x1="389.00" y1="406.99" x2="391.00" y2="406.99" stroke="#1a1a1a" stroke-width="0.8" />
<line x1="389.00" y1="405.53" x2="391.00" y2="405.53" stroke="#1a1a1a" stroke-width="0.8" />
<line x1="389.00" y1="404.25" x2="391.00" y2="404.25" stroke="#1a1a1a" stroke-width="0.8" />
<line x1="389.00" y1="395.54" x2="391.00" y2="395.54" stroke="#1a1a1a" stroke-width="0.8" />
<line x1="389.00" y1="391.12" x2="391.00" y2="391.12" stroke="#1a1a1a" stroke-width="0.8" />
<line x1="389.00" y1="387.99" x2="391.00" y2="387.99" stroke="#1a1a1a" stroke-width="0.8" />
<line x1="389.00" y1="385.56" x2="391.00" y2="385.56" stroke="#1a1a1a" stroke-width="0.8" />
<line x1="389.00" y1="383.57" x2="391.00" y2="383.57" stroke="#1a1a1a" stroke-width="0.8" />
<line x1="389.00" y1="381.89" x2="391.00" y2="381.89" stroke="#1a1a1a" stroke-width="0.8" />
<line x1="389.00" y1="380.43" x2="391.00" y2="380.43" stroke="#1a1a1a" stroke-width="0.8" />
<line x1="389.00" y1="379.15" x2="391.00" y2="379.15" stroke="#1a1a1a" stroke-width="0.8" />
<line x1="389.00" y1="370.44" x2="391.00" y2="370.44" stroke="#1a1a1a" stroke-width="0.8" />
<line x1="389.00" y1="366.02" x2="391.00" y2="366.02" stroke="#1a1a1a" stroke-width="0.8" />
<line x1="389.00" y1="362.89" x2="391.00" y2="362.89" stroke="#1a1a1a" stroke-width="0.8" />
<line x1="389.00" y1="360.46" x2="391.00" y2="360.46" stroke="#1a1a1a" stroke-width="0.8" />
<line x1="389.00" y1="358.47" x2="391.00" y2="358.47" stroke="#1a1a1a" stroke-width="0.8" />
<line x1="389.00" y1="356.79" x2="391.00" y2="356.79" stroke="#1a1a1a" stroke-width="0.8" />
<line x1="389.00" y1="355.33" x2="391.00" y2="355.33" stroke="#1a1a1a" stroke-width="0.8" />
<line x1="389.00" y1="354.05" x2="391.00" y2="354.05" stroke="#1a1a1a" stroke-width="0.8" />
<text transform="translate(359.60,401.50) rotate(-90)" x="0" y="0" font-size="7.4" text-anchor="middle" fill="#222" stroke="#222" stroke-width="0.55" textLength="47" lengthAdjust="spacingAndGlyphs" dominant-baseline="central">Surviving fraction</text>
<line x1="387.50" y1="453.30" x2="509.00" y2="453.30" stroke="#1a1a1a" stroke-width="1.5" />
<line x1="391.00" y1="453.30" x2="391.00" y2="456.60" stroke="#1a1a1a" stroke-width="1.2" />
<text x="384.65" y="464.90" font-size="7.0" text-anchor="start" font-weight="normal" fill="#2a2a2a" textLength="6.70" lengthAdjust="spacingAndGlyphs" stroke="#2a2a2a" stroke-width="0.12" >10</text>
<text x="391.85" y="461.60" font-size="4.4" text-anchor="start" font-weight="normal" fill="#444" textLength="5.50" lengthAdjust="spacingAndGlyphs" stroke="#444" stroke-width="0.12" >-13</text>
<line x1="396.79" y1="453.30" x2="396.79" y2="455.50" stroke="#1a1a1a" stroke-width="0.8" />
<line x1="400.18" y1="453.30" x2="400.18" y2="455.50" stroke="#1a1a1a" stroke-width="0.8" />
<line x1="402.59" y1="453.30" x2="402.59" y2="455.50" stroke="#1a1a1a" stroke-width="0.8" />
<line x1="404.46" y1="453.30" x2="404.46" y2="455.50" stroke="#1a1a1a" stroke-width="0.8" />
<line x1="405.98" y1="453.30" x2="405.98" y2="455.50" stroke="#1a1a1a" stroke-width="0.8" />
<line x1="407.27" y1="453.30" x2="407.27" y2="455.50" stroke="#1a1a1a" stroke-width="0.8" />
<line x1="408.38" y1="453.30" x2="408.38" y2="455.50" stroke="#1a1a1a" stroke-width="0.8" />
<line x1="409.37" y1="453.30" x2="409.37" y2="455.50" stroke="#1a1a1a" stroke-width="0.8" />
<line x1="410.25" y1="453.30" x2="410.25" y2="456.60" stroke="#1a1a1a" stroke-width="1.2" />
<text x="403.90" y="464.90" font-size="7.0" text-anchor="start" font-weight="normal" fill="#2a2a2a" textLength="6.70" lengthAdjust="spacingAndGlyphs" stroke="#2a2a2a" stroke-width="0.12" >10</text>
<text x="411.10" y="461.60" font-size="4.4" text-anchor="start" font-weight="normal" fill="#444" textLength="5.50" lengthAdjust="spacingAndGlyphs" stroke="#444" stroke-width="0.12" >-12</text>
<line x1="416.04" y1="453.30" x2="416.04" y2="455.50" stroke="#1a1a1a" stroke-width="0.8" />
<line x1="419.43" y1="453.30" x2="419.43" y2="455.50" stroke="#1a1a1a" stroke-width="0.8" />
<line x1="421.84" y1="453.30" x2="421.84" y2="455.50" stroke="#1a1a1a" stroke-width="0.8" />
<line x1="423.71" y1="453.30" x2="423.71" y2="455.50" stroke="#1a1a1a" stroke-width="0.8" />
<line x1="425.23" y1="453.30" x2="425.23" y2="455.50" stroke="#1a1a1a" stroke-width="0.8" />
<line x1="426.52" y1="453.30" x2="426.52" y2="455.50" stroke="#1a1a1a" stroke-width="0.8" />
<line x1="427.63" y1="453.30" x2="427.63" y2="455.50" stroke="#1a1a1a" stroke-width="0.8" />
<line x1="428.62" y1="453.30" x2="428.62" y2="455.50" stroke="#1a1a1a" stroke-width="0.8" />
<line x1="429.50" y1="453.30" x2="429.50" y2="456.60" stroke="#1a1a1a" stroke-width="1.2" />
<text x="423.15" y="464.90" font-size="7.0" text-anchor="start" font-weight="normal" fill="#2a2a2a" textLength="6.70" lengthAdjust="spacingAndGlyphs" stroke="#2a2a2a" stroke-width="0.12" >10</text>
<text x="430.35" y="461.60" font-size="4.4" text-anchor="start" font-weight="normal" fill="#444" textLength="5.50" lengthAdjust="spacingAndGlyphs" stroke="#444" stroke-width="0.12" >-11</text>
<line x1="435.29" y1="453.30" x2="435.29" y2="455.50" stroke="#1a1a1a" stroke-width="0.8" />
<line x1="438.68" y1="453.30" x2="438.68" y2="455.50" stroke="#1a1a1a" stroke-width="0.8" />
<line x1="441.09" y1="453.30" x2="441.09" y2="455.50" stroke="#1a1a1a" stroke-width="0.8" />
<line x1="442.96" y1="453.30" x2="442.96" y2="455.50" stroke="#1a1a1a" stroke-width="0.8" />
<line x1="444.48" y1="453.30" x2="444.48" y2="455.50" stroke="#1a1a1a" stroke-width="0.8" />
<line x1="445.77" y1="453.30" x2="445.77" y2="455.50" stroke="#1a1a1a" stroke-width="0.8" />
<line x1="446.88" y1="453.30" x2="446.88" y2="455.50" stroke="#1a1a1a" stroke-width="0.8" />
<line x1="447.87" y1="453.30" x2="447.87" y2="455.50" stroke="#1a1a1a" stroke-width="0.8" />
<line x1="448.75" y1="453.30" x2="448.75" y2="456.60" stroke="#1a1a1a" stroke-width="1.2" />
<text x="442.40" y="464.90" font-size="7.0" text-anchor="start" font-weight="normal" fill="#2a2a2a" textLength="6.70" lengthAdjust="spacingAndGlyphs" stroke="#2a2a2a" stroke-width="0.12" >10</text>
<text x="449.60" y="461.60" font-size="4.4" text-anchor="start" font-weight="normal" fill="#444" textLength="5.50" lengthAdjust="spacingAndGlyphs" stroke="#444" stroke-width="0.12" >-10</text>
<line x1="454.54" y1="453.30" x2="454.54" y2="455.50" stroke="#1a1a1a" stroke-width="0.8" />
<line x1="457.93" y1="453.30" x2="457.93" y2="455.50" stroke="#1a1a1a" stroke-width="0.8" />
<line x1="460.34" y1="453.30" x2="460.34" y2="455.50" stroke="#1a1a1a" stroke-width="0.8" />
<line x1="462.21" y1="453.30" x2="462.21" y2="455.50" stroke="#1a1a1a" stroke-width="0.8" />
<line x1="463.73" y1="453.30" x2="463.73" y2="455.50" stroke="#1a1a1a" stroke-width="0.8" />
<line x1="465.02" y1="453.30" x2="465.02" y2="455.50" stroke="#1a1a1a" stroke-width="0.8" />
<line x1="466.13" y1="453.30" x2="466.13" y2="455.50" stroke="#1a1a1a" stroke-width="0.8" />
<line x1="467.12" y1="453.30" x2="467.12" y2="455.50" stroke="#1a1a1a" stroke-width="0.8" />
<line x1="468.00" y1="453.30" x2="468.00" y2="456.60" stroke="#1a1a1a" stroke-width="1.2" />
<text x="462.50" y="464.90" font-size="7.0" text-anchor="start" font-weight="normal" fill="#2a2a2a" textLength="6.70" lengthAdjust="spacingAndGlyphs" stroke="#2a2a2a" stroke-width="0.12" >10</text>
<text x="469.70" y="461.60" font-size="4.4" text-anchor="start" font-weight="normal" fill="#444" textLength="3.80" lengthAdjust="spacingAndGlyphs" stroke="#444" stroke-width="0.12" >-9</text>
<line x1="473.79" y1="453.30" x2="473.79" y2="455.50" stroke="#1a1a1a" stroke-width="0.8" />
<line x1="477.18" y1="453.30" x2="477.18" y2="455.50" stroke="#1a1a1a" stroke-width="0.8" />
<line x1="479.59" y1="453.30" x2="479.59" y2="455.50" stroke="#1a1a1a" stroke-width="0.8" />
<line x1="481.46" y1="453.30" x2="481.46" y2="455.50" stroke="#1a1a1a" stroke-width="0.8" />
<line x1="482.98" y1="453.30" x2="482.98" y2="455.50" stroke="#1a1a1a" stroke-width="0.8" />
<line x1="484.27" y1="453.30" x2="484.27" y2="455.50" stroke="#1a1a1a" stroke-width="0.8" />
<line x1="485.38" y1="453.30" x2="485.38" y2="455.50" stroke="#1a1a1a" stroke-width="0.8" />
<line x1="486.37" y1="453.30" x2="486.37" y2="455.50" stroke="#1a1a1a" stroke-width="0.8" />
<line x1="487.25" y1="453.30" x2="487.25" y2="456.60" stroke="#1a1a1a" stroke-width="1.2" />
<text x="481.75" y="464.90" font-size="7.0" text-anchor="start" font-weight="normal" fill="#2a2a2a" textLength="6.70" lengthAdjust="spacingAndGlyphs" stroke="#2a2a2a" stroke-width="0.12" >10</text>
<text x="488.95" y="461.60" font-size="4.4" text-anchor="start" font-weight="normal" fill="#444" textLength="3.80" lengthAdjust="spacingAndGlyphs" stroke="#444" stroke-width="0.12" >-8</text>
<line x1="493.04" y1="453.30" x2="493.04" y2="455.50" stroke="#1a1a1a" stroke-width="0.8" />
<line x1="496.43" y1="453.30" x2="496.43" y2="455.50" stroke="#1a1a1a" stroke-width="0.8" />
<line x1="498.84" y1="453.30" x2="498.84" y2="455.50" stroke="#1a1a1a" stroke-width="0.8" />
<line x1="500.71" y1="453.30" x2="500.71" y2="455.50" stroke="#1a1a1a" stroke-width="0.8" />
<line x1="502.23" y1="453.30" x2="502.23" y2="455.50" stroke="#1a1a1a" stroke-width="0.8" />
<line x1="503.52" y1="453.30" x2="503.52" y2="455.50" stroke="#1a1a1a" stroke-width="0.8" />
<line x1="504.63" y1="453.30" x2="504.63" y2="455.50" stroke="#1a1a1a" stroke-width="0.8" />
<line x1="505.62" y1="453.30" x2="505.62" y2="455.50" stroke="#1a1a1a" stroke-width="0.8" />
<line x1="506.50" y1="453.30" x2="506.50" y2="456.60" stroke="#1a1a1a" stroke-width="1.2" />
<text x="501.00" y="464.90" font-size="7.0" text-anchor="start" font-weight="normal" fill="#2a2a2a" textLength="6.70" lengthAdjust="spacingAndGlyphs" stroke="#2a2a2a" stroke-width="0.12" >10</text>
<text x="508.20" y="461.60" font-size="4.4" text-anchor="start" font-weight="normal" fill="#444" textLength="3.80" lengthAdjust="spacingAndGlyphs" stroke="#444" stroke-width="0.12" >-7</text>
<text x="449.40" y="476.60" font-size="7.4" text-anchor="middle" font-weight="normal" fill="#222" textLength="48.4" lengthAdjust="spacingAndGlyphs" stroke="#222" stroke-width="0.5" >Concentration (M)</text>
<line x1="391.00" y1="403.10" x2="508.50" y2="403.10" stroke="#686868" stroke-width="0.95" stroke-dasharray="2,0.45"/>
<path d="M448.75,383.75L468.00,388.26L478.20,453.30" fill="none" stroke="#8c1f40" stroke-width="1.6" stroke-dasharray="2.2,1.4" stroke-linejoin="round"/>
<circle cx="448.75" cy="383.75" r="1.35" fill="#8c1f40"/>
<circle cx="468.00" cy="388.26" r="1.35" fill="#8c1f40"/>
<path d="M448.75,380.43L468.00,381.89L487.25,425.09" fill="none" stroke="#2b4766" stroke-width="1.6" stroke-dasharray="2.2,1.4" stroke-linejoin="round"/>
<rect x="447.55" y="379.23" width="2.40" height="2.40" fill="#2b4766"/>
<rect x="466.80" y="380.69" width="2.40" height="2.40" fill="#2b4766"/>
<rect x="485.90" y="423.74" width="2.70" height="2.70" fill="#fff" stroke="#2b4766" stroke-width="0.9"/>
<path d="M410.25,382.86L429.50,405.53L438.36,453.30" fill="none" stroke="#7a1631" stroke-width="1.25" stroke-linejoin="round"/>
<circle cx="410.25" cy="382.86" r="1.1" fill="#7a1631"/>
<circle cx="429.50" cy="405.53" r="1.1" fill="#7a1631"/>
<path d="M410.25,377.78L429.50,398.32L448.75,417.78L456.06,453.30" fill="none" stroke="#2c3d5e" stroke-width="1.25" stroke-linejoin="round"/>
<circle cx="410.25" cy="377.78" r="1.1" fill="#2c3d5e"/>
<circle cx="429.50" cy="398.32" r="1.1" fill="#2c3d5e"/>
<circle cx="448.75" cy="417.78" r="1.1" fill="#2c3d5e"/>
<text x="450.10" y="333.60" font-size="8.7" text-anchor="middle" font-weight="bold" fill="#0a0a0a" textLength="69.5" lengthAdjust="spacingAndGlyphs" stroke="#0a0a0a" stroke-width="0.3" >AML patient #12</text>
<text x="450.10" y="342.80" font-size="8.1" text-anchor="middle" font-weight="normal" fill="#222" textLength="117.5" lengthAdjust="spacingAndGlyphs" stroke="#222" stroke-width="0.12" >(Relapsed/refractory, MDR low)</text>
<line x1="56.30" y1="525.80" x2="56.30" y2="629.40" stroke="#1a1a1a" stroke-width="1.6" />
<line x1="52.90" y1="528.40" x2="56.30" y2="528.40" stroke="#1a1a1a" stroke-width="1.25" />
<text x="50.00" y="530.60" font-size="6.3" text-anchor="end" font-weight="normal" fill="#333" stroke="#333" stroke-width="0.05" >10</text>
<line x1="52.90" y1="553.50" x2="56.30" y2="553.50" stroke="#1a1a1a" stroke-width="1.25" />
<text x="50.00" y="555.70" font-size="6.3" text-anchor="end" font-weight="normal" fill="#333" stroke="#333" stroke-width="0.05" >1</text>
<line x1="52.90" y1="578.60" x2="56.30" y2="578.60" stroke="#1a1a1a" stroke-width="1.25" />
<line x1="52.90" y1="603.70" x2="56.30" y2="603.70" stroke="#1a1a1a" stroke-width="1.25" />
<text x="50.00" y="605.90" font-size="6.3" text-anchor="end" font-weight="normal" fill="#333" stroke="#333" stroke-width="0.05" >0.01</text>
<line x1="52.90" y1="628.80" x2="56.30" y2="628.80" stroke="#1a1a1a" stroke-width="1.25" />
<text x="50.00" y="631.00" font-size="6.3" text-anchor="end" font-weight="normal" fill="#333" stroke="#333" stroke-width="0.05" >0.001</text>
<text x="50.10" y="580.90" font-size="6.4" text-anchor="end" fill="#222" stroke="#222" stroke-width="0.2">IC<tspan font-size="4.35" dy="-0.1">50</tspan></text>
<line x1="54.30" y1="621.24" x2="56.30" y2="621.24" stroke="#1a1a1a" stroke-width="0.8" />
<line x1="54.30" y1="616.82" x2="56.30" y2="616.82" stroke="#1a1a1a" stroke-width="0.8" />
<line x1="54.30" y1="613.69" x2="56.30" y2="613.69" stroke="#1a1a1a" stroke-width="0.8" />
<line x1="54.30" y1="611.26" x2="56.30" y2="611.26" stroke="#1a1a1a" stroke-width="0.8" />
<line x1="54.30" y1="609.27" x2="56.30" y2="609.27" stroke="#1a1a1a" stroke-width="0.8" />
<line x1="54.30" y1="607.59" x2="56.30" y2="607.59" stroke="#1a1a1a" stroke-width="0.8" />
<line x1="54.30" y1="606.13" x2="56.30" y2="606.13" stroke="#1a1a1a" stroke-width="0.8" />
<line x1="54.30" y1="604.85" x2="56.30" y2="604.85" stroke="#1a1a1a" stroke-width="0.8" />
<line x1="54.30" y1="596.14" x2="56.30" y2="596.14" stroke="#1a1a1a" stroke-width="0.8" />
<line x1="54.30" y1="591.72" x2="56.30" y2="591.72" stroke="#1a1a1a" stroke-width="0.8" />
<line x1="54.30" y1="588.59" x2="56.30" y2="588.59" stroke="#1a1a1a" stroke-width="0.8" />
<line x1="54.30" y1="586.16" x2="56.30" y2="586.16" stroke="#1a1a1a" stroke-width="0.8" />
<line x1="54.30" y1="584.17" x2="56.30" y2="584.17" stroke="#1a1a1a" stroke-width="0.8" />
<line x1="54.30" y1="582.49" x2="56.30" y2="582.49" stroke="#1a1a1a" stroke-width="0.8" />
<line x1="54.30" y1="581.03" x2="56.30" y2="581.03" stroke="#1a1a1a" stroke-width="0.8" />
<line x1="54.30" y1="579.75" x2="56.30" y2="579.75" stroke="#1a1a1a" stroke-width="0.8" />
<line x1="54.30" y1="571.04" x2="56.30" y2="571.04" stroke="#1a1a1a" stroke-width="0.8" />
<line x1="54.30" y1="566.62" x2="56.30" y2="566.62" stroke="#1a1a1a" stroke-width="0.8" />
<line x1="54.30" y1="563.49" x2="56.30" y2="563.49" stroke="#1a1a1a" stroke-width="0.8" />
<line x1="54.30" y1="561.06" x2="56.30" y2="561.06" stroke="#1a1a1a" stroke-width="0.8" />
<line x1="54.30" y1="559.07" x2="56.30" y2="559.07" stroke="#1a1a1a" stroke-width="0.8" />
<line x1="54.30" y1="557.39" x2="56.30" y2="557.39" stroke="#1a1a1a" stroke-width="0.8" />
<line x1="54.30" y1="555.93" x2="56.30" y2="555.93" stroke="#1a1a1a" stroke-width="0.8" />
<line x1="54.30" y1="554.65" x2="56.30" y2="554.65" stroke="#1a1a1a" stroke-width="0.8" />
<line x1="54.30" y1="545.94" x2="56.30" y2="545.94" stroke="#1a1a1a" stroke-width="0.8" />
<line x1="54.30" y1="541.52" x2="56.30" y2="541.52" stroke="#1a1a1a" stroke-width="0.8" />
<line x1="54.30" y1="538.39" x2="56.30" y2="538.39" stroke="#1a1a1a" stroke-width="0.8" />
<line x1="54.30" y1="535.96" x2="56.30" y2="535.96" stroke="#1a1a1a" stroke-width="0.8" />
<line x1="54.30" y1="533.97" x2="56.30" y2="533.97" stroke="#1a1a1a" stroke-width="0.8" />
<line x1="54.30" y1="532.29" x2="56.30" y2="532.29" stroke="#1a1a1a" stroke-width="0.8" />
<line x1="54.30" y1="530.83" x2="56.30" y2="530.83" stroke="#1a1a1a" stroke-width="0.8" />
<line x1="54.30" y1="529.55" x2="56.30" y2="529.55" stroke="#1a1a1a" stroke-width="0.8" />
<text transform="translate(24.50,577.50) rotate(-90)" x="0" y="0" font-size="7.4" text-anchor="middle" fill="#222" stroke="#222" stroke-width="0.55" textLength="46" lengthAdjust="spacingAndGlyphs" dominant-baseline="central">Surviving fraction</text>
<line x1="52.80" y1="628.80" x2="174.80" y2="628.80" stroke="#1a1a1a" stroke-width="1.5" />
<line x1="56.30" y1="628.80" x2="56.30" y2="632.10" stroke="#1a1a1a" stroke-width="1.2" />
<text x="49.95" y="640.60" font-size="7.0" text-anchor="start" font-weight="normal" fill="#2a2a2a" textLength="6.70" lengthAdjust="spacingAndGlyphs" stroke="#2a2a2a" stroke-width="0.12" >10</text>
<text x="57.15" y="637.30" font-size="4.4" text-anchor="start" font-weight="normal" fill="#444" textLength="5.50" lengthAdjust="spacingAndGlyphs" stroke="#444" stroke-width="0.12" >-12</text>
<line x1="63.28" y1="628.80" x2="63.28" y2="631.00" stroke="#1a1a1a" stroke-width="0.8" />
<line x1="67.37" y1="628.80" x2="67.37" y2="631.00" stroke="#1a1a1a" stroke-width="0.8" />
<line x1="70.27" y1="628.80" x2="70.27" y2="631.00" stroke="#1a1a1a" stroke-width="0.8" />
<line x1="72.52" y1="628.80" x2="72.52" y2="631.00" stroke="#1a1a1a" stroke-width="0.8" />
<line x1="74.35" y1="628.80" x2="74.35" y2="631.00" stroke="#1a1a1a" stroke-width="0.8" />
<line x1="75.91" y1="628.80" x2="75.91" y2="631.00" stroke="#1a1a1a" stroke-width="0.8" />
<line x1="77.25" y1="628.80" x2="77.25" y2="631.00" stroke="#1a1a1a" stroke-width="0.8" />
<line x1="78.44" y1="628.80" x2="78.44" y2="631.00" stroke="#1a1a1a" stroke-width="0.8" />
<line x1="79.50" y1="628.80" x2="79.50" y2="632.10" stroke="#1a1a1a" stroke-width="1.2" />
<text x="73.15" y="640.60" font-size="7.0" text-anchor="start" font-weight="normal" fill="#2a2a2a" textLength="6.70" lengthAdjust="spacingAndGlyphs" stroke="#2a2a2a" stroke-width="0.12" >10</text>
<text x="80.35" y="637.30" font-size="4.4" text-anchor="start" font-weight="normal" fill="#444" textLength="5.50" lengthAdjust="spacingAndGlyphs" stroke="#444" stroke-width="0.12" >-11</text>
<line x1="86.48" y1="628.80" x2="86.48" y2="631.00" stroke="#1a1a1a" stroke-width="0.8" />
<line x1="90.57" y1="628.80" x2="90.57" y2="631.00" stroke="#1a1a1a" stroke-width="0.8" />
<line x1="93.47" y1="628.80" x2="93.47" y2="631.00" stroke="#1a1a1a" stroke-width="0.8" />
<line x1="95.72" y1="628.80" x2="95.72" y2="631.00" stroke="#1a1a1a" stroke-width="0.8" />
<line x1="97.55" y1="628.80" x2="97.55" y2="631.00" stroke="#1a1a1a" stroke-width="0.8" />
<line x1="99.11" y1="628.80" x2="99.11" y2="631.00" stroke="#1a1a1a" stroke-width="0.8" />
<line x1="100.45" y1="628.80" x2="100.45" y2="631.00" stroke="#1a1a1a" stroke-width="0.8" />
<line x1="101.64" y1="628.80" x2="101.64" y2="631.00" stroke="#1a1a1a" stroke-width="0.8" />
<line x1="102.70" y1="628.80" x2="102.70" y2="632.10" stroke="#1a1a1a" stroke-width="1.2" />
<text x="96.35" y="640.60" font-size="7.0" text-anchor="start" font-weight="normal" fill="#2a2a2a" textLength="6.70" lengthAdjust="spacingAndGlyphs" stroke="#2a2a2a" stroke-width="0.12" >10</text>
<text x="103.55" y="637.30" font-size="4.4" text-anchor="start" font-weight="normal" fill="#444" textLength="5.50" lengthAdjust="spacingAndGlyphs" stroke="#444" stroke-width="0.12" >-10</text>
<line x1="109.68" y1="628.80" x2="109.68" y2="631.00" stroke="#1a1a1a" stroke-width="0.8" />
<line x1="113.77" y1="628.80" x2="113.77" y2="631.00" stroke="#1a1a1a" stroke-width="0.8" />
<line x1="116.67" y1="628.80" x2="116.67" y2="631.00" stroke="#1a1a1a" stroke-width="0.8" />
<line x1="118.92" y1="628.80" x2="118.92" y2="631.00" stroke="#1a1a1a" stroke-width="0.8" />
<line x1="120.75" y1="628.80" x2="120.75" y2="631.00" stroke="#1a1a1a" stroke-width="0.8" />
<line x1="122.31" y1="628.80" x2="122.31" y2="631.00" stroke="#1a1a1a" stroke-width="0.8" />
<line x1="123.65" y1="628.80" x2="123.65" y2="631.00" stroke="#1a1a1a" stroke-width="0.8" />
<line x1="124.84" y1="628.80" x2="124.84" y2="631.00" stroke="#1a1a1a" stroke-width="0.8" />
<line x1="125.90" y1="628.80" x2="125.90" y2="632.10" stroke="#1a1a1a" stroke-width="1.2" />
<text x="120.40" y="640.60" font-size="7.0" text-anchor="start" font-weight="normal" fill="#2a2a2a" textLength="6.70" lengthAdjust="spacingAndGlyphs" stroke="#2a2a2a" stroke-width="0.12" >10</text>
<text x="127.60" y="637.30" font-size="4.4" text-anchor="start" font-weight="normal" fill="#444" textLength="3.80" lengthAdjust="spacingAndGlyphs" stroke="#444" stroke-width="0.12" >-9</text>
<line x1="132.88" y1="628.80" x2="132.88" y2="631.00" stroke="#1a1a1a" stroke-width="0.8" />
<line x1="136.97" y1="628.80" x2="136.97" y2="631.00" stroke="#1a1a1a" stroke-width="0.8" />
<line x1="139.87" y1="628.80" x2="139.87" y2="631.00" stroke="#1a1a1a" stroke-width="0.8" />
<line x1="142.12" y1="628.80" x2="142.12" y2="631.00" stroke="#1a1a1a" stroke-width="0.8" />
<line x1="143.95" y1="628.80" x2="143.95" y2="631.00" stroke="#1a1a1a" stroke-width="0.8" />
<line x1="145.51" y1="628.80" x2="145.51" y2="631.00" stroke="#1a1a1a" stroke-width="0.8" />
<line x1="146.85" y1="628.80" x2="146.85" y2="631.00" stroke="#1a1a1a" stroke-width="0.8" />
<line x1="148.04" y1="628.80" x2="148.04" y2="631.00" stroke="#1a1a1a" stroke-width="0.8" />
<line x1="149.10" y1="628.80" x2="149.10" y2="632.10" stroke="#1a1a1a" stroke-width="1.2" />
<text x="143.60" y="640.60" font-size="7.0" text-anchor="start" font-weight="normal" fill="#2a2a2a" textLength="6.70" lengthAdjust="spacingAndGlyphs" stroke="#2a2a2a" stroke-width="0.12" >10</text>
<text x="150.80" y="637.30" font-size="4.4" text-anchor="start" font-weight="normal" fill="#444" textLength="3.80" lengthAdjust="spacingAndGlyphs" stroke="#444" stroke-width="0.12" >-8</text>
<line x1="156.08" y1="628.80" x2="156.08" y2="631.00" stroke="#1a1a1a" stroke-width="0.8" />
<line x1="160.17" y1="628.80" x2="160.17" y2="631.00" stroke="#1a1a1a" stroke-width="0.8" />
<line x1="163.07" y1="628.80" x2="163.07" y2="631.00" stroke="#1a1a1a" stroke-width="0.8" />
<line x1="165.32" y1="628.80" x2="165.32" y2="631.00" stroke="#1a1a1a" stroke-width="0.8" />
<line x1="167.15" y1="628.80" x2="167.15" y2="631.00" stroke="#1a1a1a" stroke-width="0.8" />
<line x1="168.71" y1="628.80" x2="168.71" y2="631.00" stroke="#1a1a1a" stroke-width="0.8" />
<line x1="170.05" y1="628.80" x2="170.05" y2="631.00" stroke="#1a1a1a" stroke-width="0.8" />
<line x1="171.24" y1="628.80" x2="171.24" y2="631.00" stroke="#1a1a1a" stroke-width="0.8" />
<line x1="172.30" y1="628.80" x2="172.30" y2="632.10" stroke="#1a1a1a" stroke-width="1.2" />
<text x="166.80" y="640.60" font-size="7.0" text-anchor="start" font-weight="normal" fill="#2a2a2a" textLength="6.70" lengthAdjust="spacingAndGlyphs" stroke="#2a2a2a" stroke-width="0.12" >10</text>
<text x="174.00" y="637.30" font-size="4.4" text-anchor="start" font-weight="normal" fill="#444" textLength="3.80" lengthAdjust="spacingAndGlyphs" stroke="#444" stroke-width="0.12" >-7</text>
<text x="116.10" y="651.70" font-size="7.4" text-anchor="middle" font-weight="normal" fill="#222" textLength="49.4" lengthAdjust="spacingAndGlyphs" stroke="#222" stroke-width="0.5" >Concentration (M)</text>
<line x1="56.30" y1="578.60" x2="174.30" y2="578.60" stroke="#686868" stroke-width="0.95" stroke-dasharray="2,0.45"/>
<path d="M79.50,562.70L102.70,582.33L125.90,606.98L149.10,614.84" fill="none" stroke="#7a1631" stroke-width="1.25" stroke-linejoin="round"/>
<circle cx="79.50" cy="562.70" r="1.1" fill="#7a1631"/>
<circle cx="102.70" cy="582.33" r="1.1" fill="#7a1631"/>
<circle cx="125.90" cy="606.98" r="1.1" fill="#7a1631"/>
<circle cx="149.10" cy="614.84" r="1.1" fill="#7a1631"/>
<path d="M79.50,552.97L102.70,561.06L125.90,575.33L149.10,587.80" fill="none" stroke="#2c3d5e" stroke-width="1.25" stroke-linejoin="round"/>
<circle cx="79.50" cy="552.97" r="1.1" fill="#2c3d5e"/>
<circle cx="102.70" cy="561.06" r="1.1" fill="#2c3d5e"/>
<circle cx="125.90" cy="575.33" r="1.1" fill="#2c3d5e"/>
<circle cx="149.10" cy="587.80" r="1.1" fill="#2c3d5e"/>
<text x="116.40" y="520.00" font-size="8.8" text-anchor="middle" font-weight="bold" fill="#0a0a0a" textLength="103.4" lengthAdjust="spacingAndGlyphs" stroke="#0a0a0a" stroke-width="0.3" >Normal bone marrow #6</text>
<line x1="61.80" y1="611.30" x2="67.80" y2="611.30" stroke="#2c3d5e" stroke-width="1.0" />
<circle cx="64.80" cy="611.30" r="1.1" fill="#2c3d5e"/>
<text x="70.60" y="613.30" font-size="5.9" text-anchor="start" font-weight="normal" fill="#222" textLength="24.0" lengthAdjust="spacingAndGlyphs" stroke="#222" stroke-width="0.15" >IMGN632</text>
<line x1="61.80" y1="619.60" x2="67.80" y2="619.60" stroke="#7a1631" stroke-width="1.0" />
<circle cx="64.80" cy="619.60" r="1.1" fill="#7a1631"/>
<text x="70.60" y="621.60" font-size="5.9" text-anchor="start" font-weight="normal" fill="#222" textLength="16.8" lengthAdjust="spacingAndGlyphs" stroke="#222" stroke-width="0.15" >X-ADC</text>
<line x1="224.75" y1="525.80" x2="224.75" y2="629.40" stroke="#1a1a1a" stroke-width="1.6" />
<line x1="221.35" y1="528.40" x2="224.75" y2="528.40" stroke="#1a1a1a" stroke-width="1.25" />
<text x="218.45" y="530.60" font-size="6.3" text-anchor="end" font-weight="normal" fill="#333" stroke="#333" stroke-width="0.05" >10</text>
<line x1="221.35" y1="553.50" x2="224.75" y2="553.50" stroke="#1a1a1a" stroke-width="1.25" />
<text x="218.45" y="555.70" font-size="6.3" text-anchor="end" font-weight="normal" fill="#333" stroke="#333" stroke-width="0.05" >1</text>
<line x1="221.35" y1="578.60" x2="224.75" y2="578.60" stroke="#1a1a1a" stroke-width="1.25" />
<line x1="221.35" y1="603.70" x2="224.75" y2="603.70" stroke="#1a1a1a" stroke-width="1.25" />
<text x="218.45" y="605.90" font-size="6.3" text-anchor="end" font-weight="normal" fill="#333" stroke="#333" stroke-width="0.05" >0.01</text>
<line x1="221.35" y1="628.80" x2="224.75" y2="628.80" stroke="#1a1a1a" stroke-width="1.25" />
<text x="218.45" y="631.00" font-size="6.3" text-anchor="end" font-weight="normal" fill="#333" stroke="#333" stroke-width="0.05" >0.001</text>
<text x="218.55" y="580.90" font-size="6.4" text-anchor="end" fill="#222" stroke="#222" stroke-width="0.2">IC<tspan font-size="4.35" dy="-0.1">50</tspan></text>
<line x1="222.75" y1="621.24" x2="224.75" y2="621.24" stroke="#1a1a1a" stroke-width="0.8" />
<line x1="222.75" y1="616.82" x2="224.75" y2="616.82" stroke="#1a1a1a" stroke-width="0.8" />
<line x1="222.75" y1="613.69" x2="224.75" y2="613.69" stroke="#1a1a1a" stroke-width="0.8" />
<line x1="222.75" y1="611.26" x2="224.75" y2="611.26" stroke="#1a1a1a" stroke-width="0.8" />
<line x1="222.75" y1="609.27" x2="224.75" y2="609.27" stroke="#1a1a1a" stroke-width="0.8" />
<line x1="222.75" y1="607.59" x2="224.75" y2="607.59" stroke="#1a1a1a" stroke-width="0.8" />
<line x1="222.75" y1="606.13" x2="224.75" y2="606.13" stroke="#1a1a1a" stroke-width="0.8" />
<line x1="222.75" y1="604.85" x2="224.75" y2="604.85" stroke="#1a1a1a" stroke-width="0.8" />
<line x1="222.75" y1="596.14" x2="224.75" y2="596.14" stroke="#1a1a1a" stroke-width="0.8" />
<line x1="222.75" y1="591.72" x2="224.75" y2="591.72" stroke="#1a1a1a" stroke-width="0.8" />
<line x1="222.75" y1="588.59" x2="224.75" y2="588.59" stroke="#1a1a1a" stroke-width="0.8" />
<line x1="222.75" y1="586.16" x2="224.75" y2="586.16" stroke="#1a1a1a" stroke-width="0.8" />
<line x1="222.75" y1="584.17" x2="224.75" y2="584.17" stroke="#1a1a1a" stroke-width="0.8" />
<line x1="222.75" y1="582.49" x2="224.75" y2="582.49" stroke="#1a1a1a" stroke-width="0.8" />
<line x1="222.75" y1="581.03" x2="224.75" y2="581.03" stroke="#1a1a1a" stroke-width="0.8" />
<line x1="222.75" y1="579.75" x2="224.75" y2="579.75" stroke="#1a1a1a" stroke-width="0.8" />
<line x1="222.75" y1="571.04" x2="224.75" y2="571.04" stroke="#1a1a1a" stroke-width="0.8" />
<line x1="222.75" y1="566.62" x2="224.75" y2="566.62" stroke="#1a1a1a" stroke-width="0.8" />
<line x1="222.75" y1="563.49" x2="224.75" y2="563.49" stroke="#1a1a1a" stroke-width="0.8" />
<line x1="222.75" y1="561.06" x2="224.75" y2="561.06" stroke="#1a1a1a" stroke-width="0.8" />
<line x1="222.75" y1="559.07" x2="224.75" y2="559.07" stroke="#1a1a1a" stroke-width="0.8" />
<line x1="222.75" y1="557.39" x2="224.75" y2="557.39" stroke="#1a1a1a" stroke-width="0.8" />
<line x1="222.75" y1="555.93" x2="224.75" y2="555.93" stroke="#1a1a1a" stroke-width="0.8" />
<line x1="222.75" y1="554.65" x2="224.75" y2="554.65" stroke="#1a1a1a" stroke-width="0.8" />
<line x1="222.75" y1="545.94" x2="224.75" y2="545.94" stroke="#1a1a1a" stroke-width="0.8" />
<line x1="222.75" y1="541.52" x2="224.75" y2="541.52" stroke="#1a1a1a" stroke-width="0.8" />
<line x1="222.75" y1="538.39" x2="224.75" y2="538.39" stroke="#1a1a1a" stroke-width="0.8" />
<line x1="222.75" y1="535.96" x2="224.75" y2="535.96" stroke="#1a1a1a" stroke-width="0.8" />
<line x1="222.75" y1="533.97" x2="224.75" y2="533.97" stroke="#1a1a1a" stroke-width="0.8" />
<line x1="222.75" y1="532.29" x2="224.75" y2="532.29" stroke="#1a1a1a" stroke-width="0.8" />
<line x1="222.75" y1="530.83" x2="224.75" y2="530.83" stroke="#1a1a1a" stroke-width="0.8" />
<line x1="222.75" y1="529.55" x2="224.75" y2="529.55" stroke="#1a1a1a" stroke-width="0.8" />
<text transform="translate(192.95,577.50) rotate(-90)" x="0" y="0" font-size="7.4" text-anchor="middle" fill="#222" stroke="#222" stroke-width="0.55" textLength="46" lengthAdjust="spacingAndGlyphs" dominant-baseline="central">Surviving fraction</text>
<line x1="221.25" y1="628.80" x2="340.25" y2="628.80" stroke="#1a1a1a" stroke-width="1.5" />
<line x1="224.75" y1="628.80" x2="224.75" y2="632.10" stroke="#1a1a1a" stroke-width="1.2" />
<text x="218.40" y="640.60" font-size="7.0" text-anchor="start" font-weight="normal" fill="#2a2a2a" textLength="6.70" lengthAdjust="spacingAndGlyphs" stroke="#2a2a2a" stroke-width="0.12" >10</text>
<text x="225.60" y="637.30" font-size="4.4" text-anchor="start" font-weight="normal" fill="#444" textLength="5.50" lengthAdjust="spacingAndGlyphs" stroke="#444" stroke-width="0.12" >-12</text>
<line x1="231.55" y1="628.80" x2="231.55" y2="631.00" stroke="#1a1a1a" stroke-width="0.8" />
<line x1="235.53" y1="628.80" x2="235.53" y2="631.00" stroke="#1a1a1a" stroke-width="0.8" />
<line x1="238.36" y1="628.80" x2="238.36" y2="631.00" stroke="#1a1a1a" stroke-width="0.8" />
<line x1="240.55" y1="628.80" x2="240.55" y2="631.00" stroke="#1a1a1a" stroke-width="0.8" />
<line x1="242.34" y1="628.80" x2="242.34" y2="631.00" stroke="#1a1a1a" stroke-width="0.8" />
<line x1="243.85" y1="628.80" x2="243.85" y2="631.00" stroke="#1a1a1a" stroke-width="0.8" />
<line x1="245.16" y1="628.80" x2="245.16" y2="631.00" stroke="#1a1a1a" stroke-width="0.8" />
<line x1="246.32" y1="628.80" x2="246.32" y2="631.00" stroke="#1a1a1a" stroke-width="0.8" />
<line x1="247.35" y1="628.80" x2="247.35" y2="632.10" stroke="#1a1a1a" stroke-width="1.2" />
<text x="241.00" y="640.60" font-size="7.0" text-anchor="start" font-weight="normal" fill="#2a2a2a" textLength="6.70" lengthAdjust="spacingAndGlyphs" stroke="#2a2a2a" stroke-width="0.12" >10</text>
<text x="248.20" y="637.30" font-size="4.4" text-anchor="start" font-weight="normal" fill="#444" textLength="5.50" lengthAdjust="spacingAndGlyphs" stroke="#444" stroke-width="0.12" >-11</text>
<line x1="254.15" y1="628.80" x2="254.15" y2="631.00" stroke="#1a1a1a" stroke-width="0.8" />
<line x1="258.13" y1="628.80" x2="258.13" y2="631.00" stroke="#1a1a1a" stroke-width="0.8" />
<line x1="260.96" y1="628.80" x2="260.96" y2="631.00" stroke="#1a1a1a" stroke-width="0.8" />
<line x1="263.15" y1="628.80" x2="263.15" y2="631.00" stroke="#1a1a1a" stroke-width="0.8" />
<line x1="264.94" y1="628.80" x2="264.94" y2="631.00" stroke="#1a1a1a" stroke-width="0.8" />
<line x1="266.45" y1="628.80" x2="266.45" y2="631.00" stroke="#1a1a1a" stroke-width="0.8" />
<line x1="267.76" y1="628.80" x2="267.76" y2="631.00" stroke="#1a1a1a" stroke-width="0.8" />
<line x1="268.92" y1="628.80" x2="268.92" y2="631.00" stroke="#1a1a1a" stroke-width="0.8" />
<line x1="269.95" y1="628.80" x2="269.95" y2="632.10" stroke="#1a1a1a" stroke-width="1.2" />
<text x="263.60" y="640.60" font-size="7.0" text-anchor="start" font-weight="normal" fill="#2a2a2a" textLength="6.70" lengthAdjust="spacingAndGlyphs" stroke="#2a2a2a" stroke-width="0.12" >10</text>
<text x="270.80" y="637.30" font-size="4.4" text-anchor="start" font-weight="normal" fill="#444" textLength="5.50" lengthAdjust="spacingAndGlyphs" stroke="#444" stroke-width="0.12" >-10</text>
<line x1="276.75" y1="628.80" x2="276.75" y2="631.00" stroke="#1a1a1a" stroke-width="0.8" />
<line x1="280.73" y1="628.80" x2="280.73" y2="631.00" stroke="#1a1a1a" stroke-width="0.8" />
<line x1="283.56" y1="628.80" x2="283.56" y2="631.00" stroke="#1a1a1a" stroke-width="0.8" />
<line x1="285.75" y1="628.80" x2="285.75" y2="631.00" stroke="#1a1a1a" stroke-width="0.8" />
<line x1="287.54" y1="628.80" x2="287.54" y2="631.00" stroke="#1a1a1a" stroke-width="0.8" />
<line x1="289.05" y1="628.80" x2="289.05" y2="631.00" stroke="#1a1a1a" stroke-width="0.8" />
<line x1="290.36" y1="628.80" x2="290.36" y2="631.00" stroke="#1a1a1a" stroke-width="0.8" />
<line x1="291.52" y1="628.80" x2="291.52" y2="631.00" stroke="#1a1a1a" stroke-width="0.8" />
<line x1="292.55" y1="628.80" x2="292.55" y2="632.10" stroke="#1a1a1a" stroke-width="1.2" />
<text x="287.05" y="640.60" font-size="7.0" text-anchor="start" font-weight="normal" fill="#2a2a2a" textLength="6.70" lengthAdjust="spacingAndGlyphs" stroke="#2a2a2a" stroke-width="0.12" >10</text>
<text x="294.25" y="637.30" font-size="4.4" text-anchor="start" font-weight="normal" fill="#444" textLength="3.80" lengthAdjust="spacingAndGlyphs" stroke="#444" stroke-width="0.12" >-9</text>
<line x1="299.35" y1="628.80" x2="299.35" y2="631.00" stroke="#1a1a1a" stroke-width="0.8" />
<line x1="303.33" y1="628.80" x2="303.33" y2="631.00" stroke="#1a1a1a" stroke-width="0.8" />
<line x1="306.16" y1="628.80" x2="306.16" y2="631.00" stroke="#1a1a1a" stroke-width="0.8" />
<line x1="308.35" y1="628.80" x2="308.35" y2="631.00" stroke="#1a1a1a" stroke-width="0.8" />
<line x1="310.14" y1="628.80" x2="310.14" y2="631.00" stroke="#1a1a1a" stroke-width="0.8" />
<line x1="311.65" y1="628.80" x2="311.65" y2="631.00" stroke="#1a1a1a" stroke-width="0.8" />
<line x1="312.96" y1="628.80" x2="312.96" y2="631.00" stroke="#1a1a1a" stroke-width="0.8" />
<line x1="314.12" y1="628.80" x2="314.12" y2="631.00" stroke="#1a1a1a" stroke-width="0.8" />
<line x1="315.15" y1="628.80" x2="315.15" y2="632.10" stroke="#1a1a1a" stroke-width="1.2" />
<text x="309.65" y="640.60" font-size="7.0" text-anchor="start" font-weight="normal" fill="#2a2a2a" textLength="6.70" lengthAdjust="spacingAndGlyphs" stroke="#2a2a2a" stroke-width="0.12" >10</text>
<text x="316.85" y="637.30" font-size="4.4" text-anchor="start" font-weight="normal" fill="#444" textLength="3.80" lengthAdjust="spacingAndGlyphs" stroke="#444" stroke-width="0.12" >-8</text>
<line x1="321.95" y1="628.80" x2="321.95" y2="631.00" stroke="#1a1a1a" stroke-width="0.8" />
<line x1="325.93" y1="628.80" x2="325.93" y2="631.00" stroke="#1a1a1a" stroke-width="0.8" />
<line x1="328.76" y1="628.80" x2="328.76" y2="631.00" stroke="#1a1a1a" stroke-width="0.8" />
<line x1="330.95" y1="628.80" x2="330.95" y2="631.00" stroke="#1a1a1a" stroke-width="0.8" />
<line x1="332.74" y1="628.80" x2="332.74" y2="631.00" stroke="#1a1a1a" stroke-width="0.8" />
<line x1="334.25" y1="628.80" x2="334.25" y2="631.00" stroke="#1a1a1a" stroke-width="0.8" />
<line x1="335.56" y1="628.80" x2="335.56" y2="631.00" stroke="#1a1a1a" stroke-width="0.8" />
<line x1="336.72" y1="628.80" x2="336.72" y2="631.00" stroke="#1a1a1a" stroke-width="0.8" />
<line x1="337.75" y1="628.80" x2="337.75" y2="632.10" stroke="#1a1a1a" stroke-width="1.2" />
<text x="332.25" y="640.60" font-size="7.0" text-anchor="start" font-weight="normal" fill="#2a2a2a" textLength="6.70" lengthAdjust="spacingAndGlyphs" stroke="#2a2a2a" stroke-width="0.12" >10</text>
<text x="339.45" y="637.30" font-size="4.4" text-anchor="start" font-weight="normal" fill="#444" textLength="3.80" lengthAdjust="spacingAndGlyphs" stroke="#444" stroke-width="0.12" >-7</text>
<text x="282.50" y="651.70" font-size="7.4" text-anchor="middle" font-weight="normal" fill="#222" textLength="49.4" lengthAdjust="spacingAndGlyphs" stroke="#222" stroke-width="0.5" >Concentration (M)</text>
<line x1="224.75" y1="578.60" x2="339.75" y2="578.60" stroke="#686868" stroke-width="0.95" stroke-dasharray="2,0.45"/>
<path d="M247.35,566.27L269.95,581.03L292.55,596.94L315.15,614.84" fill="none" stroke="#7a1631" stroke-width="1.25" stroke-linejoin="round"/>
<circle cx="247.35" cy="566.27" r="1.1" fill="#7a1631"/>
<circle cx="269.95" cy="581.03" r="1.1" fill="#7a1631"/>
<circle cx="292.55" cy="596.94" r="1.1" fill="#7a1631"/>
<circle cx="315.15" cy="614.84" r="1.1" fill="#7a1631"/>
<path d="M247.35,554.29L269.95,564.19L292.55,570.77L315.15,583.99" fill="none" stroke="#2c3d5e" stroke-width="1.25" stroke-linejoin="round"/>
<circle cx="247.35" cy="554.29" r="1.1" fill="#2c3d5e"/>
<circle cx="269.95" cy="564.19" r="1.1" fill="#2c3d5e"/>
<circle cx="292.55" cy="570.77" r="1.1" fill="#2c3d5e"/>
<circle cx="315.15" cy="583.99" r="1.1" fill="#2c3d5e"/>
<text x="283.10" y="520.00" font-size="8.8" text-anchor="middle" font-weight="bold" fill="#0a0a0a" textLength="103.1" lengthAdjust="spacingAndGlyphs" stroke="#0a0a0a" stroke-width="0.3" >Normal bone marrow #8</text>
<line x1="388.70" y1="525.80" x2="388.70" y2="629.40" stroke="#1a1a1a" stroke-width="1.6" />
<line x1="385.30" y1="528.40" x2="388.70" y2="528.40" stroke="#1a1a1a" stroke-width="1.25" />
<text x="382.40" y="530.60" font-size="6.3" text-anchor="end" font-weight="normal" fill="#333" stroke="#333" stroke-width="0.05" >10</text>
<line x1="385.30" y1="553.50" x2="388.70" y2="553.50" stroke="#1a1a1a" stroke-width="1.25" />
<text x="382.40" y="555.70" font-size="6.3" text-anchor="end" font-weight="normal" fill="#333" stroke="#333" stroke-width="0.05" >1</text>
<line x1="385.30" y1="578.60" x2="388.70" y2="578.60" stroke="#1a1a1a" stroke-width="1.25" />
<line x1="385.30" y1="603.70" x2="388.70" y2="603.70" stroke="#1a1a1a" stroke-width="1.25" />
<text x="382.40" y="605.90" font-size="6.3" text-anchor="end" font-weight="normal" fill="#333" stroke="#333" stroke-width="0.05" >0.01</text>
<line x1="385.30" y1="628.80" x2="388.70" y2="628.80" stroke="#1a1a1a" stroke-width="1.25" />
<text x="382.40" y="631.00" font-size="6.3" text-anchor="end" font-weight="normal" fill="#333" stroke="#333" stroke-width="0.05" >0.001</text>
<text x="382.50" y="580.90" font-size="6.4" text-anchor="end" fill="#222" stroke="#222" stroke-width="0.2">IC<tspan font-size="4.35" dy="-0.1">50</tspan></text>
<line x1="386.70" y1="621.24" x2="388.70" y2="621.24" stroke="#1a1a1a" stroke-width="0.8" />
<line x1="386.70" y1="616.82" x2="388.70" y2="616.82" stroke="#1a1a1a" stroke-width="0.8" />
<line x1="386.70" y1="613.69" x2="388.70" y2="613.69" stroke="#1a1a1a" stroke-width="0.8" />
<line x1="386.70" y1="611.26" x2="388.70" y2="611.26" stroke="#1a1a1a" stroke-width="0.8" />
<line x1="386.70" y1="609.27" x2="388.70" y2="609.27" stroke="#1a1a1a" stroke-width="0.8" />
<line x1="386.70" y1="607.59" x2="388.70" y2="607.59" stroke="#1a1a1a" stroke-width="0.8" />
<line x1="386.70" y1="606.13" x2="388.70" y2="606.13" stroke="#1a1a1a" stroke-width="0.8" />
<line x1="386.70" y1="604.85" x2="388.70" y2="604.85" stroke="#1a1a1a" stroke-width="0.8" />
<line x1="386.70" y1="596.14" x2="388.70" y2="596.14" stroke="#1a1a1a" stroke-width="0.8" />
<line x1="386.70" y1="591.72" x2="388.70" y2="591.72" stroke="#1a1a1a" stroke-width="0.8" />
<line x1="386.70" y1="588.59" x2="388.70" y2="588.59" stroke="#1a1a1a" stroke-width="0.8" />
<line x1="386.70" y1="586.16" x2="388.70" y2="586.16" stroke="#1a1a1a" stroke-width="0.8" />
<line x1="386.70" y1="584.17" x2="388.70" y2="584.17" stroke="#1a1a1a" stroke-width="0.8" />
<line x1="386.70" y1="582.49" x2="388.70" y2="582.49" stroke="#1a1a1a" stroke-width="0.8" />
<line x1="386.70" y1="581.03" x2="388.70" y2="581.03" stroke="#1a1a1a" stroke-width="0.8" />
<line x1="386.70" y1="579.75" x2="388.70" y2="579.75" stroke="#1a1a1a" stroke-width="0.8" />
<line x1="386.70" y1="571.04" x2="388.70" y2="571.04" stroke="#1a1a1a" stroke-width="0.8" />
<line x1="386.70" y1="566.62" x2="388.70" y2="566.62" stroke="#1a1a1a" stroke-width="0.8" />
<line x1="386.70" y1="563.49" x2="388.70" y2="563.49" stroke="#1a1a1a" stroke-width="0.8" />
<line x1="386.70" y1="561.06" x2="388.70" y2="561.06" stroke="#1a1a1a" stroke-width="0.8" />
<line x1="386.70" y1="559.07" x2="388.70" y2="559.07" stroke="#1a1a1a" stroke-width="0.8" />
<line x1="386.70" y1="557.39" x2="388.70" y2="557.39" stroke="#1a1a1a" stroke-width="0.8" />
<line x1="386.70" y1="555.93" x2="388.70" y2="555.93" stroke="#1a1a1a" stroke-width="0.8" />
<line x1="386.70" y1="554.65" x2="388.70" y2="554.65" stroke="#1a1a1a" stroke-width="0.8" />
<line x1="386.70" y1="545.94" x2="388.70" y2="545.94" stroke="#1a1a1a" stroke-width="0.8" />
<line x1="386.70" y1="541.52" x2="388.70" y2="541.52" stroke="#1a1a1a" stroke-width="0.8" />
<line x1="386.70" y1="538.39" x2="388.70" y2="538.39" stroke="#1a1a1a" stroke-width="0.8" />
<line x1="386.70" y1="535.96" x2="388.70" y2="535.96" stroke="#1a1a1a" stroke-width="0.8" />
<line x1="386.70" y1="533.97" x2="388.70" y2="533.97" stroke="#1a1a1a" stroke-width="0.8" />
<line x1="386.70" y1="532.29" x2="388.70" y2="532.29" stroke="#1a1a1a" stroke-width="0.8" />
<line x1="386.70" y1="530.83" x2="388.70" y2="530.83" stroke="#1a1a1a" stroke-width="0.8" />
<line x1="386.70" y1="529.55" x2="388.70" y2="529.55" stroke="#1a1a1a" stroke-width="0.8" />
<text transform="translate(356.90,577.50) rotate(-90)" x="0" y="0" font-size="7.4" text-anchor="middle" fill="#222" stroke="#222" stroke-width="0.55" textLength="46" lengthAdjust="spacingAndGlyphs" dominant-baseline="central">Surviving fraction</text>
<line x1="385.20" y1="628.80" x2="505.45" y2="628.80" stroke="#1a1a1a" stroke-width="1.5" />
<line x1="388.70" y1="628.80" x2="388.70" y2="632.10" stroke="#1a1a1a" stroke-width="1.2" />
<text x="382.35" y="640.60" font-size="7.0" text-anchor="start" font-weight="normal" fill="#2a2a2a" textLength="6.70" lengthAdjust="spacingAndGlyphs" stroke="#2a2a2a" stroke-width="0.12" >10</text>
<text x="389.55" y="637.30" font-size="4.4" text-anchor="start" font-weight="normal" fill="#444" textLength="5.50" lengthAdjust="spacingAndGlyphs" stroke="#444" stroke-width="0.12" >-12</text>
<line x1="395.58" y1="628.80" x2="395.58" y2="631.00" stroke="#1a1a1a" stroke-width="0.8" />
<line x1="399.60" y1="628.80" x2="399.60" y2="631.00" stroke="#1a1a1a" stroke-width="0.8" />
<line x1="402.46" y1="628.80" x2="402.46" y2="631.00" stroke="#1a1a1a" stroke-width="0.8" />
<line x1="404.67" y1="628.80" x2="404.67" y2="631.00" stroke="#1a1a1a" stroke-width="0.8" />
<line x1="406.48" y1="628.80" x2="406.48" y2="631.00" stroke="#1a1a1a" stroke-width="0.8" />
<line x1="408.01" y1="628.80" x2="408.01" y2="631.00" stroke="#1a1a1a" stroke-width="0.8" />
<line x1="409.34" y1="628.80" x2="409.34" y2="631.00" stroke="#1a1a1a" stroke-width="0.8" />
<line x1="410.50" y1="628.80" x2="410.50" y2="631.00" stroke="#1a1a1a" stroke-width="0.8" />
<line x1="411.55" y1="628.80" x2="411.55" y2="632.10" stroke="#1a1a1a" stroke-width="1.2" />
<text x="405.20" y="640.60" font-size="7.0" text-anchor="start" font-weight="normal" fill="#2a2a2a" textLength="6.70" lengthAdjust="spacingAndGlyphs" stroke="#2a2a2a" stroke-width="0.12" >10</text>
<text x="412.40" y="637.30" font-size="4.4" text-anchor="start" font-weight="normal" fill="#444" textLength="5.50" lengthAdjust="spacingAndGlyphs" stroke="#444" stroke-width="0.12" >-11</text>
<line x1="418.43" y1="628.80" x2="418.43" y2="631.00" stroke="#1a1a1a" stroke-width="0.8" />
<line x1="422.45" y1="628.80" x2="422.45" y2="631.00" stroke="#1a1a1a" stroke-width="0.8" />
<line x1="425.31" y1="628.80" x2="425.31" y2="631.00" stroke="#1a1a1a" stroke-width="0.8" />
<line x1="427.52" y1="628.80" x2="427.52" y2="631.00" stroke="#1a1a1a" stroke-width="0.8" />
<line x1="429.33" y1="628.80" x2="429.33" y2="631.00" stroke="#1a1a1a" stroke-width="0.8" />
<line x1="430.86" y1="628.80" x2="430.86" y2="631.00" stroke="#1a1a1a" stroke-width="0.8" />
<line x1="432.19" y1="628.80" x2="432.19" y2="631.00" stroke="#1a1a1a" stroke-width="0.8" />
<line x1="433.35" y1="628.80" x2="433.35" y2="631.00" stroke="#1a1a1a" stroke-width="0.8" />
<line x1="434.40" y1="628.80" x2="434.40" y2="632.10" stroke="#1a1a1a" stroke-width="1.2" />
<text x="428.05" y="640.60" font-size="7.0" text-anchor="start" font-weight="normal" fill="#2a2a2a" textLength="6.70" lengthAdjust="spacingAndGlyphs" stroke="#2a2a2a" stroke-width="0.12" >10</text>
<text x="435.25" y="637.30" font-size="4.4" text-anchor="start" font-weight="normal" fill="#444" textLength="5.50" lengthAdjust="spacingAndGlyphs" stroke="#444" stroke-width="0.12" >-10</text>
<line x1="441.28" y1="628.80" x2="441.28" y2="631.00" stroke="#1a1a1a" stroke-width="0.8" />
<line x1="445.30" y1="628.80" x2="445.30" y2="631.00" stroke="#1a1a1a" stroke-width="0.8" />
<line x1="448.16" y1="628.80" x2="448.16" y2="631.00" stroke="#1a1a1a" stroke-width="0.8" />
<line x1="450.37" y1="628.80" x2="450.37" y2="631.00" stroke="#1a1a1a" stroke-width="0.8" />
<line x1="452.18" y1="628.80" x2="452.18" y2="631.00" stroke="#1a1a1a" stroke-width="0.8" />
<line x1="453.71" y1="628.80" x2="453.71" y2="631.00" stroke="#1a1a1a" stroke-width="0.8" />
<line x1="455.04" y1="628.80" x2="455.04" y2="631.00" stroke="#1a1a1a" stroke-width="0.8" />
<line x1="456.20" y1="628.80" x2="456.20" y2="631.00" stroke="#1a1a1a" stroke-width="0.8" />
<line x1="457.25" y1="628.80" x2="457.25" y2="632.10" stroke="#1a1a1a" stroke-width="1.2" />
<text x="451.75" y="640.60" font-size="7.0" text-anchor="start" font-weight="normal" fill="#2a2a2a" textLength="6.70" lengthAdjust="spacingAndGlyphs" stroke="#2a2a2a" stroke-width="0.12" >10</text>
<text x="458.95" y="637.30" font-size="4.4" text-anchor="start" font-weight="normal" fill="#444" textLength="3.80" lengthAdjust="spacingAndGlyphs" stroke="#444" stroke-width="0.12" >-9</text>
<line x1="464.13" y1="628.80" x2="464.13" y2="631.00" stroke="#1a1a1a" stroke-width="0.8" />
<line x1="468.15" y1="628.80" x2="468.15" y2="631.00" stroke="#1a1a1a" stroke-width="0.8" />
<line x1="471.01" y1="628.80" x2="471.01" y2="631.00" stroke="#1a1a1a" stroke-width="0.8" />
<line x1="473.22" y1="628.80" x2="473.22" y2="631.00" stroke="#1a1a1a" stroke-width="0.8" />
<line x1="475.03" y1="628.80" x2="475.03" y2="631.00" stroke="#1a1a1a" stroke-width="0.8" />
<line x1="476.56" y1="628.80" x2="476.56" y2="631.00" stroke="#1a1a1a" stroke-width="0.8" />
<line x1="477.89" y1="628.80" x2="477.89" y2="631.00" stroke="#1a1a1a" stroke-width="0.8" />
<line x1="479.05" y1="628.80" x2="479.05" y2="631.00" stroke="#1a1a1a" stroke-width="0.8" />
<line x1="480.10" y1="628.80" x2="480.10" y2="632.10" stroke="#1a1a1a" stroke-width="1.2" />
<text x="474.60" y="640.60" font-size="7.0" text-anchor="start" font-weight="normal" fill="#2a2a2a" textLength="6.70" lengthAdjust="spacingAndGlyphs" stroke="#2a2a2a" stroke-width="0.12" >10</text>
<text x="481.80" y="637.30" font-size="4.4" text-anchor="start" font-weight="normal" fill="#444" textLength="3.80" lengthAdjust="spacingAndGlyphs" stroke="#444" stroke-width="0.12" >-8</text>
<line x1="486.98" y1="628.80" x2="486.98" y2="631.00" stroke="#1a1a1a" stroke-width="0.8" />
<line x1="491.00" y1="628.80" x2="491.00" y2="631.00" stroke="#1a1a1a" stroke-width="0.8" />
<line x1="493.86" y1="628.80" x2="493.86" y2="631.00" stroke="#1a1a1a" stroke-width="0.8" />
<line x1="496.07" y1="628.80" x2="496.07" y2="631.00" stroke="#1a1a1a" stroke-width="0.8" />
<line x1="497.88" y1="628.80" x2="497.88" y2="631.00" stroke="#1a1a1a" stroke-width="0.8" />
<line x1="499.41" y1="628.80" x2="499.41" y2="631.00" stroke="#1a1a1a" stroke-width="0.8" />
<line x1="500.74" y1="628.80" x2="500.74" y2="631.00" stroke="#1a1a1a" stroke-width="0.8" />
<line x1="501.90" y1="628.80" x2="501.90" y2="631.00" stroke="#1a1a1a" stroke-width="0.8" />
<line x1="502.95" y1="628.80" x2="502.95" y2="632.10" stroke="#1a1a1a" stroke-width="1.2" />
<text x="497.45" y="640.60" font-size="7.0" text-anchor="start" font-weight="normal" fill="#2a2a2a" textLength="6.70" lengthAdjust="spacingAndGlyphs" stroke="#2a2a2a" stroke-width="0.12" >10</text>
<text x="504.65" y="637.30" font-size="4.4" text-anchor="start" font-weight="normal" fill="#444" textLength="3.80" lengthAdjust="spacingAndGlyphs" stroke="#444" stroke-width="0.12" >-7</text>
<text x="447.50" y="651.70" font-size="7.4" text-anchor="middle" font-weight="normal" fill="#222" textLength="49.4" lengthAdjust="spacingAndGlyphs" stroke="#222" stroke-width="0.5" >Concentration (M)</text>
<line x1="388.70" y1="578.60" x2="504.95" y2="578.60" stroke="#686868" stroke-width="0.95" stroke-dasharray="2,0.45"/>
<path d="M411.55,565.59L434.40,589.15L457.25,599.50L480.10,614.25" fill="none" stroke="#7a1631" stroke-width="1.25" stroke-linejoin="round"/>
<circle cx="411.55" cy="565.59" r="1.1" fill="#7a1631"/>
<circle cx="434.40" cy="589.15" r="1.1" fill="#7a1631"/>
<circle cx="457.25" cy="599.50" r="1.1" fill="#7a1631"/>
<circle cx="480.10" cy="614.25" r="1.1" fill="#7a1631"/>
<path d="M411.55,554.06L434.40,563.76L457.25,573.82L480.10,582.97" fill="none" stroke="#2c3d5e" stroke-width="1.25" stroke-linejoin="round"/>
<circle cx="411.55" cy="554.06" r="1.1" fill="#2c3d5e"/>
<circle cx="434.40" cy="563.76" r="1.1" fill="#2c3d5e"/>
<circle cx="457.25" cy="573.82" r="1.1" fill="#2c3d5e"/>
<circle cx="480.10" cy="582.97" r="1.1" fill="#2c3d5e"/>
<text x="447.30" y="520.00" font-size="8.8" text-anchor="middle" font-weight="bold" fill="#0a0a0a" textLength="106.2" lengthAdjust="spacingAndGlyphs" stroke="#0a0a0a" stroke-width="0.3" >Normal bone marrow #11</text>
<rect x="0.75" y="0.75" width="518.5" height="660.5" fill="none" stroke="#111" stroke-width="1.6"/>
</svg></body></html>
